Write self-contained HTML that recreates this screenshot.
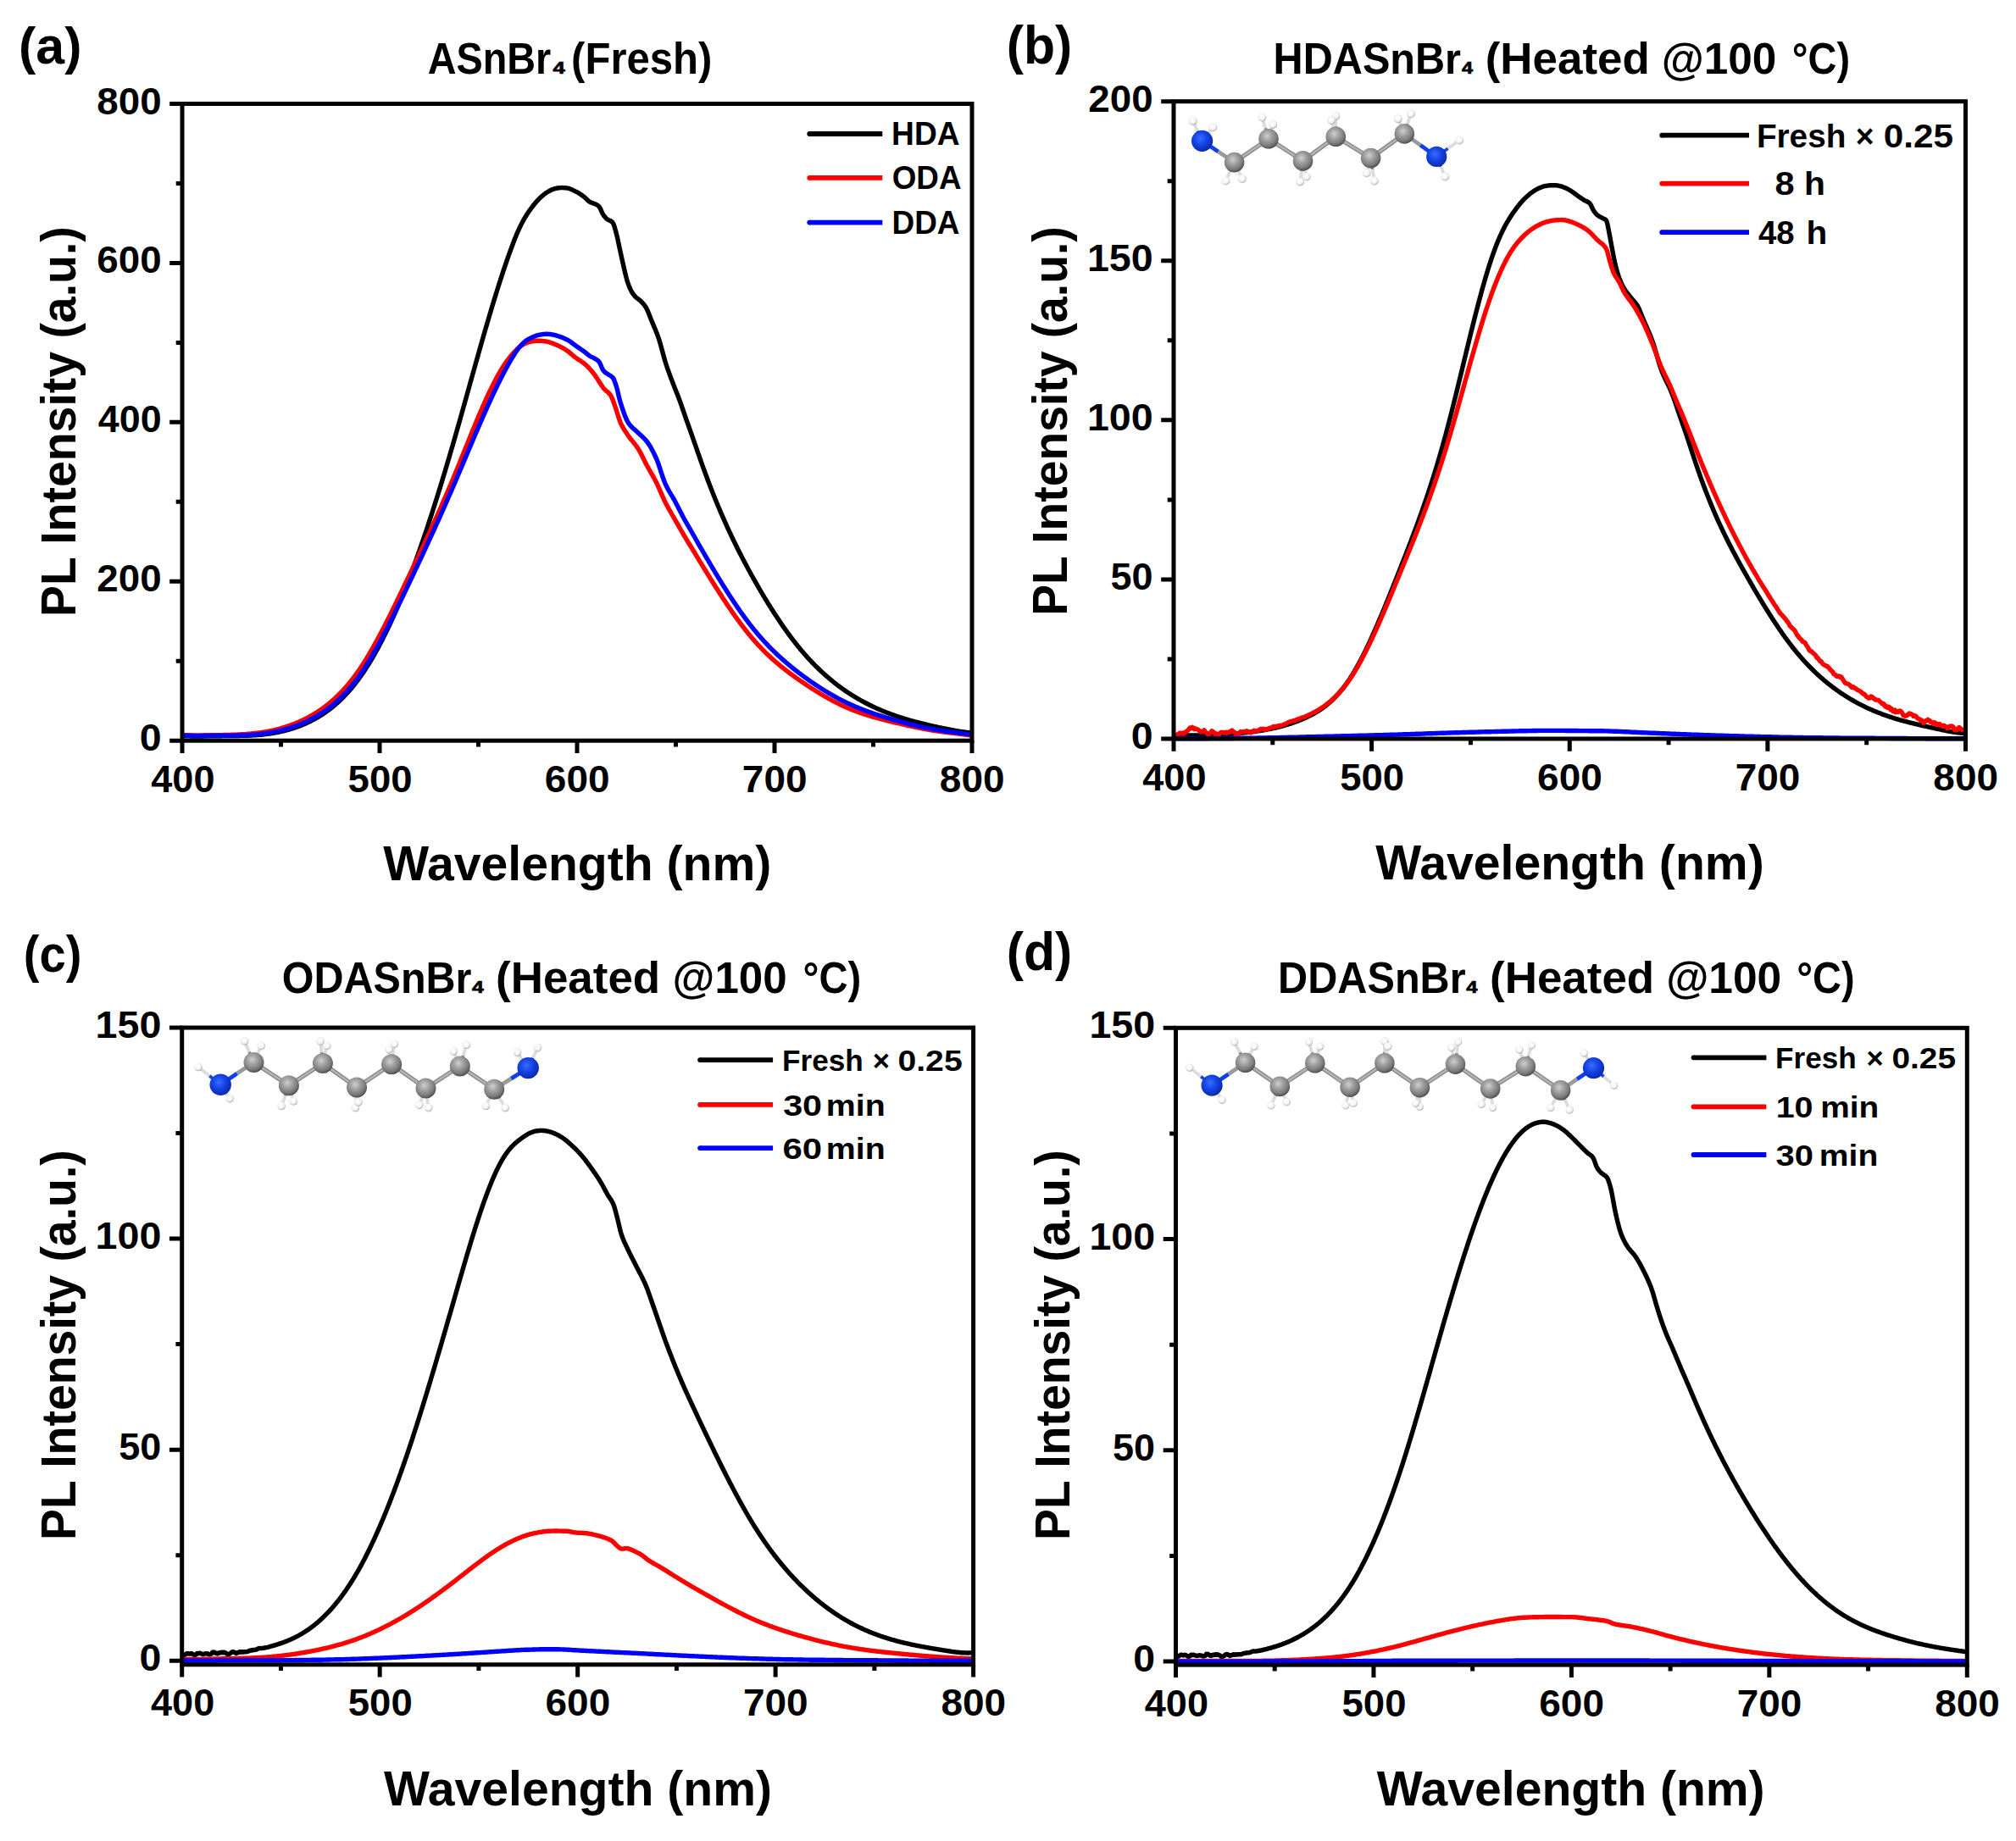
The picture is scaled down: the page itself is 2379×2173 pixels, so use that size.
<!DOCTYPE html>
<html lang="en"><head><meta charset="utf-8"><title>PL spectra</title>
<style>html,body{margin:0;padding:0;background:#fff}svg{display:block}body{width:2379px;height:2173px;overflow:hidden}</style>
</head><body>
<svg width="2379" height="2173" viewBox="0 0 2379 2173">
<defs>
<radialGradient id="gC" cx="0.42" cy="0.36" r="0.66"><stop offset="0" stop-color="#cfcfcf"/><stop offset="0.35" stop-color="#a4a4a4"/><stop offset="0.75" stop-color="#7a7a7a"/><stop offset="1" stop-color="#4a4a4a"/></radialGradient>
<radialGradient id="gN" cx="0.42" cy="0.38" r="0.62"><stop offset="0" stop-color="#3a6cff"/><stop offset="0.5" stop-color="#1444e6"/><stop offset="1" stop-color="#0a2aa8"/></radialGradient>
<radialGradient id="gH" cx="0.44" cy="0.40" r="0.60"><stop offset="0" stop-color="#ffffff"/><stop offset="0.55" stop-color="#f6f6f6"/><stop offset="0.82" stop-color="#dadada"/><stop offset="1" stop-color="#9e9e9e"/></radialGradient>
</defs>
<line x1="1418.6" y1="166.3" x2="1413.1" y2="154.5" stroke="#1a46e0" stroke-width="3.8"/>
<line x1="1413.1" y1="154.5" x2="1407.6" y2="142.7" stroke="#dcdcdc" stroke-width="3.8"/>
<line x1="1418.6" y1="166.3" x2="1424.9" y2="158.3" stroke="#1a46e0" stroke-width="3.8"/>
<line x1="1424.9" y1="158.3" x2="1431.3" y2="150.3" stroke="#dcdcdc" stroke-width="3.8"/>
<line x1="1456.6" y1="191.6" x2="1451.5" y2="202.6" stroke="#8e8e8e" stroke-width="3.8"/>
<line x1="1451.5" y1="202.6" x2="1446.4" y2="213.5" stroke="#dcdcdc" stroke-width="3.8"/>
<line x1="1456.6" y1="191.6" x2="1461.2" y2="201.3" stroke="#8e8e8e" stroke-width="3.8"/>
<line x1="1461.2" y1="201.3" x2="1465.8" y2="211.0" stroke="#dcdcdc" stroke-width="3.8"/>
<line x1="1497.0" y1="163.8" x2="1493.2" y2="151.1" stroke="#8e8e8e" stroke-width="3.8"/>
<line x1="1493.2" y1="151.1" x2="1489.4" y2="138.5" stroke="#dcdcdc" stroke-width="3.8"/>
<line x1="1497.0" y1="163.8" x2="1499.6" y2="155.4" stroke="#8e8e8e" stroke-width="3.8"/>
<line x1="1499.6" y1="155.4" x2="1502.1" y2="146.9" stroke="#dcdcdc" stroke-width="3.8"/>
<line x1="1537.5" y1="189.9" x2="1535.8" y2="202.2" stroke="#8e8e8e" stroke-width="3.8"/>
<line x1="1535.8" y1="202.2" x2="1534.1" y2="214.4" stroke="#dcdcdc" stroke-width="3.8"/>
<line x1="1537.5" y1="189.9" x2="1539.6" y2="199.2" stroke="#8e8e8e" stroke-width="3.8"/>
<line x1="1539.6" y1="199.2" x2="1541.7" y2="208.5" stroke="#dcdcdc" stroke-width="3.8"/>
<line x1="1576.3" y1="161.3" x2="1576.3" y2="149.0" stroke="#8e8e8e" stroke-width="3.8"/>
<line x1="1576.3" y1="149.0" x2="1576.3" y2="136.8" stroke="#dcdcdc" stroke-width="3.8"/>
<line x1="1576.3" y1="161.3" x2="1573.8" y2="151.6" stroke="#8e8e8e" stroke-width="3.8"/>
<line x1="1573.8" y1="151.6" x2="1571.2" y2="141.9" stroke="#dcdcdc" stroke-width="3.8"/>
<line x1="1617.6" y1="186.6" x2="1619.7" y2="200.0" stroke="#8e8e8e" stroke-width="3.8"/>
<line x1="1619.7" y1="200.0" x2="1621.8" y2="213.5" stroke="#dcdcdc" stroke-width="3.8"/>
<line x1="1617.6" y1="186.6" x2="1615.1" y2="195.4" stroke="#8e8e8e" stroke-width="3.8"/>
<line x1="1615.1" y1="195.4" x2="1612.6" y2="204.3" stroke="#dcdcdc" stroke-width="3.8"/>
<line x1="1657.3" y1="157.9" x2="1661.0" y2="146.1" stroke="#8e8e8e" stroke-width="3.8"/>
<line x1="1661.0" y1="146.1" x2="1664.8" y2="134.3" stroke="#dcdcdc" stroke-width="3.8"/>
<line x1="1657.3" y1="157.9" x2="1653.5" y2="149.0" stroke="#8e8e8e" stroke-width="3.8"/>
<line x1="1653.5" y1="149.0" x2="1649.7" y2="140.2" stroke="#dcdcdc" stroke-width="3.8"/>
<line x1="1695.2" y1="184.9" x2="1708.7" y2="175.2" stroke="#1a46e0" stroke-width="3.8"/>
<line x1="1708.7" y1="175.2" x2="1722.2" y2="165.5" stroke="#dcdcdc" stroke-width="3.8"/>
<line x1="1695.2" y1="184.9" x2="1700.3" y2="196.7" stroke="#1a46e0" stroke-width="3.8"/>
<line x1="1700.3" y1="196.7" x2="1705.3" y2="208.5" stroke="#dcdcdc" stroke-width="3.8"/>
<circle cx="1407.6" cy="142.7" r="5.0" fill="url(#gH)"/>
<circle cx="1431.3" cy="150.3" r="5.0" fill="url(#gH)"/>
<circle cx="1446.4" cy="213.5" r="5.0" fill="url(#gH)"/>
<circle cx="1465.8" cy="211.0" r="5.0" fill="url(#gH)"/>
<circle cx="1489.4" cy="138.5" r="5.0" fill="url(#gH)"/>
<circle cx="1502.1" cy="146.9" r="5.0" fill="url(#gH)"/>
<circle cx="1534.1" cy="214.4" r="5.0" fill="url(#gH)"/>
<circle cx="1541.7" cy="208.5" r="5.0" fill="url(#gH)"/>
<circle cx="1576.3" cy="136.8" r="5.0" fill="url(#gH)"/>
<circle cx="1571.2" cy="141.9" r="5.0" fill="url(#gH)"/>
<circle cx="1621.8" cy="213.5" r="5.0" fill="url(#gH)"/>
<circle cx="1612.6" cy="204.3" r="5.0" fill="url(#gH)"/>
<circle cx="1664.8" cy="134.3" r="5.0" fill="url(#gH)"/>
<circle cx="1649.7" cy="140.2" r="5.0" fill="url(#gH)"/>
<circle cx="1722.2" cy="165.5" r="5.0" fill="url(#gH)"/>
<circle cx="1705.3" cy="208.5" r="5.0" fill="url(#gH)"/>
<line x1="1418.6" y1="166.3" x2="1437.6" y2="179.0" stroke="#1040e8" stroke-width="4.8"/>
<line x1="1437.6" y1="179.0" x2="1456.6" y2="191.6" stroke="#9a9a9a" stroke-width="4.8"/>
<line x1="1456.6" y1="191.6" x2="1497.0" y2="163.8" stroke="#8a8a8a" stroke-width="5.2"/>
<line x1="1456.6" y1="191.6" x2="1497.0" y2="163.8" stroke="#b4b4b4" stroke-width="2.4"/>
<line x1="1497.0" y1="163.8" x2="1537.5" y2="189.9" stroke="#8a8a8a" stroke-width="5.2"/>
<line x1="1497.0" y1="163.8" x2="1537.5" y2="189.9" stroke="#b4b4b4" stroke-width="2.4"/>
<line x1="1537.5" y1="189.9" x2="1576.3" y2="161.3" stroke="#8a8a8a" stroke-width="5.2"/>
<line x1="1537.5" y1="189.9" x2="1576.3" y2="161.3" stroke="#b4b4b4" stroke-width="2.4"/>
<line x1="1576.3" y1="161.3" x2="1617.6" y2="186.6" stroke="#8a8a8a" stroke-width="5.2"/>
<line x1="1576.3" y1="161.3" x2="1617.6" y2="186.6" stroke="#b4b4b4" stroke-width="2.4"/>
<line x1="1617.6" y1="186.6" x2="1657.3" y2="157.9" stroke="#8a8a8a" stroke-width="5.2"/>
<line x1="1617.6" y1="186.6" x2="1657.3" y2="157.9" stroke="#b4b4b4" stroke-width="2.4"/>
<line x1="1657.3" y1="157.9" x2="1676.2" y2="171.4" stroke="#9a9a9a" stroke-width="4.8"/>
<line x1="1676.2" y1="171.4" x2="1695.2" y2="184.9" stroke="#1040e8" stroke-width="4.8"/>
<circle cx="1418.6" cy="166.3" r="12.6" fill="url(#gN)"/>
<circle cx="1456.6" cy="191.6" r="11.8" fill="url(#gC)"/>
<circle cx="1497.0" cy="163.8" r="11.8" fill="url(#gC)"/>
<circle cx="1537.5" cy="189.9" r="11.8" fill="url(#gC)"/>
<circle cx="1576.3" cy="161.3" r="11.8" fill="url(#gC)"/>
<circle cx="1617.6" cy="186.6" r="11.8" fill="url(#gC)"/>
<circle cx="1657.3" cy="157.9" r="11.8" fill="url(#gC)"/>
<circle cx="1695.2" cy="184.9" r="12.1" fill="url(#gN)"/>
<line x1="260.2" y1="1280.2" x2="247.1" y2="1269.8" stroke="#1a46e0" stroke-width="3.8"/>
<line x1="247.1" y1="1269.8" x2="234.0" y2="1259.5" stroke="#dcdcdc" stroke-width="3.8"/>
<line x1="260.2" y1="1280.2" x2="265.7" y2="1288.4" stroke="#1a46e0" stroke-width="3.8"/>
<line x1="265.7" y1="1288.4" x2="271.1" y2="1296.6" stroke="#dcdcdc" stroke-width="3.8"/>
<line x1="299.5" y1="1254.0" x2="294.0" y2="1241.5" stroke="#8e8e8e" stroke-width="3.8"/>
<line x1="294.0" y1="1241.5" x2="288.6" y2="1228.9" stroke="#dcdcdc" stroke-width="3.8"/>
<line x1="299.5" y1="1254.0" x2="303.8" y2="1244.2" stroke="#8e8e8e" stroke-width="3.8"/>
<line x1="303.8" y1="1244.2" x2="308.2" y2="1234.4" stroke="#dcdcdc" stroke-width="3.8"/>
<line x1="340.9" y1="1281.3" x2="336.6" y2="1293.3" stroke="#8e8e8e" stroke-width="3.8"/>
<line x1="336.6" y1="1293.3" x2="332.2" y2="1305.3" stroke="#dcdcdc" stroke-width="3.8"/>
<line x1="340.9" y1="1281.3" x2="343.7" y2="1290.6" stroke="#8e8e8e" stroke-width="3.8"/>
<line x1="343.7" y1="1290.6" x2="346.4" y2="1299.8" stroke="#dcdcdc" stroke-width="3.8"/>
<line x1="380.9" y1="1255.1" x2="379.5" y2="1242.0" stroke="#8e8e8e" stroke-width="3.8"/>
<line x1="379.5" y1="1242.0" x2="378.1" y2="1228.9" stroke="#dcdcdc" stroke-width="3.8"/>
<line x1="380.9" y1="1255.1" x2="383.3" y2="1244.7" stroke="#8e8e8e" stroke-width="3.8"/>
<line x1="383.3" y1="1244.7" x2="385.7" y2="1234.4" stroke="#dcdcdc" stroke-width="3.8"/>
<line x1="421.0" y1="1283.5" x2="420.3" y2="1295.5" stroke="#8e8e8e" stroke-width="3.8"/>
<line x1="420.3" y1="1295.5" x2="419.5" y2="1307.5" stroke="#dcdcdc" stroke-width="3.8"/>
<line x1="421.0" y1="1283.5" x2="421.9" y2="1292.2" stroke="#8e8e8e" stroke-width="3.8"/>
<line x1="421.9" y1="1292.2" x2="422.8" y2="1300.9" stroke="#dcdcdc" stroke-width="3.8"/>
<line x1="462.1" y1="1256.2" x2="463.7" y2="1244.2" stroke="#8e8e8e" stroke-width="3.8"/>
<line x1="463.7" y1="1244.2" x2="465.4" y2="1232.2" stroke="#dcdcdc" stroke-width="3.8"/>
<line x1="462.1" y1="1256.2" x2="460.4" y2="1247.5" stroke="#8e8e8e" stroke-width="3.8"/>
<line x1="460.4" y1="1247.5" x2="458.8" y2="1238.7" stroke="#dcdcdc" stroke-width="3.8"/>
<line x1="502.5" y1="1284.6" x2="504.1" y2="1296.0" stroke="#8e8e8e" stroke-width="3.8"/>
<line x1="504.1" y1="1296.0" x2="505.7" y2="1307.5" stroke="#dcdcdc" stroke-width="3.8"/>
<line x1="502.5" y1="1284.6" x2="498.6" y2="1294.4" stroke="#8e8e8e" stroke-width="3.8"/>
<line x1="498.6" y1="1294.4" x2="494.8" y2="1304.2" stroke="#dcdcdc" stroke-width="3.8"/>
<line x1="542.8" y1="1258.4" x2="546.7" y2="1245.8" stroke="#8e8e8e" stroke-width="3.8"/>
<line x1="546.7" y1="1245.8" x2="550.5" y2="1233.3" stroke="#dcdcdc" stroke-width="3.8"/>
<line x1="542.8" y1="1258.4" x2="539.0" y2="1249.6" stroke="#8e8e8e" stroke-width="3.8"/>
<line x1="539.0" y1="1249.6" x2="535.2" y2="1240.9" stroke="#dcdcdc" stroke-width="3.8"/>
<line x1="583.2" y1="1285.7" x2="589.8" y2="1296.6" stroke="#8e8e8e" stroke-width="3.8"/>
<line x1="589.8" y1="1296.6" x2="596.3" y2="1307.5" stroke="#dcdcdc" stroke-width="3.8"/>
<line x1="583.2" y1="1285.7" x2="578.3" y2="1295.5" stroke="#8e8e8e" stroke-width="3.8"/>
<line x1="578.3" y1="1295.5" x2="573.4" y2="1305.3" stroke="#dcdcdc" stroke-width="3.8"/>
<line x1="623.2" y1="1260.6" x2="628.8" y2="1248.6" stroke="#1a46e0" stroke-width="3.8"/>
<line x1="628.8" y1="1248.6" x2="634.5" y2="1236.6" stroke="#dcdcdc" stroke-width="3.8"/>
<line x1="623.2" y1="1260.6" x2="616.8" y2="1251.3" stroke="#1a46e0" stroke-width="3.8"/>
<line x1="616.8" y1="1251.3" x2="610.5" y2="1242.0" stroke="#dcdcdc" stroke-width="3.8"/>
<circle cx="234.0" cy="1259.5" r="4.8" fill="url(#gH)"/>
<circle cx="271.1" cy="1296.6" r="4.8" fill="url(#gH)"/>
<circle cx="288.6" cy="1228.9" r="4.8" fill="url(#gH)"/>
<circle cx="308.2" cy="1234.4" r="4.8" fill="url(#gH)"/>
<circle cx="332.2" cy="1305.3" r="4.8" fill="url(#gH)"/>
<circle cx="346.4" cy="1299.8" r="4.8" fill="url(#gH)"/>
<circle cx="378.1" cy="1228.9" r="4.8" fill="url(#gH)"/>
<circle cx="385.7" cy="1234.4" r="4.8" fill="url(#gH)"/>
<circle cx="419.5" cy="1307.5" r="4.8" fill="url(#gH)"/>
<circle cx="422.8" cy="1300.9" r="4.8" fill="url(#gH)"/>
<circle cx="465.4" cy="1232.2" r="4.8" fill="url(#gH)"/>
<circle cx="458.8" cy="1238.7" r="4.8" fill="url(#gH)"/>
<circle cx="505.7" cy="1307.5" r="4.8" fill="url(#gH)"/>
<circle cx="494.8" cy="1304.2" r="4.8" fill="url(#gH)"/>
<circle cx="550.5" cy="1233.3" r="4.8" fill="url(#gH)"/>
<circle cx="535.2" cy="1240.9" r="4.8" fill="url(#gH)"/>
<circle cx="596.3" cy="1307.5" r="4.8" fill="url(#gH)"/>
<circle cx="573.4" cy="1305.3" r="4.8" fill="url(#gH)"/>
<circle cx="634.5" cy="1236.6" r="4.8" fill="url(#gH)"/>
<circle cx="610.5" cy="1242.0" r="4.8" fill="url(#gH)"/>
<line x1="260.2" y1="1280.2" x2="279.8" y2="1267.1" stroke="#1040e8" stroke-width="4.8"/>
<line x1="279.8" y1="1267.1" x2="299.5" y2="1254.0" stroke="#9a9a9a" stroke-width="4.8"/>
<line x1="299.5" y1="1254.0" x2="340.9" y2="1281.3" stroke="#8a8a8a" stroke-width="5.2"/>
<line x1="299.5" y1="1254.0" x2="340.9" y2="1281.3" stroke="#b4b4b4" stroke-width="2.4"/>
<line x1="340.9" y1="1281.3" x2="380.9" y2="1255.1" stroke="#8a8a8a" stroke-width="5.2"/>
<line x1="340.9" y1="1281.3" x2="380.9" y2="1255.1" stroke="#b4b4b4" stroke-width="2.4"/>
<line x1="380.9" y1="1255.1" x2="421.0" y2="1283.5" stroke="#8a8a8a" stroke-width="5.2"/>
<line x1="380.9" y1="1255.1" x2="421.0" y2="1283.5" stroke="#b4b4b4" stroke-width="2.4"/>
<line x1="421.0" y1="1283.5" x2="462.1" y2="1256.2" stroke="#8a8a8a" stroke-width="5.2"/>
<line x1="421.0" y1="1283.5" x2="462.1" y2="1256.2" stroke="#b4b4b4" stroke-width="2.4"/>
<line x1="462.1" y1="1256.2" x2="502.5" y2="1284.6" stroke="#8a8a8a" stroke-width="5.2"/>
<line x1="462.1" y1="1256.2" x2="502.5" y2="1284.6" stroke="#b4b4b4" stroke-width="2.4"/>
<line x1="502.5" y1="1284.6" x2="542.8" y2="1258.4" stroke="#8a8a8a" stroke-width="5.2"/>
<line x1="502.5" y1="1284.6" x2="542.8" y2="1258.4" stroke="#b4b4b4" stroke-width="2.4"/>
<line x1="542.8" y1="1258.4" x2="583.2" y2="1285.7" stroke="#8a8a8a" stroke-width="5.2"/>
<line x1="542.8" y1="1258.4" x2="583.2" y2="1285.7" stroke="#b4b4b4" stroke-width="2.4"/>
<line x1="583.2" y1="1285.7" x2="603.2" y2="1273.1" stroke="#9a9a9a" stroke-width="4.8"/>
<line x1="603.2" y1="1273.1" x2="623.2" y2="1260.6" stroke="#1040e8" stroke-width="4.8"/>
<circle cx="260.2" cy="1280.2" r="12.7" fill="url(#gN)"/>
<circle cx="299.5" cy="1254.0" r="12.0" fill="url(#gC)"/>
<circle cx="340.9" cy="1281.3" r="12.0" fill="url(#gC)"/>
<circle cx="380.9" cy="1255.1" r="12.0" fill="url(#gC)"/>
<circle cx="421.0" cy="1283.5" r="12.0" fill="url(#gC)"/>
<circle cx="462.1" cy="1256.2" r="12.0" fill="url(#gC)"/>
<circle cx="502.5" cy="1284.6" r="12.0" fill="url(#gC)"/>
<circle cx="542.8" cy="1258.4" r="12.0" fill="url(#gC)"/>
<circle cx="583.2" cy="1285.7" r="12.0" fill="url(#gC)"/>
<circle cx="623.2" cy="1260.6" r="12.7" fill="url(#gN)"/>
<line x1="1430.1" y1="1281.1" x2="1417.0" y2="1270.6" stroke="#1a46e0" stroke-width="3.8"/>
<line x1="1417.0" y1="1270.6" x2="1403.8" y2="1260.1" stroke="#dcdcdc" stroke-width="3.8"/>
<line x1="1430.1" y1="1281.1" x2="1436.0" y2="1289.6" stroke="#1a46e0" stroke-width="3.8"/>
<line x1="1436.0" y1="1289.6" x2="1442.0" y2="1298.2" stroke="#dcdcdc" stroke-width="3.8"/>
<line x1="1469.6" y1="1254.3" x2="1463.0" y2="1242.1" stroke="#8e8e8e" stroke-width="3.8"/>
<line x1="1463.0" y1="1242.1" x2="1456.4" y2="1229.8" stroke="#dcdcdc" stroke-width="3.8"/>
<line x1="1469.6" y1="1254.3" x2="1474.8" y2="1244.7" stroke="#8e8e8e" stroke-width="3.8"/>
<line x1="1474.8" y1="1244.7" x2="1480.1" y2="1235.1" stroke="#dcdcdc" stroke-width="3.8"/>
<line x1="1510.3" y1="1282.4" x2="1505.0" y2="1293.6" stroke="#8e8e8e" stroke-width="3.8"/>
<line x1="1505.0" y1="1293.6" x2="1499.8" y2="1304.8" stroke="#dcdcdc" stroke-width="3.8"/>
<line x1="1510.3" y1="1282.4" x2="1514.2" y2="1291.6" stroke="#8e8e8e" stroke-width="3.8"/>
<line x1="1514.2" y1="1291.6" x2="1518.2" y2="1300.8" stroke="#dcdcdc" stroke-width="3.8"/>
<line x1="1551.8" y1="1254.8" x2="1548.2" y2="1242.3" stroke="#8e8e8e" stroke-width="3.8"/>
<line x1="1548.2" y1="1242.3" x2="1544.5" y2="1229.8" stroke="#dcdcdc" stroke-width="3.8"/>
<line x1="1551.8" y1="1254.8" x2="1554.7" y2="1244.9" stroke="#8e8e8e" stroke-width="3.8"/>
<line x1="1554.7" y1="1244.9" x2="1557.6" y2="1235.1" stroke="#dcdcdc" stroke-width="3.8"/>
<line x1="1593.1" y1="1283.2" x2="1590.5" y2="1294.0" stroke="#8e8e8e" stroke-width="3.8"/>
<line x1="1590.5" y1="1294.0" x2="1587.9" y2="1304.8" stroke="#dcdcdc" stroke-width="3.8"/>
<line x1="1593.1" y1="1283.2" x2="1595.1" y2="1292.7" stroke="#8e8e8e" stroke-width="3.8"/>
<line x1="1595.1" y1="1292.7" x2="1597.1" y2="1302.1" stroke="#dcdcdc" stroke-width="3.8"/>
<line x1="1633.9" y1="1254.8" x2="1633.9" y2="1241.9" stroke="#8e8e8e" stroke-width="3.8"/>
<line x1="1633.9" y1="1241.9" x2="1633.9" y2="1229.0" stroke="#dcdcdc" stroke-width="3.8"/>
<line x1="1633.9" y1="1254.8" x2="1635.8" y2="1244.9" stroke="#8e8e8e" stroke-width="3.8"/>
<line x1="1635.8" y1="1244.9" x2="1637.8" y2="1235.1" stroke="#dcdcdc" stroke-width="3.8"/>
<line x1="1675.4" y1="1283.7" x2="1675.4" y2="1294.9" stroke="#8e8e8e" stroke-width="3.8"/>
<line x1="1675.4" y1="1294.9" x2="1675.4" y2="1306.1" stroke="#dcdcdc" stroke-width="3.8"/>
<line x1="1675.4" y1="1283.7" x2="1673.0" y2="1292.9" stroke="#8e8e8e" stroke-width="3.8"/>
<line x1="1673.0" y1="1292.9" x2="1670.7" y2="1302.1" stroke="#dcdcdc" stroke-width="3.8"/>
<line x1="1717.5" y1="1256.1" x2="1719.0" y2="1243.0" stroke="#8e8e8e" stroke-width="3.8"/>
<line x1="1719.0" y1="1243.0" x2="1720.6" y2="1229.8" stroke="#dcdcdc" stroke-width="3.8"/>
<line x1="1717.5" y1="1256.1" x2="1715.1" y2="1246.3" stroke="#8e8e8e" stroke-width="3.8"/>
<line x1="1715.1" y1="1246.3" x2="1712.7" y2="1236.4" stroke="#dcdcdc" stroke-width="3.8"/>
<line x1="1758.7" y1="1285.0" x2="1760.1" y2="1296.2" stroke="#8e8e8e" stroke-width="3.8"/>
<line x1="1760.1" y1="1296.2" x2="1761.4" y2="1307.4" stroke="#dcdcdc" stroke-width="3.8"/>
<line x1="1758.7" y1="1285.0" x2="1753.5" y2="1294.2" stroke="#8e8e8e" stroke-width="3.8"/>
<line x1="1753.5" y1="1294.2" x2="1748.2" y2="1303.4" stroke="#dcdcdc" stroke-width="3.8"/>
<line x1="1800.3" y1="1258.7" x2="1803.8" y2="1246.3" stroke="#8e8e8e" stroke-width="3.8"/>
<line x1="1803.8" y1="1246.3" x2="1807.4" y2="1233.8" stroke="#dcdcdc" stroke-width="3.8"/>
<line x1="1800.3" y1="1258.7" x2="1796.6" y2="1248.9" stroke="#8e8e8e" stroke-width="3.8"/>
<line x1="1796.6" y1="1248.9" x2="1792.9" y2="1239.0" stroke="#dcdcdc" stroke-width="3.8"/>
<line x1="1841.6" y1="1286.9" x2="1846.8" y2="1298.4" stroke="#8e8e8e" stroke-width="3.8"/>
<line x1="1846.8" y1="1298.4" x2="1852.1" y2="1310.0" stroke="#dcdcdc" stroke-width="3.8"/>
<line x1="1841.6" y1="1286.9" x2="1835.6" y2="1297.1" stroke="#8e8e8e" stroke-width="3.8"/>
<line x1="1835.6" y1="1297.1" x2="1829.7" y2="1307.4" stroke="#dcdcdc" stroke-width="3.8"/>
<line x1="1880.5" y1="1260.6" x2="1874.8" y2="1251.8" stroke="#1a46e0" stroke-width="3.8"/>
<line x1="1874.8" y1="1251.8" x2="1869.2" y2="1243.0" stroke="#dcdcdc" stroke-width="3.8"/>
<line x1="1880.5" y1="1260.6" x2="1892.6" y2="1270.8" stroke="#1a46e0" stroke-width="3.8"/>
<line x1="1892.6" y1="1270.8" x2="1904.6" y2="1281.1" stroke="#dcdcdc" stroke-width="3.8"/>
<circle cx="1403.8" cy="1260.1" r="4.7" fill="url(#gH)"/>
<circle cx="1442.0" cy="1298.2" r="4.7" fill="url(#gH)"/>
<circle cx="1456.4" cy="1229.8" r="4.7" fill="url(#gH)"/>
<circle cx="1480.1" cy="1235.1" r="4.7" fill="url(#gH)"/>
<circle cx="1499.8" cy="1304.8" r="4.7" fill="url(#gH)"/>
<circle cx="1518.2" cy="1300.8" r="4.7" fill="url(#gH)"/>
<circle cx="1544.5" cy="1229.8" r="4.7" fill="url(#gH)"/>
<circle cx="1557.6" cy="1235.1" r="4.7" fill="url(#gH)"/>
<circle cx="1587.9" cy="1304.8" r="4.7" fill="url(#gH)"/>
<circle cx="1597.1" cy="1302.1" r="4.7" fill="url(#gH)"/>
<circle cx="1633.9" cy="1229.0" r="4.7" fill="url(#gH)"/>
<circle cx="1637.8" cy="1235.1" r="4.7" fill="url(#gH)"/>
<circle cx="1675.4" cy="1306.1" r="4.7" fill="url(#gH)"/>
<circle cx="1670.7" cy="1302.1" r="4.7" fill="url(#gH)"/>
<circle cx="1720.6" cy="1229.8" r="4.7" fill="url(#gH)"/>
<circle cx="1712.7" cy="1236.4" r="4.7" fill="url(#gH)"/>
<circle cx="1761.4" cy="1307.4" r="4.7" fill="url(#gH)"/>
<circle cx="1748.2" cy="1303.4" r="4.7" fill="url(#gH)"/>
<circle cx="1807.4" cy="1233.8" r="4.7" fill="url(#gH)"/>
<circle cx="1792.9" cy="1239.0" r="4.7" fill="url(#gH)"/>
<circle cx="1852.1" cy="1310.0" r="4.7" fill="url(#gH)"/>
<circle cx="1829.7" cy="1307.4" r="4.7" fill="url(#gH)"/>
<circle cx="1869.2" cy="1243.0" r="4.7" fill="url(#gH)"/>
<circle cx="1904.6" cy="1281.1" r="4.7" fill="url(#gH)"/>
<line x1="1430.1" y1="1281.1" x2="1449.8" y2="1267.7" stroke="#1040e8" stroke-width="4.8"/>
<line x1="1449.8" y1="1267.7" x2="1469.6" y2="1254.3" stroke="#9a9a9a" stroke-width="4.8"/>
<line x1="1469.6" y1="1254.3" x2="1510.3" y2="1282.4" stroke="#8a8a8a" stroke-width="5.2"/>
<line x1="1469.6" y1="1254.3" x2="1510.3" y2="1282.4" stroke="#b4b4b4" stroke-width="2.4"/>
<line x1="1510.3" y1="1282.4" x2="1551.8" y2="1254.8" stroke="#8a8a8a" stroke-width="5.2"/>
<line x1="1510.3" y1="1282.4" x2="1551.8" y2="1254.8" stroke="#b4b4b4" stroke-width="2.4"/>
<line x1="1551.8" y1="1254.8" x2="1593.1" y2="1283.2" stroke="#8a8a8a" stroke-width="5.2"/>
<line x1="1551.8" y1="1254.8" x2="1593.1" y2="1283.2" stroke="#b4b4b4" stroke-width="2.4"/>
<line x1="1593.1" y1="1283.2" x2="1633.9" y2="1254.8" stroke="#8a8a8a" stroke-width="5.2"/>
<line x1="1593.1" y1="1283.2" x2="1633.9" y2="1254.8" stroke="#b4b4b4" stroke-width="2.4"/>
<line x1="1633.9" y1="1254.8" x2="1675.4" y2="1283.7" stroke="#8a8a8a" stroke-width="5.2"/>
<line x1="1633.9" y1="1254.8" x2="1675.4" y2="1283.7" stroke="#b4b4b4" stroke-width="2.4"/>
<line x1="1675.4" y1="1283.7" x2="1717.5" y2="1256.1" stroke="#8a8a8a" stroke-width="5.2"/>
<line x1="1675.4" y1="1283.7" x2="1717.5" y2="1256.1" stroke="#b4b4b4" stroke-width="2.4"/>
<line x1="1717.5" y1="1256.1" x2="1758.7" y2="1285.0" stroke="#8a8a8a" stroke-width="5.2"/>
<line x1="1717.5" y1="1256.1" x2="1758.7" y2="1285.0" stroke="#b4b4b4" stroke-width="2.4"/>
<line x1="1758.7" y1="1285.0" x2="1800.3" y2="1258.7" stroke="#8a8a8a" stroke-width="5.2"/>
<line x1="1758.7" y1="1285.0" x2="1800.3" y2="1258.7" stroke="#b4b4b4" stroke-width="2.4"/>
<line x1="1800.3" y1="1258.7" x2="1841.6" y2="1286.9" stroke="#8a8a8a" stroke-width="5.2"/>
<line x1="1800.3" y1="1258.7" x2="1841.6" y2="1286.9" stroke="#b4b4b4" stroke-width="2.4"/>
<line x1="1841.6" y1="1286.9" x2="1861.0" y2="1273.7" stroke="#9a9a9a" stroke-width="4.8"/>
<line x1="1861.0" y1="1273.7" x2="1880.5" y2="1260.6" stroke="#1040e8" stroke-width="4.8"/>
<circle cx="1430.1" cy="1281.1" r="12.6" fill="url(#gN)"/>
<circle cx="1469.6" cy="1254.3" r="11.8" fill="url(#gC)"/>
<circle cx="1510.3" cy="1282.4" r="11.8" fill="url(#gC)"/>
<circle cx="1551.8" cy="1254.8" r="11.8" fill="url(#gC)"/>
<circle cx="1593.1" cy="1283.2" r="11.8" fill="url(#gC)"/>
<circle cx="1633.9" cy="1254.8" r="11.8" fill="url(#gC)"/>
<circle cx="1675.4" cy="1283.7" r="11.8" fill="url(#gC)"/>
<circle cx="1717.5" cy="1256.1" r="11.8" fill="url(#gC)"/>
<circle cx="1758.7" cy="1285.0" r="11.8" fill="url(#gC)"/>
<circle cx="1800.3" cy="1258.7" r="11.8" fill="url(#gC)"/>
<circle cx="1841.6" cy="1286.9" r="11.8" fill="url(#gC)"/>
<circle cx="1880.5" cy="1260.6" r="12.6" fill="url(#gN)"/>
<g id="curves-a"><path d="M217.0,868.7L218.0,868.8L219.0,868.8L220.0,868.8L221.0,868.9L222.0,868.9L223.0,868.9L224.0,868.9L225.0,869.0L226.0,869.0L227.0,869.0L228.0,869.0L229.0,869.0L230.0,869.0L231.0,869.0L232.0,869.0L233.0,869.0L234.0,869.0L235.0,869.0L236.0,869.0L237.0,869.0L238.0,869.0L239.0,869.0L240.0,869.0L241.0,868.9L242.0,868.9L243.0,868.9L244.0,868.9L245.0,868.9L246.0,868.9L247.0,868.8L248.0,868.8L249.0,868.8L250.0,868.8L251.0,868.8L252.0,868.8L253.0,868.7L254.0,868.7L255.0,868.7L256.0,868.7L257.0,868.7L258.0,868.7L259.0,868.7L260.0,868.7L261.0,868.7L262.0,868.6L263.0,868.6L264.0,868.6L265.0,868.6L266.0,868.6L267.0,868.6L268.0,868.6L269.0,868.6L270.0,868.6L271.0,868.6L272.0,868.6L273.0,868.6L274.0,868.6L275.0,868.6L276.0,868.5L277.0,868.5L278.0,868.5L279.0,868.5L280.0,868.5L281.0,868.5L282.0,868.5L283.0,868.4L284.0,868.4L285.0,868.4L286.0,868.4L287.0,868.4L288.0,868.3L289.0,868.3L290.0,868.3L291.0,868.2L292.0,868.2L293.0,868.1L294.0,868.1L295.0,868.1L296.0,868.0L297.0,868.0L298.0,867.9L299.0,867.8L300.0,867.8L301.0,867.7L302.0,867.7L303.0,867.6L304.0,867.5L305.0,867.4L306.0,867.3L307.0,867.3L308.0,867.2L309.0,867.1L310.0,867.0L311.0,866.9L312.0,866.7L313.0,866.6L314.0,866.5L315.0,866.4L316.0,866.3L317.0,866.1L318.0,866.0L319.0,865.8L320.0,865.7L321.0,865.5L322.0,865.4L323.0,865.2L324.0,865.0L325.0,864.9L326.0,864.7L327.0,864.5L328.0,864.3L329.0,864.1L330.0,863.9L331.0,863.7L332.0,863.4L333.0,863.2L334.0,863.0L335.0,862.7L336.0,862.5L337.0,862.2L338.0,862.0L339.0,861.7L340.0,861.4L341.0,861.1L342.0,860.8L343.0,860.5L344.0,860.2L345.0,859.9L346.0,859.6L347.0,859.3L348.0,858.9L349.0,858.6L350.0,858.2L351.0,857.9L352.0,857.5L353.0,857.1L354.0,856.8L355.0,856.4L356.0,856.0L357.0,855.6L358.0,855.1L359.0,854.7L360.0,854.3L361.0,853.8L362.0,853.4L363.0,852.9L364.0,852.4L365.0,851.9L366.0,851.5L367.0,851.0L368.0,850.4L369.0,849.9L370.0,849.4L371.0,848.9L372.0,848.3L373.0,847.7L374.0,847.2L375.0,846.6L376.0,846.0L377.0,845.4L378.0,844.8L379.0,844.1L380.0,843.5L381.0,842.8L382.0,842.2L383.0,841.5L384.0,840.8L385.0,840.1L386.0,839.4L387.0,838.7L388.0,837.9L389.0,837.2L390.0,836.4L391.0,835.6L392.0,834.8L393.0,834.0L394.0,833.2L395.0,832.3L396.0,831.5L397.0,830.6L398.0,829.7L399.0,828.8L400.0,827.9L401.0,826.9L402.0,826.0L403.0,825.0L404.0,824.0L405.0,823.0L406.0,822.0L407.0,820.9L408.0,819.9L409.0,818.8L410.0,817.7L411.0,816.6L412.0,815.5L413.0,814.3L414.0,813.2L415.0,812.0L416.0,810.8L417.0,809.5L418.0,808.3L419.0,807.0L420.0,805.7L421.0,804.4L422.0,803.1L423.0,801.7L424.0,800.4L425.0,799.0L426.0,797.6L427.0,796.1L428.0,794.7L429.0,793.2L430.0,791.7L431.0,790.2L432.0,788.6L433.0,787.1L434.0,785.5L435.0,783.9L436.0,782.3L437.0,780.6L438.0,779.0L439.0,777.3L440.0,775.6L441.0,773.8L442.0,772.1L443.0,770.3L444.0,768.5L445.0,766.7L446.0,764.9L447.0,763.0L448.0,761.1L449.0,759.2L450.0,757.3L451.0,755.4L452.0,753.4L453.0,751.4L454.0,749.4L455.0,747.4L456.0,745.4L457.0,743.3L458.0,741.2L459.0,739.1L460.0,737.0L461.0,734.8L462.0,732.7L463.0,730.5L464.0,728.3L465.0,726.0L466.0,723.8L467.0,721.5L468.0,719.2L469.0,716.9L470.0,714.6L471.0,712.2L472.0,709.8L473.0,707.5L474.0,705.0L475.0,702.6L476.0,700.1L477.0,697.7L478.0,695.2L479.0,692.6L480.0,690.1L481.0,687.5L482.0,685.0L483.0,682.3L484.0,679.7L485.0,677.1L486.0,674.4L487.0,671.7L488.0,669.0L489.0,666.3L490.0,663.6L491.0,660.8L492.0,658.0L493.0,655.2L494.0,652.4L495.0,649.6L496.0,646.7L497.0,643.9L498.0,641.0L499.0,638.1L500.0,635.2L501.0,632.2L502.0,629.3L503.0,626.3L504.0,623.3L505.0,620.3L506.0,617.2L507.0,614.2L508.0,611.1L509.0,608.1L510.0,605.0L511.0,601.8L512.0,598.7L513.0,595.6L514.0,592.4L515.0,589.2L516.0,586.1L517.0,582.9L518.0,579.6L519.0,576.4L520.0,573.1L521.0,569.9L522.0,566.6L523.0,563.3L524.0,560.0L525.0,556.7L526.0,553.3L527.0,550.0L528.0,546.6L529.0,543.3L530.0,539.9L531.0,536.5L532.0,533.0L533.0,529.6L534.0,526.2L535.0,522.7L536.0,519.2L537.0,515.8L538.0,512.3L539.0,508.8L540.0,505.2L541.0,501.7L542.0,498.2L543.0,494.7L544.0,491.1L545.0,487.6L546.0,484.0L547.0,480.4L548.0,476.9L549.0,473.3L550.0,469.7L551.0,466.1L552.0,462.5L553.0,459.0L554.0,455.4L555.0,451.8L556.0,448.2L557.0,444.6L558.0,441.1L559.0,437.5L560.0,433.9L561.0,430.3L562.0,426.8L563.0,423.2L564.0,419.7L565.0,416.1L566.0,412.6L567.0,409.1L568.0,405.6L569.0,402.1L570.0,398.6L571.0,395.1L572.0,391.6L573.0,388.1L574.0,384.7L575.0,381.3L576.0,377.9L577.0,374.5L578.0,371.1L579.0,367.7L580.0,364.4L581.0,361.0L582.0,357.7L583.0,354.4L584.0,351.2L585.0,347.9L586.0,344.7L587.0,341.5L588.0,338.3L589.0,335.1L590.0,332.0L591.0,328.9L592.0,325.8L593.0,322.8L594.0,319.7L595.0,316.7L596.0,313.8L597.0,310.8L598.0,307.9L599.0,305.1L600.0,302.2L601.0,299.4L602.0,296.7L603.0,293.9L604.0,291.2L605.0,288.5L606.0,285.9L607.0,283.3L608.0,280.8L609.0,278.3L610.0,275.9L611.0,273.6L612.0,271.4L613.0,269.2L614.0,267.1L615.0,265.1L616.0,263.1L617.0,261.2L618.0,259.4L619.0,257.7L620.0,256.0L621.0,254.4L622.0,252.8L623.0,251.3L624.0,249.8L625.0,248.4L626.0,247.0L627.0,245.6L628.0,244.3L629.0,243.0L630.0,241.7L631.0,240.5L632.0,239.3L633.0,238.1L634.0,237.0L635.0,235.9L636.0,234.9L637.0,233.9L638.0,232.9L639.0,232.0L640.0,231.1L641.0,230.3L642.0,229.5L643.0,228.7L644.0,228.0L645.0,227.3L646.0,226.7L647.0,226.1L648.0,225.5L649.0,225.0L650.0,224.5L651.0,224.0L652.0,223.6L653.0,223.3L654.0,222.9L655.0,222.6L656.0,222.4L657.0,222.2L658.0,222.0L659.0,221.8L660.0,221.7L661.0,221.6L662.0,221.6L663.0,221.5L664.0,221.6L665.0,221.6L666.0,221.7L667.0,221.8L668.0,221.9L669.0,222.0L670.0,222.2L671.0,222.4L672.0,222.7L673.0,223.0L674.0,223.4L675.0,223.8L676.0,224.3L677.0,224.8L678.0,225.3L679.0,225.8L680.0,226.3L681.0,226.9L682.0,227.4L683.0,228.0L684.0,228.6L685.0,229.3L686.0,230.0L687.0,230.7L688.0,231.4L689.0,232.2L690.0,232.9L691.0,233.8L692.0,234.8L693.0,235.8L694.0,236.8L695.0,237.7L696.0,238.3L697.0,238.8L698.0,239.2L699.0,239.5L700.0,239.9L701.0,240.3L702.0,240.7L703.0,241.2L704.0,241.7L705.0,242.2L706.0,242.9L707.0,243.9L708.0,245.4L709.0,247.5L710.0,249.8L711.0,252.0L712.0,253.7L713.0,255.1L714.0,256.3L715.0,257.4L716.0,258.3L717.0,259.1L718.0,259.6L719.0,260.1L720.0,260.5L721.0,261.0L722.0,261.7L723.0,262.7L724.0,264.5L725.0,267.3L726.0,270.8L727.0,274.5L728.0,278.4L729.0,282.7L730.0,287.4L731.0,292.2L732.0,296.8L733.0,301.4L734.0,305.9L735.0,310.4L736.0,314.8L737.0,319.1L738.0,323.4L739.0,327.4L740.0,331.0L741.0,334.1L742.0,336.9L743.0,339.4L744.0,341.6L745.0,343.6L746.0,345.3L747.0,346.9L748.0,348.2L749.0,349.4L750.0,350.4L751.0,351.3L752.0,352.1L753.0,352.8L754.0,353.6L755.0,354.4L756.0,355.3L757.0,356.3L758.0,357.4L759.0,358.5L760.0,359.6L761.0,360.9L762.0,362.4L763.0,364.2L764.0,366.3L765.0,368.6L766.0,371.2L767.0,373.7L768.0,376.3L769.0,378.7L770.0,381.1L771.0,383.5L772.0,385.8L773.0,388.2L774.0,390.7L775.0,393.2L776.0,395.9L777.0,398.7L778.0,401.7L779.0,405.0L780.0,408.5L781.0,412.2L782.0,415.9L783.0,419.7L784.0,423.3L785.0,426.8L786.0,430.0L787.0,433.0L788.0,435.9L789.0,438.7L790.0,441.4L791.0,444.1L792.0,446.8L793.0,449.4L794.0,452.0L795.0,454.6L796.0,457.2L797.0,459.7L798.0,462.2L799.0,464.8L800.0,467.3L801.0,470.0L802.0,472.6L803.0,475.4L804.0,478.2L805.0,481.1L806.0,484.0L807.0,486.9L808.0,489.8L809.0,492.7L810.0,495.6L811.0,498.4L812.0,501.2L813.0,504.0L814.0,506.8L815.0,509.6L816.0,512.4L817.0,515.3L818.0,518.1L819.0,521.0L820.0,523.9L821.0,526.7L822.0,529.6L823.0,532.5L824.0,535.4L825.0,538.2L826.0,541.1L827.0,543.9L828.0,546.8L829.0,549.6L830.0,552.4L831.0,555.1L832.0,557.9L833.0,560.6L834.0,563.3L835.0,566.0L836.0,568.7L837.0,571.3L838.0,573.9L839.0,576.5L840.0,579.0L841.0,581.6L842.0,584.1L843.0,586.6L844.0,589.1L845.0,591.5L846.0,594.0L847.0,596.4L848.0,598.8L849.0,601.1L850.0,603.5L851.0,605.8L852.0,608.1L853.0,610.4L854.0,612.7L855.0,614.9L856.0,617.2L857.0,619.4L858.0,621.6L859.0,623.8L860.0,626.0L861.0,628.1L862.0,630.2L863.0,632.3L864.0,634.4L865.0,636.5L866.0,638.6L867.0,640.7L868.0,642.7L869.0,644.7L870.0,646.7L871.0,648.7L872.0,650.7L873.0,652.7L874.0,654.6L875.0,656.6L876.0,658.5L877.0,660.4L878.0,662.3L879.0,664.2L880.0,666.1L881.0,668.0L882.0,669.8L883.0,671.7L884.0,673.5L885.0,675.3L886.0,677.2L887.0,679.0L888.0,680.8L889.0,682.6L890.0,684.3L891.0,686.1L892.0,687.9L893.0,689.6L894.0,691.4L895.0,693.1L896.0,694.8L897.0,696.6L898.0,698.3L899.0,700.0L900.0,701.7L901.0,703.3L902.0,705.0L903.0,706.7L904.0,708.3L905.0,709.9L906.0,711.6L907.0,713.2L908.0,714.8L909.0,716.4L910.0,718.0L911.0,719.6L912.0,721.1L913.0,722.7L914.0,724.3L915.0,725.8L916.0,727.3L917.0,728.8L918.0,730.3L919.0,731.8L920.0,733.3L921.0,734.8L922.0,736.3L923.0,737.7L924.0,739.2L925.0,740.6L926.0,742.0L927.0,743.4L928.0,744.8L929.0,746.2L930.0,747.6L931.0,749.0L932.0,750.3L933.0,751.6L934.0,753.0L935.0,754.3L936.0,755.6L937.0,756.9L938.0,758.2L939.0,759.5L940.0,760.7L941.0,762.0L942.0,763.2L943.0,764.4L944.0,765.7L945.0,766.9L946.0,768.1L947.0,769.2L948.0,770.4L949.0,771.6L950.0,772.7L951.0,773.8L952.0,775.0L953.0,776.1L954.0,777.2L955.0,778.3L956.0,779.3L957.0,780.4L958.0,781.5L959.0,782.5L960.0,783.5L961.0,784.6L962.0,785.6L963.0,786.6L964.0,787.6L965.0,788.5L966.0,789.5L967.0,790.5L968.0,791.4L969.0,792.4L970.0,793.3L971.0,794.2L972.0,795.1L973.0,796.0L974.0,796.9L975.0,797.8L976.0,798.7L977.0,799.5L978.0,800.4L979.0,801.2L980.0,802.1L981.0,802.9L982.0,803.7L983.0,804.5L984.0,805.3L985.0,806.1L986.0,806.9L987.0,807.7L988.0,808.5L989.0,809.2L990.0,810.0L991.0,810.7L992.0,811.4L993.0,812.2L994.0,812.9L995.0,813.6L996.0,814.3L997.0,815.0L998.0,815.7L999.0,816.4L1000.0,817.0L1001.0,817.7L1002.0,818.3L1003.0,819.0L1004.0,819.6L1005.0,820.3L1006.0,820.9L1007.0,821.5L1008.0,822.1L1009.0,822.7L1010.0,823.3L1011.0,823.9L1012.0,824.5L1013.0,825.1L1014.0,825.7L1015.0,826.2L1016.0,826.8L1017.0,827.3L1018.0,827.9L1019.0,828.4L1020.0,829.0L1021.0,829.5L1022.0,830.0L1023.0,830.5L1024.0,831.0L1025.0,831.5L1026.0,832.0L1027.0,832.5L1028.0,833.0L1029.0,833.5L1030.0,834.0L1031.0,834.4L1032.0,834.9L1033.0,835.4L1034.0,835.8L1035.0,836.3L1036.0,836.7L1037.0,837.1L1038.0,837.6L1039.0,838.0L1040.0,838.4L1041.0,838.8L1042.0,839.3L1043.0,839.7L1044.0,840.1L1045.0,840.5L1046.0,840.9L1047.0,841.3L1048.0,841.6L1049.0,842.0L1050.0,842.4L1051.0,842.8L1052.0,843.1L1053.0,843.5L1054.0,843.9L1055.0,844.2L1056.0,844.6L1057.0,844.9L1058.0,845.3L1059.0,845.6L1060.0,845.9L1061.0,846.3L1062.0,846.6L1063.0,846.9L1064.0,847.2L1065.0,847.6L1066.0,847.9L1067.0,848.2L1068.0,848.5L1069.0,848.8L1070.0,849.1L1071.0,849.4L1072.0,849.7L1073.0,850.0L1074.0,850.3L1075.0,850.5L1076.0,850.8L1077.0,851.1L1078.0,851.4L1079.0,851.7L1080.0,851.9L1081.0,852.2L1082.0,852.5L1083.0,852.7L1084.0,853.0L1085.0,853.2L1086.0,853.5L1087.0,853.7L1088.0,854.0L1089.0,854.2L1090.0,854.5L1091.0,854.7L1092.0,855.0L1093.0,855.2L1094.0,855.4L1095.0,855.7L1096.0,855.9L1097.0,856.1L1098.0,856.4L1099.0,856.6L1100.0,856.8L1101.0,857.0L1102.0,857.3L1103.0,857.5L1104.0,857.7L1105.0,857.9L1106.0,858.1L1107.0,858.4L1108.0,858.6L1109.0,858.8L1110.0,859.0L1111.0,859.2L1112.0,859.4L1113.0,859.6L1114.0,859.8L1115.0,860.0L1116.0,860.2L1117.0,860.4L1118.0,860.6L1119.0,860.8L1120.0,861.0L1121.0,861.2L1122.0,861.4L1123.0,861.6L1124.0,861.8L1125.0,861.9L1126.0,862.1L1127.0,862.3L1128.0,862.5L1129.0,862.6L1130.0,862.8L1131.0,863.0L1132.0,863.1L1133.0,863.3L1134.0,863.5L1135.0,863.6L1136.0,863.8L1137.0,863.9L1138.0,864.1L1139.0,864.2L1140.0,864.3L1141.0,864.5L1142.0,864.6L1143.0,864.7L1144.0,864.8L1145.0,864.9" stroke="#000" stroke-width="5.4" fill="none" stroke-linejoin="round"/>
<path d="M217.0,867.7L218.0,867.7L219.0,867.8L220.0,867.8L221.0,867.8L222.0,867.8L223.0,867.8L224.0,867.8L225.0,867.8L226.0,867.9L227.0,867.9L228.0,867.9L229.0,867.9L230.0,867.9L231.0,867.9L232.0,867.9L233.0,867.9L234.0,867.9L235.0,867.9L236.0,867.9L237.0,867.9L238.0,867.9L239.0,867.9L240.0,867.9L241.0,867.8L242.0,867.8L243.0,867.8L244.0,867.8L245.0,867.8L246.0,867.8L247.0,867.8L248.0,867.8L249.0,867.8L250.0,867.8L251.0,867.7L252.0,867.7L253.0,867.7L254.0,867.7L255.0,867.7L256.0,867.7L257.0,867.7L258.0,867.6L259.0,867.6L260.0,867.6L261.0,867.6L262.0,867.6L263.0,867.6L264.0,867.5L265.0,867.5L266.0,867.5L267.0,867.5L268.0,867.5L269.0,867.4L270.0,867.4L271.0,867.4L272.0,867.4L273.0,867.3L274.0,867.3L275.0,867.3L276.0,867.2L277.0,867.2L278.0,867.2L279.0,867.1L280.0,867.1L281.0,867.0L282.0,867.0L283.0,866.9L284.0,866.9L285.0,866.8L286.0,866.8L287.0,866.7L288.0,866.6L289.0,866.6L290.0,866.5L291.0,866.4L292.0,866.3L293.0,866.3L294.0,866.2L295.0,866.1L296.0,866.0L297.0,865.9L298.0,865.8L299.0,865.7L300.0,865.6L301.0,865.5L302.0,865.4L303.0,865.3L304.0,865.1L305.0,865.0L306.0,864.9L307.0,864.7L308.0,864.6L309.0,864.4L310.0,864.3L311.0,864.1L312.0,864.0L313.0,863.8L314.0,863.6L315.0,863.5L316.0,863.3L317.0,863.1L318.0,862.9L319.0,862.7L320.0,862.5L321.0,862.3L322.0,862.1L323.0,861.8L324.0,861.6L325.0,861.4L326.0,861.1L327.0,860.9L328.0,860.6L329.0,860.4L330.0,860.1L331.0,859.8L332.0,859.5L333.0,859.2L334.0,859.0L335.0,858.7L336.0,858.3L337.0,858.0L338.0,857.7L339.0,857.4L340.0,857.0L341.0,856.7L342.0,856.3L343.0,856.0L344.0,855.6L345.0,855.2L346.0,854.9L347.0,854.5L348.0,854.1L349.0,853.7L350.0,853.2L351.0,852.8L352.0,852.4L353.0,852.0L354.0,851.5L355.0,851.0L356.0,850.6L357.0,850.1L358.0,849.6L359.0,849.1L360.0,848.6L361.0,848.1L362.0,847.6L363.0,847.1L364.0,846.6L365.0,846.0L366.0,845.5L367.0,844.9L368.0,844.3L369.0,843.7L370.0,843.1L371.0,842.5L372.0,841.9L373.0,841.3L374.0,840.7L375.0,840.0L376.0,839.4L377.0,838.7L378.0,838.0L379.0,837.3L380.0,836.6L381.0,835.9L382.0,835.2L383.0,834.4L384.0,833.7L385.0,832.9L386.0,832.1L387.0,831.4L388.0,830.5L389.0,829.7L390.0,828.9L391.0,828.0L392.0,827.2L393.0,826.3L394.0,825.4L395.0,824.5L396.0,823.6L397.0,822.6L398.0,821.7L399.0,820.7L400.0,819.7L401.0,818.7L402.0,817.7L403.0,816.6L404.0,815.6L405.0,814.5L406.0,813.4L407.0,812.3L408.0,811.2L409.0,810.0L410.0,808.9L411.0,807.7L412.0,806.5L413.0,805.2L414.0,804.0L415.0,802.7L416.0,801.5L417.0,800.2L418.0,798.8L419.0,797.5L420.0,796.1L421.0,794.7L422.0,793.3L423.0,791.9L424.0,790.4L425.0,789.0L426.0,787.5L427.0,786.0L428.0,784.4L429.0,782.9L430.0,781.3L431.0,779.7L432.0,778.1L433.0,776.4L434.0,774.8L435.0,773.1L436.0,771.4L437.0,769.7L438.0,768.0L439.0,766.3L440.0,764.5L441.0,762.7L442.0,760.9L443.0,759.1L444.0,757.3L445.0,755.5L446.0,753.6L447.0,751.8L448.0,749.9L449.0,748.0L450.0,746.1L451.0,744.2L452.0,742.3L453.0,740.4L454.0,738.4L455.0,736.5L456.0,734.5L457.0,732.5L458.0,730.6L459.0,728.6L460.0,726.6L461.0,724.6L462.0,722.5L463.0,720.5L464.0,718.5L465.0,716.4L466.0,714.4L467.0,712.4L468.0,710.3L469.0,708.2L470.0,706.2L471.0,704.1L472.0,702.0L473.0,700.0L474.0,697.9L475.0,695.8L476.0,693.7L477.0,691.6L478.0,689.5L479.0,687.5L480.0,685.4L481.0,683.3L482.0,681.2L483.0,679.1L484.0,677.0L485.0,674.9L486.0,672.8L487.0,670.7L488.0,668.6L489.0,666.5L490.0,664.4L491.0,662.3L492.0,660.2L493.0,658.1L494.0,655.9L495.0,653.8L496.0,651.7L497.0,649.6L498.0,647.5L499.0,645.3L500.0,643.2L501.0,641.0L502.0,638.9L503.0,636.7L504.0,634.6L505.0,632.4L506.0,630.3L507.0,628.1L508.0,625.9L509.0,623.7L510.0,621.5L511.0,619.3L512.0,617.1L513.0,614.9L514.0,612.7L515.0,610.5L516.0,608.3L517.0,606.0L518.0,603.8L519.0,601.5L520.0,599.3L521.0,597.0L522.0,594.7L523.0,592.4L524.0,590.1L525.0,587.8L526.0,585.5L527.0,583.2L528.0,580.9L529.0,578.5L530.0,576.2L531.0,573.8L532.0,571.5L533.0,569.1L534.0,566.7L535.0,564.3L536.0,561.9L537.0,559.4L538.0,557.0L539.0,554.6L540.0,552.1L541.0,549.7L542.0,547.2L543.0,544.7L544.0,542.3L545.0,539.8L546.0,537.3L547.0,534.8L548.0,532.3L549.0,529.8L550.0,527.4L551.0,524.9L552.0,522.4L553.0,519.9L554.0,517.5L555.0,515.0L556.0,512.5L557.0,510.1L558.0,507.6L559.0,505.2L560.0,502.8L561.0,500.4L562.0,497.9L563.0,495.6L564.0,493.2L565.0,490.8L566.0,488.5L567.0,486.1L568.0,483.8L569.0,481.5L570.0,479.2L571.0,477.0L572.0,474.7L573.0,472.5L574.0,470.3L575.0,468.1L576.0,466.0L577.0,463.8L578.0,461.7L579.0,459.7L580.0,457.6L581.0,455.6L582.0,453.6L583.0,451.6L584.0,449.7L585.0,447.8L586.0,445.9L587.0,444.1L588.0,442.3L589.0,440.5L590.0,438.8L591.0,437.1L592.0,435.5L593.0,433.9L594.0,432.3L595.0,430.8L596.0,429.3L597.0,427.8L598.0,426.4L599.0,425.0L600.0,423.7L601.0,422.4L602.0,421.1L603.0,419.9L604.0,418.7L605.0,417.5L606.0,416.4L607.0,415.3L608.0,414.3L609.0,413.3L610.0,412.3L611.0,411.4L612.0,410.5L613.0,409.7L614.0,408.9L615.0,408.2L616.0,407.5L617.0,406.9L618.0,406.3L619.0,405.8L620.0,405.3L621.0,404.9L622.0,404.5L623.0,404.1L624.0,403.8L625.0,403.6L626.0,403.3L627.0,403.1L628.0,402.9L629.0,402.8L630.0,402.6L631.0,402.5L632.0,402.4L633.0,402.3L634.0,402.3L635.0,402.3L636.0,402.3L637.0,402.3L638.0,402.3L639.0,402.4L640.0,402.5L641.0,402.6L642.0,402.7L643.0,402.9L644.0,403.0L645.0,403.2L646.0,403.4L647.0,403.7L648.0,403.9L649.0,404.2L650.0,404.5L651.0,404.9L652.0,405.2L653.0,405.6L654.0,406.0L655.0,406.4L656.0,406.8L657.0,407.3L658.0,407.7L659.0,408.2L660.0,408.7L661.0,409.1L662.0,409.6L663.0,410.1L664.0,410.7L665.0,411.2L666.0,411.8L667.0,412.5L668.0,413.1L669.0,413.8L670.0,414.5L671.0,415.2L672.0,416.0L673.0,416.9L674.0,417.7L675.0,418.6L676.0,419.4L677.0,420.3L678.0,421.1L679.0,421.9L680.0,422.6L681.0,423.3L682.0,424.0L683.0,424.7L684.0,425.3L685.0,425.9L686.0,426.6L687.0,427.3L688.0,428.0L689.0,428.7L690.0,429.6L691.0,430.4L692.0,431.3L693.0,432.3L694.0,433.3L695.0,434.4L696.0,435.5L697.0,436.6L698.0,437.8L699.0,439.0L700.0,440.2L701.0,441.5L702.0,442.8L703.0,444.3L704.0,445.8L705.0,447.3L706.0,448.9L707.0,450.4L708.0,452.0L709.0,453.5L710.0,455.1L711.0,456.6L712.0,458.0L713.0,459.1L714.0,460.1L715.0,461.0L716.0,461.8L717.0,462.6L718.0,463.5L719.0,464.5L720.0,465.7L721.0,467.2L722.0,469.2L723.0,471.7L724.0,474.5L725.0,477.3L726.0,480.1L727.0,483.1L728.0,486.3L729.0,489.5L730.0,492.6L731.0,495.5L732.0,498.2L733.0,500.6L734.0,502.6L735.0,504.4L736.0,506.2L737.0,507.8L738.0,509.3L739.0,510.8L740.0,512.3L741.0,513.7L742.0,515.2L743.0,516.5L744.0,517.8L745.0,519.1L746.0,520.3L747.0,521.5L748.0,522.7L749.0,523.9L750.0,525.2L751.0,526.6L752.0,528.0L753.0,529.5L754.0,531.2L755.0,533.0L756.0,534.8L757.0,536.8L758.0,538.7L759.0,540.8L760.0,542.8L761.0,544.8L762.0,546.8L763.0,548.7L764.0,550.5L765.0,552.3L766.0,554.1L767.0,555.8L768.0,557.6L769.0,559.3L770.0,561.1L771.0,562.9L772.0,564.7L773.0,566.5L774.0,568.5L775.0,570.5L776.0,572.6L777.0,574.8L778.0,577.0L779.0,579.3L780.0,581.6L781.0,583.9L782.0,586.2L783.0,588.4L784.0,590.6L785.0,592.6L786.0,594.6L787.0,596.5L788.0,598.4L789.0,600.2L790.0,602.0L791.0,603.7L792.0,605.5L793.0,607.2L794.0,609.0L795.0,610.7L796.0,612.4L797.0,614.2L798.0,615.9L799.0,617.7L800.0,619.4L801.0,621.2L802.0,623.0L803.0,624.7L804.0,626.5L805.0,628.2L806.0,629.9L807.0,631.6L808.0,633.3L809.0,634.9L810.0,636.6L811.0,638.2L812.0,639.9L813.0,641.5L814.0,643.1L815.0,644.7L816.0,646.4L817.0,648.0L818.0,649.6L819.0,651.3L820.0,652.9L821.0,654.6L822.0,656.2L823.0,657.9L824.0,659.5L825.0,661.2L826.0,662.8L827.0,664.5L828.0,666.1L829.0,667.7L830.0,669.4L831.0,671.0L832.0,672.6L833.0,674.3L834.0,675.9L835.0,677.5L836.0,679.1L837.0,680.7L838.0,682.4L839.0,684.0L840.0,685.6L841.0,687.2L842.0,688.7L843.0,690.3L844.0,691.9L845.0,693.5L846.0,695.1L847.0,696.6L848.0,698.2L849.0,699.7L850.0,701.3L851.0,702.8L852.0,704.4L853.0,705.9L854.0,707.4L855.0,708.9L856.0,710.4L857.0,711.9L858.0,713.4L859.0,714.9L860.0,716.4L861.0,717.9L862.0,719.3L863.0,720.8L864.0,722.2L865.0,723.7L866.0,725.1L867.0,726.5L868.0,727.9L869.0,729.3L870.0,730.7L871.0,732.1L872.0,733.4L873.0,734.8L874.0,736.1L875.0,737.5L876.0,738.8L877.0,740.1L878.0,741.4L879.0,742.7L880.0,744.0L881.0,745.2L882.0,746.5L883.0,747.7L884.0,748.9L885.0,750.2L886.0,751.4L887.0,752.5L888.0,753.7L889.0,754.9L890.0,756.0L891.0,757.2L892.0,758.3L893.0,759.4L894.0,760.5L895.0,761.6L896.0,762.6L897.0,763.7L898.0,764.7L899.0,765.8L900.0,766.8L901.0,767.8L902.0,768.8L903.0,769.8L904.0,770.8L905.0,771.8L906.0,772.7L907.0,773.7L908.0,774.6L909.0,775.5L910.0,776.5L911.0,777.4L912.0,778.3L913.0,779.2L914.0,780.0L915.0,780.9L916.0,781.8L917.0,782.6L918.0,783.5L919.0,784.3L920.0,785.1L921.0,786.0L922.0,786.8L923.0,787.6L924.0,788.4L925.0,789.2L926.0,790.0L927.0,790.8L928.0,791.5L929.0,792.3L930.0,793.1L931.0,793.8L932.0,794.6L933.0,795.3L934.0,796.1L935.0,796.8L936.0,797.5L937.0,798.3L938.0,799.0L939.0,799.7L940.0,800.4L941.0,801.1L942.0,801.8L943.0,802.5L944.0,803.2L945.0,803.9L946.0,804.6L947.0,805.3L948.0,806.0L949.0,806.6L950.0,807.3L951.0,808.0L952.0,808.7L953.0,809.3L954.0,810.0L955.0,810.7L956.0,811.3L957.0,812.0L958.0,812.6L959.0,813.2L960.0,813.9L961.0,814.5L962.0,815.1L963.0,815.8L964.0,816.4L965.0,817.0L966.0,817.6L967.0,818.2L968.0,818.8L969.0,819.4L970.0,820.0L971.0,820.6L972.0,821.2L973.0,821.8L974.0,822.4L975.0,822.9L976.0,823.5L977.0,824.1L978.0,824.6L979.0,825.2L980.0,825.7L981.0,826.3L982.0,826.8L983.0,827.3L984.0,827.8L985.0,828.4L986.0,828.9L987.0,829.4L988.0,829.9L989.0,830.4L990.0,830.9L991.0,831.4L992.0,831.9L993.0,832.3L994.0,832.8L995.0,833.3L996.0,833.7L997.0,834.2L998.0,834.6L999.0,835.1L1000.0,835.5L1001.0,835.9L1002.0,836.3L1003.0,836.8L1004.0,837.2L1005.0,837.6L1006.0,838.0L1007.0,838.4L1008.0,838.7L1009.0,839.1L1010.0,839.5L1011.0,839.9L1012.0,840.2L1013.0,840.6L1014.0,841.0L1015.0,841.3L1016.0,841.7L1017.0,842.0L1018.0,842.3L1019.0,842.7L1020.0,843.0L1021.0,843.3L1022.0,843.6L1023.0,844.0L1024.0,844.3L1025.0,844.6L1026.0,844.9L1027.0,845.2L1028.0,845.5L1029.0,845.8L1030.0,846.1L1031.0,846.4L1032.0,846.6L1033.0,846.9L1034.0,847.2L1035.0,847.5L1036.0,847.7L1037.0,848.0L1038.0,848.3L1039.0,848.6L1040.0,848.8L1041.0,849.1L1042.0,849.3L1043.0,849.6L1044.0,849.8L1045.0,850.1L1046.0,850.4L1047.0,850.6L1048.0,850.8L1049.0,851.1L1050.0,851.3L1051.0,851.6L1052.0,851.8L1053.0,852.1L1054.0,852.3L1055.0,852.5L1056.0,852.8L1057.0,853.0L1058.0,853.3L1059.0,853.5L1060.0,853.7L1061.0,854.0L1062.0,854.2L1063.0,854.4L1064.0,854.7L1065.0,854.9L1066.0,855.1L1067.0,855.4L1068.0,855.6L1069.0,855.8L1070.0,856.0L1071.0,856.3L1072.0,856.5L1073.0,856.7L1074.0,856.9L1075.0,857.1L1076.0,857.4L1077.0,857.6L1078.0,857.8L1079.0,858.0L1080.0,858.2L1081.0,858.4L1082.0,858.6L1083.0,858.8L1084.0,859.0L1085.0,859.2L1086.0,859.4L1087.0,859.6L1088.0,859.8L1089.0,860.0L1090.0,860.2L1091.0,860.4L1092.0,860.6L1093.0,860.8L1094.0,860.9L1095.0,861.1L1096.0,861.3L1097.0,861.5L1098.0,861.6L1099.0,861.8L1100.0,862.0L1101.0,862.1L1102.0,862.3L1103.0,862.5L1104.0,862.6L1105.0,862.8L1106.0,862.9L1107.0,863.1L1108.0,863.2L1109.0,863.4L1110.0,863.5L1111.0,863.6L1112.0,863.8L1113.0,863.9L1114.0,864.0L1115.0,864.2L1116.0,864.3L1117.0,864.4L1118.0,864.5L1119.0,864.6L1120.0,864.8L1121.0,864.9L1122.0,865.0L1123.0,865.1L1124.0,865.2L1125.0,865.3L1126.0,865.4L1127.0,865.6L1128.0,865.7L1129.0,865.8L1130.0,865.9L1131.0,866.0L1132.0,866.2L1133.0,866.3L1134.0,866.4L1135.0,866.5L1136.0,866.7L1137.0,866.8L1138.0,866.9L1139.0,867.1L1140.0,867.2L1141.0,867.4L1142.0,867.5L1143.0,867.7L1144.0,867.9L1145.0,868.0" stroke="#f00" stroke-width="5.4" fill="none" stroke-linejoin="round"/>
<path d="M217.0,868.1L218.0,868.2L219.0,868.2L220.0,868.3L221.0,868.3L222.0,868.3L223.0,868.4L224.0,868.4L225.0,868.4L226.0,868.5L227.0,868.5L228.0,868.5L229.0,868.5L230.0,868.5L231.0,868.5L232.0,868.6L233.0,868.6L234.0,868.6L235.0,868.6L236.0,868.6L237.0,868.5L238.0,868.5L239.0,868.5L240.0,868.5L241.0,868.5L242.0,868.5L243.0,868.5L244.0,868.5L245.0,868.5L246.0,868.4L247.0,868.4L248.0,868.4L249.0,868.4L250.0,868.4L251.0,868.3L252.0,868.3L253.0,868.3L254.0,868.3L255.0,868.3L256.0,868.3L257.0,868.3L258.0,868.2L259.0,868.2L260.0,868.2L261.0,868.2L262.0,868.2L263.0,868.2L264.0,868.2L265.0,868.2L266.0,868.2L267.0,868.2L268.0,868.1L269.0,868.1L270.0,868.1L271.0,868.1L272.0,868.1L273.0,868.1L274.0,868.1L275.0,868.1L276.0,868.1L277.0,868.0L278.0,868.0L279.0,868.0L280.0,868.0L281.0,868.0L282.0,868.0L283.0,867.9L284.0,867.9L285.0,867.9L286.0,867.8L287.0,867.8L288.0,867.8L289.0,867.7L290.0,867.7L291.0,867.7L292.0,867.6L293.0,867.6L294.0,867.5L295.0,867.5L296.0,867.4L297.0,867.3L298.0,867.3L299.0,867.2L300.0,867.1L301.0,867.1L302.0,867.0L303.0,866.9L304.0,866.8L305.0,866.7L306.0,866.6L307.0,866.5L308.0,866.4L309.0,866.3L310.0,866.2L311.0,866.0L312.0,865.9L313.0,865.8L314.0,865.6L315.0,865.5L316.0,865.3L317.0,865.2L318.0,865.0L319.0,864.9L320.0,864.7L321.0,864.5L322.0,864.3L323.0,864.1L324.0,863.9L325.0,863.7L326.0,863.5L327.0,863.3L328.0,863.1L329.0,862.9L330.0,862.6L331.0,862.4L332.0,862.2L333.0,861.9L334.0,861.6L335.0,861.4L336.0,861.1L337.0,860.8L338.0,860.5L339.0,860.2L340.0,859.9L341.0,859.6L342.0,859.3L343.0,859.0L344.0,858.7L345.0,858.3L346.0,858.0L347.0,857.6L348.0,857.3L349.0,856.9L350.0,856.5L351.0,856.1L352.0,855.8L353.0,855.4L354.0,855.0L355.0,854.5L356.0,854.1L357.0,853.7L358.0,853.3L359.0,852.8L360.0,852.4L361.0,851.9L362.0,851.4L363.0,850.9L364.0,850.5L365.0,850.0L366.0,849.5L367.0,848.9L368.0,848.4L369.0,847.9L370.0,847.3L371.0,846.8L372.0,846.2L373.0,845.7L374.0,845.1L375.0,844.5L376.0,843.9L377.0,843.3L378.0,842.7L379.0,842.0L380.0,841.4L381.0,840.7L382.0,840.1L383.0,839.4L384.0,838.7L385.0,838.0L386.0,837.3L387.0,836.5L388.0,835.8L389.0,835.0L390.0,834.2L391.0,833.5L392.0,832.7L393.0,831.8L394.0,831.0L395.0,830.2L396.0,829.3L397.0,828.4L398.0,827.5L399.0,826.6L400.0,825.7L401.0,824.7L402.0,823.8L403.0,822.8L404.0,821.8L405.0,820.8L406.0,819.7L407.0,818.7L408.0,817.6L409.0,816.5L410.0,815.4L411.0,814.3L412.0,813.2L413.0,812.0L414.0,810.8L415.0,809.6L416.0,808.4L417.0,807.1L418.0,805.9L419.0,804.6L420.0,803.3L421.0,801.9L422.0,800.6L423.0,799.2L424.0,797.8L425.0,796.4L426.0,794.9L427.0,793.5L428.0,792.0L429.0,790.5L430.0,788.9L431.0,787.4L432.0,785.8L433.0,784.2L434.0,782.6L435.0,781.0L436.0,779.3L437.0,777.7L438.0,776.0L439.0,774.3L440.0,772.6L441.0,770.8L442.0,769.1L443.0,767.3L444.0,765.5L445.0,763.7L446.0,761.9L447.0,760.1L448.0,758.3L449.0,756.4L450.0,754.5L451.0,752.7L452.0,750.8L453.0,748.9L454.0,746.9L455.0,745.0L456.0,743.1L457.0,741.1L458.0,739.2L459.0,737.2L460.0,735.2L461.0,733.2L462.0,731.2L463.0,729.2L464.0,727.2L465.0,725.2L466.0,723.1L467.0,721.1L468.0,719.0L469.0,717.0L470.0,714.9L471.0,712.9L472.0,710.8L473.0,708.7L474.0,706.7L475.0,704.6L476.0,702.5L477.0,700.4L478.0,698.3L479.0,696.2L480.0,694.1L481.0,692.0L482.0,689.9L483.0,687.8L484.0,685.7L485.0,683.6L486.0,681.5L487.0,679.4L488.0,677.3L489.0,675.2L490.0,673.0L491.0,670.9L492.0,668.8L493.0,666.7L494.0,664.5L495.0,662.4L496.0,660.3L497.0,658.1L498.0,656.0L499.0,653.8L500.0,651.7L501.0,649.5L502.0,647.4L503.0,645.2L504.0,643.1L505.0,640.9L506.0,638.7L507.0,636.5L508.0,634.4L509.0,632.2L510.0,630.0L511.0,627.8L512.0,625.6L513.0,623.4L514.0,621.2L515.0,619.0L516.0,616.8L517.0,614.6L518.0,612.3L519.0,610.1L520.0,607.9L521.0,605.6L522.0,603.4L523.0,601.1L524.0,598.9L525.0,596.6L526.0,594.4L527.0,592.1L528.0,589.8L529.0,587.5L530.0,585.2L531.0,582.9L532.0,580.6L533.0,578.3L534.0,576.0L535.0,573.7L536.0,571.4L537.0,569.1L538.0,566.7L539.0,564.4L540.0,562.0L541.0,559.7L542.0,557.3L543.0,555.0L544.0,552.6L545.0,550.2L546.0,547.9L547.0,545.5L548.0,543.1L549.0,540.8L550.0,538.4L551.0,536.0L552.0,533.7L553.0,531.3L554.0,528.9L555.0,526.6L556.0,524.2L557.0,521.9L558.0,519.5L559.0,517.2L560.0,514.8L561.0,512.5L562.0,510.1L563.0,507.8L564.0,505.5L565.0,503.2L566.0,500.9L567.0,498.5L568.0,496.3L569.0,494.0L570.0,491.7L571.0,489.4L572.0,487.2L573.0,484.9L574.0,482.7L575.0,480.5L576.0,478.2L577.0,476.0L578.0,473.8L579.0,471.7L580.0,469.5L581.0,467.4L582.0,465.2L583.0,463.1L584.0,461.0L585.0,458.9L586.0,456.8L587.0,454.8L588.0,452.7L589.0,450.7L590.0,448.7L591.0,446.7L592.0,444.8L593.0,442.8L594.0,440.9L595.0,439.0L596.0,437.1L597.0,435.3L598.0,433.4L599.0,431.6L600.0,429.8L601.0,428.1L602.0,426.4L603.0,424.7L604.0,423.0L605.0,421.3L606.0,419.7L607.0,418.1L608.0,416.6L609.0,415.1L610.0,413.6L611.0,412.2L612.0,410.9L613.0,409.6L614.0,408.5L615.0,407.3L616.0,406.3L617.0,405.3L618.0,404.4L619.0,403.5L620.0,402.7L621.0,402.0L622.0,401.3L623.0,400.7L624.0,400.1L625.0,399.6L626.0,399.1L627.0,398.6L628.0,398.1L629.0,397.7L630.0,397.3L631.0,396.9L632.0,396.5L633.0,396.2L634.0,395.9L635.0,395.6L636.0,395.4L637.0,395.2L638.0,395.0L639.0,394.8L640.0,394.7L641.0,394.5L642.0,394.4L643.0,394.4L644.0,394.3L645.0,394.3L646.0,394.3L647.0,394.4L648.0,394.4L649.0,394.5L650.0,394.6L651.0,394.8L652.0,395.0L653.0,395.2L654.0,395.4L655.0,395.6L656.0,395.9L657.0,396.2L658.0,396.5L659.0,396.8L660.0,397.1L661.0,397.5L662.0,397.9L663.0,398.2L664.0,398.6L665.0,399.1L666.0,399.5L667.0,400.0L668.0,400.4L669.0,400.9L670.0,401.4L671.0,402.0L672.0,402.6L673.0,403.3L674.0,404.0L675.0,404.8L676.0,405.5L677.0,406.3L678.0,407.0L679.0,407.8L680.0,408.5L681.0,409.2L682.0,409.9L683.0,410.5L684.0,411.2L685.0,411.9L686.0,412.6L687.0,413.3L688.0,414.0L689.0,414.7L690.0,415.5L691.0,416.2L692.0,417.1L693.0,417.9L694.0,418.8L695.0,419.5L696.0,420.2L697.0,420.8L698.0,421.3L699.0,421.7L700.0,422.2L701.0,422.8L702.0,423.3L703.0,423.9L704.0,424.5L705.0,425.2L706.0,425.9L707.0,427.1L708.0,428.8L709.0,431.0L710.0,433.5L711.0,435.7L712.0,437.3L713.0,438.4L714.0,439.3L715.0,440.1L716.0,440.7L717.0,441.4L718.0,442.1L719.0,442.7L720.0,443.3L721.0,443.9L722.0,444.6L723.0,445.6L724.0,447.1L725.0,449.4L726.0,452.1L727.0,455.0L728.0,458.4L729.0,462.4L730.0,466.8L731.0,470.9L732.0,474.5L733.0,477.7L734.0,480.8L735.0,483.9L736.0,486.8L737.0,489.5L738.0,492.1L739.0,494.5L740.0,496.6L741.0,498.4L742.0,499.9L743.0,501.3L744.0,502.5L745.0,503.6L746.0,504.5L747.0,505.5L748.0,506.3L749.0,507.2L750.0,508.0L751.0,508.9L752.0,509.8L753.0,510.8L754.0,511.8L755.0,512.7L756.0,513.6L757.0,514.5L758.0,515.4L759.0,516.4L760.0,517.4L761.0,518.4L762.0,519.5L763.0,520.7L764.0,522.0L765.0,523.4L766.0,524.9L767.0,526.5L768.0,528.2L769.0,530.0L770.0,531.9L771.0,533.9L772.0,535.9L773.0,538.0L774.0,540.1L775.0,542.4L776.0,545.0L777.0,547.7L778.0,550.7L779.0,553.7L780.0,556.8L781.0,559.9L782.0,562.9L783.0,565.8L784.0,568.4L785.0,570.8L786.0,573.0L787.0,575.0L788.0,576.9L789.0,578.7L790.0,580.5L791.0,582.2L792.0,583.9L793.0,585.5L794.0,587.2L795.0,588.9L796.0,590.7L797.0,592.6L798.0,594.5L799.0,596.4L800.0,598.3L801.0,600.3L802.0,602.2L803.0,604.2L804.0,606.1L805.0,608.1L806.0,609.9L807.0,611.8L808.0,613.6L809.0,615.4L810.0,617.1L811.0,618.8L812.0,620.5L813.0,622.3L814.0,624.0L815.0,625.7L816.0,627.5L817.0,629.2L818.0,631.0L819.0,632.7L820.0,634.5L821.0,636.3L822.0,638.0L823.0,639.8L824.0,641.6L825.0,643.3L826.0,645.1L827.0,646.8L828.0,648.5L829.0,650.2L830.0,652.0L831.0,653.7L832.0,655.4L833.0,657.1L834.0,658.8L835.0,660.5L836.0,662.2L837.0,663.9L838.0,665.6L839.0,667.3L840.0,669.0L841.0,670.7L842.0,672.3L843.0,674.0L844.0,675.7L845.0,677.3L846.0,679.0L847.0,680.6L848.0,682.3L849.0,683.9L850.0,685.5L851.0,687.1L852.0,688.8L853.0,690.4L854.0,692.0L855.0,693.6L856.0,695.1L857.0,696.7L858.0,698.3L859.0,699.8L860.0,701.4L861.0,702.9L862.0,704.5L863.0,706.0L864.0,707.5L865.0,709.0L866.0,710.5L867.0,712.0L868.0,713.5L869.0,715.0L870.0,716.4L871.0,717.9L872.0,719.3L873.0,720.8L874.0,722.2L875.0,723.6L876.0,725.0L877.0,726.4L878.0,727.8L879.0,729.1L880.0,730.5L881.0,731.8L882.0,733.2L883.0,734.5L884.0,735.8L885.0,737.1L886.0,738.4L887.0,739.7L888.0,740.9L889.0,742.2L890.0,743.4L891.0,744.6L892.0,745.8L893.0,747.0L894.0,748.2L895.0,749.4L896.0,750.5L897.0,751.7L898.0,752.8L899.0,753.9L900.0,755.1L901.0,756.2L902.0,757.3L903.0,758.3L904.0,759.4L905.0,760.5L906.0,761.5L907.0,762.6L908.0,763.6L909.0,764.6L910.0,765.6L911.0,766.6L912.0,767.6L913.0,768.6L914.0,769.6L915.0,770.5L916.0,771.5L917.0,772.4L918.0,773.4L919.0,774.3L920.0,775.2L921.0,776.1L922.0,777.0L923.0,777.9L924.0,778.8L925.0,779.7L926.0,780.5L927.0,781.4L928.0,782.3L929.0,783.1L930.0,784.0L931.0,784.8L932.0,785.6L933.0,786.4L934.0,787.3L935.0,788.1L936.0,788.9L937.0,789.7L938.0,790.5L939.0,791.3L940.0,792.0L941.0,792.8L942.0,793.6L943.0,794.4L944.0,795.1L945.0,795.9L946.0,796.6L947.0,797.4L948.0,798.1L949.0,798.8L950.0,799.6L951.0,800.3L952.0,801.0L953.0,801.7L954.0,802.5L955.0,803.2L956.0,803.9L957.0,804.6L958.0,805.3L959.0,805.9L960.0,806.6L961.0,807.3L962.0,808.0L963.0,808.7L964.0,809.3L965.0,810.0L966.0,810.6L967.0,811.3L968.0,811.9L969.0,812.6L970.0,813.2L971.0,813.8L972.0,814.4L973.0,815.1L974.0,815.7L975.0,816.3L976.0,816.9L977.0,817.5L978.0,818.1L979.0,818.7L980.0,819.2L981.0,819.8L982.0,820.4L983.0,821.0L984.0,821.5L985.0,822.1L986.0,822.6L987.0,823.2L988.0,823.7L989.0,824.3L990.0,824.8L991.0,825.3L992.0,825.8L993.0,826.3L994.0,826.9L995.0,827.4L996.0,827.9L997.0,828.4L998.0,828.8L999.0,829.3L1000.0,829.8L1001.0,830.3L1002.0,830.7L1003.0,831.2L1004.0,831.7L1005.0,832.1L1006.0,832.6L1007.0,833.0L1008.0,833.4L1009.0,833.9L1010.0,834.3L1011.0,834.7L1012.0,835.1L1013.0,835.5L1014.0,836.0L1015.0,836.4L1016.0,836.8L1017.0,837.2L1018.0,837.5L1019.0,837.9L1020.0,838.3L1021.0,838.7L1022.0,839.1L1023.0,839.4L1024.0,839.8L1025.0,840.2L1026.0,840.5L1027.0,840.9L1028.0,841.2L1029.0,841.6L1030.0,841.9L1031.0,842.3L1032.0,842.6L1033.0,843.0L1034.0,843.3L1035.0,843.6L1036.0,843.9L1037.0,844.3L1038.0,844.6L1039.0,844.9L1040.0,845.2L1041.0,845.5L1042.0,845.9L1043.0,846.2L1044.0,846.5L1045.0,846.8L1046.0,847.1L1047.0,847.4L1048.0,847.7L1049.0,848.0L1050.0,848.3L1051.0,848.5L1052.0,848.8L1053.0,849.1L1054.0,849.4L1055.0,849.7L1056.0,850.0L1057.0,850.3L1058.0,850.5L1059.0,850.8L1060.0,851.1L1061.0,851.4L1062.0,851.6L1063.0,851.9L1064.0,852.2L1065.0,852.4L1066.0,852.7L1067.0,853.0L1068.0,853.2L1069.0,853.5L1070.0,853.7L1071.0,854.0L1072.0,854.3L1073.0,854.5L1074.0,854.8L1075.0,855.0L1076.0,855.3L1077.0,855.5L1078.0,855.7L1079.0,856.0L1080.0,856.2L1081.0,856.5L1082.0,856.7L1083.0,856.9L1084.0,857.1L1085.0,857.4L1086.0,857.6L1087.0,857.8L1088.0,858.0L1089.0,858.3L1090.0,858.5L1091.0,858.7L1092.0,858.9L1093.0,859.1L1094.0,859.3L1095.0,859.5L1096.0,859.7L1097.0,859.9L1098.0,860.1L1099.0,860.3L1100.0,860.5L1101.0,860.7L1102.0,860.9L1103.0,861.1L1104.0,861.2L1105.0,861.4L1106.0,861.6L1107.0,861.8L1108.0,861.9L1109.0,862.1L1110.0,862.3L1111.0,862.4L1112.0,862.6L1113.0,862.7L1114.0,862.9L1115.0,863.0L1116.0,863.2L1117.0,863.3L1118.0,863.5L1119.0,863.6L1120.0,863.8L1121.0,863.9L1122.0,864.0L1123.0,864.2L1124.0,864.3L1125.0,864.4L1126.0,864.5L1127.0,864.7L1128.0,864.8L1129.0,864.9L1130.0,865.0L1131.0,865.2L1132.0,865.3L1133.0,865.4L1134.0,865.5L1135.0,865.6L1136.0,865.8L1137.0,865.9L1138.0,866.0L1139.0,866.1L1140.0,866.2L1141.0,866.3L1142.0,866.5L1143.0,866.6L1144.0,866.7L1145.0,866.8" stroke="#00f" stroke-width="5.4" fill="none" stroke-linejoin="round"/></g>
<rect x="215.00" y="122.50" width="932.00" height="751.70" fill="none" stroke="#000" stroke-width="5.0"/>
<path d="M215.00,874.20v14.80M331.50,874.20v7.30M448.00,874.20v14.80M564.50,874.20v7.30M681.00,874.20v14.80M797.50,874.20v7.30M914.00,874.20v14.80M1030.50,874.20v7.30M1147.00,874.20v14.80M215.00,874.20h-14.80M215.00,780.24h-7.30M215.00,686.28h-14.80M215.00,592.31h-7.30M215.00,498.35h-14.80M215.00,404.39h-7.30M215.00,310.43h-14.80M215.00,216.46h-7.30M215.00,122.50h-14.80" stroke="#000" stroke-width="5.0" fill="none"/>
<g id="curves-b"><path d="M1387.0,868.0L1388.0,868.0L1389.0,868.0L1390.0,868.0L1391.0,868.0L1392.0,868.0L1393.0,868.0L1394.0,868.0L1395.0,868.0L1396.0,868.0L1397.0,868.0L1398.0,868.0L1399.0,868.0L1400.0,868.0L1401.0,868.0L1402.0,868.0L1403.0,868.0L1404.0,868.0L1405.0,868.0L1406.0,868.0L1407.0,868.0L1408.0,867.9L1409.0,867.9L1410.0,867.9L1411.0,867.9L1412.0,867.9L1413.0,867.9L1414.0,867.9L1415.0,867.8L1416.0,867.8L1417.0,867.8L1418.0,867.8L1419.0,867.7L1420.0,867.7L1421.0,867.7L1422.0,867.7L1423.0,867.6L1424.0,867.6L1425.0,867.6L1426.0,867.6L1427.0,867.5L1428.0,867.5L1429.0,867.5L1430.0,867.4L1431.0,867.4L1432.0,867.3L1433.0,867.3L1434.0,867.3L1435.0,867.2L1436.0,867.2L1437.0,867.1L1438.0,867.1L1439.0,867.0L1440.0,867.0L1441.0,866.9L1442.0,866.9L1443.0,866.8L1444.0,866.8L1445.0,866.7L1446.0,866.7L1447.0,866.6L1448.0,866.6L1449.0,866.5L1450.0,866.4L1451.0,866.4L1452.0,866.3L1453.0,866.2L1454.0,866.1L1455.0,866.1L1456.0,866.0L1457.0,865.9L1458.0,865.8L1459.0,865.8L1460.0,865.7L1461.0,865.6L1462.0,865.5L1463.0,865.4L1464.0,865.3L1465.0,865.2L1466.0,865.1L1467.0,865.0L1468.0,864.9L1469.0,864.8L1470.0,864.7L1471.0,864.6L1472.0,864.5L1473.0,864.4L1474.0,864.3L1475.0,864.1L1476.0,864.0L1477.0,863.9L1478.0,863.8L1479.0,863.6L1480.0,863.5L1481.0,863.4L1482.0,863.2L1483.0,863.1L1484.0,862.9L1485.0,862.8L1486.0,862.6L1487.0,862.5L1488.0,862.3L1489.0,862.2L1490.0,862.0L1491.0,861.8L1492.0,861.7L1493.0,861.5L1494.0,861.3L1495.0,861.1L1496.0,860.9L1497.0,860.7L1498.0,860.5L1499.0,860.3L1500.0,860.1L1501.0,859.9L1502.0,859.7L1503.0,859.5L1504.0,859.3L1505.0,859.1L1506.0,858.8L1507.0,858.6L1508.0,858.4L1509.0,858.1L1510.0,857.9L1511.0,857.6L1512.0,857.3L1513.0,857.1L1514.0,856.8L1515.0,856.5L1516.0,856.2L1517.0,855.9L1518.0,855.7L1519.0,855.4L1520.0,855.0L1521.0,854.7L1522.0,854.4L1523.0,854.1L1524.0,853.8L1525.0,853.4L1526.0,853.1L1527.0,852.7L1528.0,852.4L1529.0,852.0L1530.0,851.6L1531.0,851.3L1532.0,850.9L1533.0,850.5L1534.0,850.1L1535.0,849.7L1536.0,849.3L1537.0,848.8L1538.0,848.4L1539.0,848.0L1540.0,847.5L1541.0,847.1L1542.0,846.6L1543.0,846.1L1544.0,845.7L1545.0,845.2L1546.0,844.7L1547.0,844.2L1548.0,843.6L1549.0,843.1L1550.0,842.5L1551.0,842.0L1552.0,841.4L1553.0,840.8L1554.0,840.2L1555.0,839.6L1556.0,839.0L1557.0,838.3L1558.0,837.7L1559.0,837.0L1560.0,836.3L1561.0,835.6L1562.0,834.8L1563.0,834.1L1564.0,833.3L1565.0,832.5L1566.0,831.7L1567.0,830.9L1568.0,830.0L1569.0,829.2L1570.0,828.3L1571.0,827.4L1572.0,826.4L1573.0,825.5L1574.0,824.5L1575.0,823.5L1576.0,822.5L1577.0,821.4L1578.0,820.3L1579.0,819.2L1580.0,818.1L1581.0,817.0L1582.0,815.8L1583.0,814.6L1584.0,813.3L1585.0,812.1L1586.0,810.8L1587.0,809.4L1588.0,808.1L1589.0,806.7L1590.0,805.3L1591.0,803.9L1592.0,802.4L1593.0,800.9L1594.0,799.3L1595.0,797.8L1596.0,796.2L1597.0,794.5L1598.0,792.9L1599.0,791.2L1600.0,789.4L1601.0,787.7L1602.0,785.9L1603.0,784.1L1604.0,782.2L1605.0,780.4L1606.0,778.5L1607.0,776.6L1608.0,774.6L1609.0,772.6L1610.0,770.6L1611.0,768.6L1612.0,766.6L1613.0,764.5L1614.0,762.4L1615.0,760.3L1616.0,758.2L1617.0,756.0L1618.0,753.8L1619.0,751.6L1620.0,749.4L1621.0,747.2L1622.0,744.9L1623.0,742.7L1624.0,740.4L1625.0,738.1L1626.0,735.8L1627.0,733.4L1628.0,731.1L1629.0,728.7L1630.0,726.4L1631.0,724.0L1632.0,721.6L1633.0,719.2L1634.0,716.7L1635.0,714.3L1636.0,711.9L1637.0,709.4L1638.0,707.0L1639.0,704.5L1640.0,702.0L1641.0,699.5L1642.0,697.0L1643.0,694.5L1644.0,692.0L1645.0,689.5L1646.0,687.0L1647.0,684.5L1648.0,682.0L1649.0,679.5L1650.0,676.9L1651.0,674.4L1652.0,671.9L1653.0,669.4L1654.0,666.8L1655.0,664.3L1656.0,661.8L1657.0,659.2L1658.0,656.7L1659.0,654.1L1660.0,651.5L1661.0,649.0L1662.0,646.4L1663.0,643.8L1664.0,641.2L1665.0,638.6L1666.0,635.9L1667.0,633.3L1668.0,630.7L1669.0,628.0L1670.0,625.3L1671.0,622.6L1672.0,619.9L1673.0,617.2L1674.0,614.4L1675.0,611.7L1676.0,608.9L1677.0,606.1L1678.0,603.3L1679.0,600.4L1680.0,597.6L1681.0,594.7L1682.0,591.8L1683.0,588.8L1684.0,585.9L1685.0,582.9L1686.0,579.9L1687.0,576.8L1688.0,573.8L1689.0,570.7L1690.0,567.5L1691.0,564.4L1692.0,561.2L1693.0,558.0L1694.0,554.8L1695.0,551.5L1696.0,548.2L1697.0,544.8L1698.0,541.4L1699.0,538.0L1700.0,534.6L1701.0,531.1L1702.0,527.6L1703.0,524.0L1704.0,520.4L1705.0,516.7L1706.0,513.1L1707.0,509.3L1708.0,505.6L1709.0,501.8L1710.0,497.9L1711.0,494.0L1712.0,490.1L1713.0,486.2L1714.0,482.2L1715.0,478.2L1716.0,474.2L1717.0,470.2L1718.0,466.1L1719.0,462.0L1720.0,458.0L1721.0,453.8L1722.0,449.7L1723.0,445.6L1724.0,441.5L1725.0,437.3L1726.0,433.2L1727.0,429.0L1728.0,424.9L1729.0,420.8L1730.0,416.6L1731.0,412.5L1732.0,408.4L1733.0,404.3L1734.0,400.2L1735.0,396.1L1736.0,392.0L1737.0,388.0L1738.0,384.0L1739.0,380.0L1740.0,376.0L1741.0,372.1L1742.0,368.2L1743.0,364.3L1744.0,360.5L1745.0,356.7L1746.0,352.9L1747.0,349.2L1748.0,345.5L1749.0,341.8L1750.0,338.2L1751.0,334.7L1752.0,331.2L1753.0,327.8L1754.0,324.4L1755.0,321.1L1756.0,317.8L1757.0,314.6L1758.0,311.4L1759.0,308.4L1760.0,305.4L1761.0,302.4L1762.0,299.6L1763.0,296.8L1764.0,294.0L1765.0,291.4L1766.0,288.8L1767.0,286.3L1768.0,283.9L1769.0,281.5L1770.0,279.2L1771.0,277.0L1772.0,274.9L1773.0,272.7L1774.0,270.7L1775.0,268.7L1776.0,266.8L1777.0,265.0L1778.0,263.2L1779.0,261.5L1780.0,259.8L1781.0,258.2L1782.0,256.6L1783.0,255.0L1784.0,253.5L1785.0,252.0L1786.0,250.6L1787.0,249.2L1788.0,247.8L1789.0,246.5L1790.0,245.1L1791.0,243.8L1792.0,242.6L1793.0,241.3L1794.0,240.1L1795.0,238.9L1796.0,237.8L1797.0,236.7L1798.0,235.6L1799.0,234.6L1800.0,233.6L1801.0,232.7L1802.0,231.8L1803.0,230.9L1804.0,230.0L1805.0,229.2L1806.0,228.4L1807.0,227.6L1808.0,226.9L1809.0,226.2L1810.0,225.5L1811.0,224.9L1812.0,224.3L1813.0,223.7L1814.0,223.1L1815.0,222.6L1816.0,222.1L1817.0,221.7L1818.0,221.3L1819.0,220.9L1820.0,220.5L1821.0,220.2L1822.0,219.9L1823.0,219.7L1824.0,219.5L1825.0,219.3L1826.0,219.1L1827.0,219.0L1828.0,218.9L1829.0,218.8L1830.0,218.7L1831.0,218.7L1832.0,218.7L1833.0,218.7L1834.0,218.7L1835.0,218.7L1836.0,218.8L1837.0,218.9L1838.0,219.0L1839.0,219.2L1840.0,219.4L1841.0,219.6L1842.0,219.9L1843.0,220.2L1844.0,220.5L1845.0,220.9L1846.0,221.3L1847.0,221.7L1848.0,222.2L1849.0,222.7L1850.0,223.2L1851.0,223.7L1852.0,224.3L1853.0,224.8L1854.0,225.5L1855.0,226.1L1856.0,226.8L1857.0,227.5L1858.0,228.3L1859.0,229.0L1860.0,229.8L1861.0,230.5L1862.0,231.3L1863.0,232.0L1864.0,232.6L1865.0,233.3L1866.0,234.0L1867.0,234.7L1868.0,235.3L1869.0,236.0L1870.0,236.6L1871.0,237.1L1872.0,237.5L1873.0,238.0L1874.0,238.5L1875.0,239.1L1876.0,240.0L1877.0,241.4L1878.0,243.4L1879.0,245.6L1880.0,247.6L1881.0,249.2L1882.0,250.6L1883.0,251.9L1884.0,253.0L1885.0,253.9L1886.0,254.6L1887.0,255.3L1888.0,255.8L1889.0,256.4L1890.0,256.9L1891.0,257.4L1892.0,258.0L1893.0,258.4L1894.0,258.9L1895.0,259.5L1896.0,261.3L1897.0,264.9L1898.0,270.0L1899.0,275.3L1900.0,280.5L1901.0,286.0L1902.0,291.4L1903.0,296.7L1904.0,302.0L1905.0,307.1L1906.0,311.7L1907.0,315.7L1908.0,319.4L1909.0,322.7L1910.0,325.8L1911.0,328.6L1912.0,331.2L1913.0,333.5L1914.0,335.7L1915.0,337.7L1916.0,339.5L1917.0,341.2L1918.0,342.8L1919.0,344.2L1920.0,345.6L1921.0,346.8L1922.0,348.1L1923.0,349.3L1924.0,350.6L1925.0,351.8L1926.0,353.0L1927.0,354.1L1928.0,355.2L1929.0,356.4L1930.0,357.6L1931.0,359.0L1932.0,360.4L1933.0,362.1L1934.0,364.1L1935.0,366.4L1936.0,368.9L1937.0,371.4L1938.0,374.0L1939.0,376.4L1940.0,378.8L1941.0,381.1L1942.0,383.4L1943.0,385.6L1944.0,387.9L1945.0,390.3L1946.0,392.6L1947.0,395.1L1948.0,397.6L1949.0,400.2L1950.0,402.9L1951.0,405.8L1952.0,408.9L1953.0,412.2L1954.0,415.6L1955.0,419.1L1956.0,422.5L1957.0,425.9L1958.0,429.2L1959.0,432.4L1960.0,435.3L1961.0,438.0L1962.0,440.5L1963.0,442.8L1964.0,445.0L1965.0,447.2L1966.0,449.2L1967.0,451.2L1968.0,453.2L1969.0,455.3L1970.0,457.5L1971.0,459.7L1972.0,462.1L1973.0,464.6L1974.0,467.2L1975.0,469.9L1976.0,472.7L1977.0,475.5L1978.0,478.4L1979.0,481.3L1980.0,484.3L1981.0,487.2L1982.0,490.1L1983.0,492.9L1984.0,495.8L1985.0,498.6L1986.0,501.5L1987.0,504.3L1988.0,507.2L1989.0,510.2L1990.0,513.1L1991.0,516.1L1992.0,519.1L1993.0,522.2L1994.0,525.2L1995.0,528.3L1996.0,531.3L1997.0,534.4L1998.0,537.4L1999.0,540.5L2000.0,543.5L2001.0,546.5L2002.0,549.4L2003.0,552.4L2004.0,555.3L2005.0,558.2L2006.0,561.0L2007.0,563.8L2008.0,566.6L2009.0,569.3L2010.0,572.0L2011.0,574.7L2012.0,577.3L2013.0,580.0L2014.0,582.5L2015.0,585.1L2016.0,587.6L2017.0,590.1L2018.0,592.6L2019.0,595.0L2020.0,597.4L2021.0,599.8L2022.0,602.2L2023.0,604.5L2024.0,606.8L2025.0,609.1L2026.0,611.3L2027.0,613.6L2028.0,615.8L2029.0,618.0L2030.0,620.1L2031.0,622.3L2032.0,624.4L2033.0,626.5L2034.0,628.6L2035.0,630.6L2036.0,632.7L2037.0,634.7L2038.0,636.7L2039.0,638.7L2040.0,640.7L2041.0,642.7L2042.0,644.6L2043.0,646.5L2044.0,648.5L2045.0,650.4L2046.0,652.3L2047.0,654.1L2048.0,656.0L2049.0,657.9L2050.0,659.7L2051.0,661.5L2052.0,663.4L2053.0,665.2L2054.0,667.0L2055.0,668.8L2056.0,670.6L2057.0,672.4L2058.0,674.1L2059.0,675.9L2060.0,677.7L2061.0,679.4L2062.0,681.2L2063.0,683.0L2064.0,684.7L2065.0,686.4L2066.0,688.2L2067.0,689.9L2068.0,691.6L2069.0,693.4L2070.0,695.1L2071.0,696.8L2072.0,698.5L2073.0,700.2L2074.0,701.9L2075.0,703.5L2076.0,705.2L2077.0,706.9L2078.0,708.5L2079.0,710.2L2080.0,711.8L2081.0,713.5L2082.0,715.1L2083.0,716.7L2084.0,718.3L2085.0,719.9L2086.0,721.5L2087.0,723.1L2088.0,724.7L2089.0,726.3L2090.0,727.8L2091.0,729.4L2092.0,730.9L2093.0,732.5L2094.0,734.0L2095.0,735.5L2096.0,737.0L2097.0,738.5L2098.0,740.0L2099.0,741.5L2100.0,742.9L2101.0,744.4L2102.0,745.8L2103.0,747.2L2104.0,748.7L2105.0,750.1L2106.0,751.5L2107.0,752.9L2108.0,754.2L2109.0,755.6L2110.0,756.9L2111.0,758.3L2112.0,759.6L2113.0,760.9L2114.0,762.2L2115.0,763.5L2116.0,764.8L2117.0,766.0L2118.0,767.3L2119.0,768.5L2120.0,769.7L2121.0,770.9L2122.0,772.1L2123.0,773.3L2124.0,774.5L2125.0,775.6L2126.0,776.8L2127.0,777.9L2128.0,779.0L2129.0,780.1L2130.0,781.2L2131.0,782.3L2132.0,783.4L2133.0,784.4L2134.0,785.5L2135.0,786.5L2136.0,787.5L2137.0,788.5L2138.0,789.5L2139.0,790.5L2140.0,791.5L2141.0,792.5L2142.0,793.4L2143.0,794.4L2144.0,795.3L2145.0,796.3L2146.0,797.2L2147.0,798.1L2148.0,799.0L2149.0,799.9L2150.0,800.7L2151.0,801.6L2152.0,802.5L2153.0,803.3L2154.0,804.1L2155.0,805.0L2156.0,805.8L2157.0,806.6L2158.0,807.4L2159.0,808.2L2160.0,809.0L2161.0,809.7L2162.0,810.5L2163.0,811.3L2164.0,812.0L2165.0,812.7L2166.0,813.5L2167.0,814.2L2168.0,814.9L2169.0,815.6L2170.0,816.3L2171.0,817.0L2172.0,817.7L2173.0,818.4L2174.0,819.0L2175.0,819.7L2176.0,820.3L2177.0,821.0L2178.0,821.6L2179.0,822.2L2180.0,822.9L2181.0,823.5L2182.0,824.1L2183.0,824.7L2184.0,825.3L2185.0,825.9L2186.0,826.5L2187.0,827.0L2188.0,827.6L2189.0,828.2L2190.0,828.7L2191.0,829.3L2192.0,829.8L2193.0,830.3L2194.0,830.9L2195.0,831.4L2196.0,831.9L2197.0,832.4L2198.0,832.9L2199.0,833.4L2200.0,833.9L2201.0,834.4L2202.0,834.9L2203.0,835.3L2204.0,835.8L2205.0,836.3L2206.0,836.7L2207.0,837.2L2208.0,837.6L2209.0,838.0L2210.0,838.5L2211.0,838.9L2212.0,839.3L2213.0,839.7L2214.0,840.1L2215.0,840.6L2216.0,841.0L2217.0,841.3L2218.0,841.7L2219.0,842.1L2220.0,842.5L2221.0,842.9L2222.0,843.3L2223.0,843.6L2224.0,844.0L2225.0,844.3L2226.0,844.7L2227.0,845.0L2228.0,845.4L2229.0,845.7L2230.0,846.1L2231.0,846.4L2232.0,846.7L2233.0,847.0L2234.0,847.3L2235.0,847.7L2236.0,848.0L2237.0,848.3L2238.0,848.6L2239.0,848.9L2240.0,849.2L2241.0,849.5L2242.0,849.8L2243.0,850.0L2244.0,850.3L2245.0,850.6L2246.0,850.9L2247.0,851.2L2248.0,851.4L2249.0,851.7L2250.0,852.0L2251.0,852.2L2252.0,852.5L2253.0,852.7L2254.0,853.0L2255.0,853.2L2256.0,853.5L2257.0,853.7L2258.0,854.0L2259.0,854.2L2260.0,854.5L2261.0,854.7L2262.0,854.9L2263.0,855.2L2264.0,855.4L2265.0,855.6L2266.0,855.9L2267.0,856.1L2268.0,856.3L2269.0,856.5L2270.0,856.8L2271.0,857.0L2272.0,857.2L2273.0,857.4L2274.0,857.7L2275.0,857.9L2276.0,858.1L2277.0,858.3L2278.0,858.5L2279.0,858.8L2280.0,859.0L2281.0,859.2L2282.0,859.4L2283.0,859.6L2284.0,859.8L2285.0,860.1L2286.0,860.3L2287.0,860.5L2288.0,860.7L2289.0,860.9L2290.0,861.1L2291.0,861.3L2292.0,861.6L2293.0,861.8L2294.0,862.0L2295.0,862.2L2296.0,862.4L2297.0,862.6L2298.0,862.8L2299.0,863.0L2300.0,863.1L2301.0,863.3L2302.0,863.5L2303.0,863.7L2304.0,863.9L2305.0,864.0L2306.0,864.2L2307.0,864.3L2308.0,864.5L2309.0,864.6L2310.0,864.8L2311.0,864.9L2312.0,865.0L2313.0,865.1L2314.0,865.3L2315.0,865.4L2317.5,865.6" stroke="#000" stroke-width="5.4" fill="none" stroke-linejoin="round"/>
<path d="M1387.0,868.5L1388.0,868.4L1389.0,867.7L1390.0,866.4L1391.0,866.4L1392.0,865.2L1393.0,865.3L1394.0,865.9L1395.0,865.3L1396.0,865.0L1397.0,866.0L1398.0,865.0L1399.0,864.1L1400.0,863.1L1401.0,862.8L1402.0,861.7L1403.0,860.9L1404.0,859.1L1405.0,859.8L1406.0,858.8L1407.0,858.2L1408.0,859.3L1409.0,860.7L1410.0,859.8L1411.0,860.5L1412.0,860.5L1413.0,860.8L1414.0,861.3L1415.0,862.3L1416.0,863.4L1417.0,864.0L1418.0,863.9L1419.0,863.0L1420.0,863.1L1421.0,861.9L1422.0,863.7L1423.0,864.4L1424.0,865.5L1425.0,866.4L1426.0,867.0L1427.0,866.5L1428.0,865.1L1429.0,864.3L1430.0,862.8L1431.0,863.2L1432.0,864.2L1433.0,864.8L1434.0,865.5L1435.0,867.6L1436.0,867.5L1437.0,866.3L1438.0,866.3L1439.0,866.5L1440.0,865.2L1441.0,864.3L1442.0,864.5L1443.0,864.3L1444.0,865.0L1445.0,865.0L1446.0,864.7L1447.0,864.3L1448.0,865.3L1449.0,864.4L1450.0,864.0L1451.0,864.4L1452.0,863.8L1453.0,862.6L1454.0,862.1L1455.0,863.4L1456.0,863.9L1457.0,864.5L1458.0,865.4L1459.0,866.8L1460.0,865.8L1461.0,866.0L1462.0,866.3L1463.0,865.3L1464.0,863.5L1465.0,863.9L1466.0,864.1L1467.0,863.8L1468.0,863.4L1469.0,864.1L1470.0,863.4L1471.0,862.7L1472.0,863.0L1473.0,864.0L1474.0,864.3L1475.0,864.7L1476.0,865.0L1477.0,864.2L1478.0,863.4L1479.0,862.7L1480.0,862.3L1481.0,862.8L1482.0,863.0L1483.0,862.7L1484.0,862.6L1485.0,862.2L1486.0,861.3L1487.0,860.9L1488.0,860.3L1489.0,860.5L1490.0,860.5L1491.0,860.7L1492.0,860.4L1493.0,861.3L1494.0,860.8L1495.0,860.6L1496.0,860.1L1497.0,860.1L1498.0,859.5L1499.0,859.1L1500.0,859.0L1501.0,858.7L1502.0,858.0L1503.0,857.5L1504.0,858.1L1505.0,857.7L1506.0,857.2L1507.0,857.2L1508.0,857.1L1509.0,856.4L1510.0,856.4L1511.0,856.5L1512.0,856.1L1513.0,856.0L1514.0,855.8L1515.0,855.2L1516.0,854.7L1517.0,854.3L1518.0,853.8L1519.0,853.3L1520.0,852.7L1521.0,852.5L1522.0,852.1L1523.0,851.4L1524.0,851.4L1525.0,851.2L1526.0,850.9L1527.0,850.7L1528.0,850.5L1529.0,849.9L1530.0,849.6L1531.0,849.1L1532.0,848.7L1533.0,848.5L1534.0,848.1L1535.0,847.7L1536.0,847.2L1537.0,846.9L1538.0,846.6L1539.0,846.3L1540.0,846.0L1541.0,845.5L1542.0,845.1L1543.0,844.7L1544.0,844.2L1545.0,843.6L1546.0,843.2L1547.0,842.7L1548.0,842.2L1549.0,841.7L1550.0,841.1L1551.0,840.6L1552.0,840.1L1553.0,839.5L1554.0,838.9L1555.0,838.4L1556.0,837.8L1557.0,837.2L1558.0,836.5L1559.0,835.9L1560.0,835.2L1561.0,834.6L1562.0,833.9L1563.0,833.2L1564.0,832.4L1565.0,831.7L1566.0,830.9L1567.0,830.2L1568.0,829.4L1569.0,828.5L1570.0,827.7L1571.0,826.8L1572.0,825.9L1573.0,825.0L1574.0,824.1L1575.0,823.2L1576.0,822.2L1577.0,821.2L1578.0,820.2L1579.0,819.1L1580.0,818.0L1581.0,816.9L1582.0,815.8L1583.0,814.7L1584.0,813.5L1585.0,812.3L1586.0,811.0L1587.0,809.8L1588.0,808.5L1589.0,807.1L1590.0,805.8L1591.0,804.4L1592.0,803.0L1593.0,801.5L1594.0,800.1L1595.0,798.5L1596.0,797.0L1597.0,795.4L1598.0,793.8L1599.0,792.2L1600.0,790.5L1601.0,788.8L1602.0,787.1L1603.0,785.3L1604.0,783.5L1605.0,781.7L1606.0,779.9L1607.0,778.0L1608.0,776.1L1609.0,774.2L1610.0,772.3L1611.0,770.3L1612.0,768.3L1613.0,766.3L1614.0,764.3L1615.0,762.2L1616.0,760.2L1617.0,758.1L1618.0,755.9L1619.0,753.8L1620.0,751.7L1621.0,749.5L1622.0,747.3L1623.0,745.1L1624.0,742.9L1625.0,740.7L1626.0,738.4L1627.0,736.1L1628.0,733.9L1629.0,731.6L1630.0,729.3L1631.0,727.0L1632.0,724.6L1633.0,722.3L1634.0,720.0L1635.0,717.6L1636.0,715.2L1637.0,712.9L1638.0,710.5L1639.0,708.1L1640.0,705.7L1641.0,703.3L1642.0,700.9L1643.0,698.5L1644.0,696.1L1645.0,693.7L1646.0,691.3L1647.0,688.8L1648.0,686.4L1649.0,684.0L1650.0,681.6L1651.0,679.1L1652.0,676.7L1653.0,674.3L1654.0,671.8L1655.0,669.4L1656.0,667.0L1657.0,664.5L1658.0,662.1L1659.0,659.7L1660.0,657.2L1661.0,654.8L1662.0,652.3L1663.0,649.9L1664.0,647.4L1665.0,644.9L1666.0,642.4L1667.0,639.9L1668.0,637.4L1669.0,634.9L1670.0,632.4L1671.0,629.9L1672.0,627.3L1673.0,624.8L1674.0,622.2L1675.0,619.6L1676.0,617.0L1677.0,614.4L1678.0,611.8L1679.0,609.2L1680.0,606.5L1681.0,603.9L1682.0,601.2L1683.0,598.5L1684.0,595.8L1685.0,593.0L1686.0,590.3L1687.0,587.5L1688.0,584.7L1689.0,581.9L1690.0,579.1L1691.0,576.2L1692.0,573.3L1693.0,570.4L1694.0,567.5L1695.0,564.5L1696.0,561.6L1697.0,558.6L1698.0,555.5L1699.0,552.5L1700.0,549.4L1701.0,546.3L1702.0,543.2L1703.0,540.0L1704.0,536.8L1705.0,533.6L1706.0,530.4L1707.0,527.1L1708.0,523.8L1709.0,520.5L1710.0,517.1L1711.0,513.7L1712.0,510.3L1713.0,506.9L1714.0,503.4L1715.0,499.9L1716.0,496.4L1717.0,492.9L1718.0,489.4L1719.0,485.9L1720.0,482.3L1721.0,478.7L1722.0,475.2L1723.0,471.6L1724.0,468.0L1725.0,464.4L1726.0,460.8L1727.0,457.2L1728.0,453.6L1729.0,450.0L1730.0,446.4L1731.0,442.9L1732.0,439.3L1733.0,435.7L1734.0,432.1L1735.0,428.6L1736.0,425.0L1737.0,421.5L1738.0,418.0L1739.0,414.5L1740.0,411.0L1741.0,407.6L1742.0,404.1L1743.0,400.7L1744.0,397.3L1745.0,393.9L1746.0,390.6L1747.0,387.3L1748.0,384.0L1749.0,380.7L1750.0,377.5L1751.0,374.3L1752.0,371.2L1753.0,368.1L1754.0,365.0L1755.0,362.0L1756.0,359.0L1757.0,356.0L1758.0,353.1L1759.0,350.3L1760.0,347.5L1761.0,344.7L1762.0,342.0L1763.0,339.3L1764.0,336.7L1765.0,334.2L1766.0,331.7L1767.0,329.2L1768.0,326.8L1769.0,324.5L1770.0,322.2L1771.0,320.0L1772.0,317.8L1773.0,315.6L1774.0,313.5L1775.0,311.5L1776.0,309.5L1777.0,307.5L1778.0,305.6L1779.0,303.8L1780.0,302.0L1781.0,300.3L1782.0,298.6L1783.0,297.0L1784.0,295.4L1785.0,293.9L1786.0,292.5L1787.0,291.1L1788.0,289.7L1789.0,288.4L1790.0,287.2L1791.0,286.0L1792.0,284.8L1793.0,283.7L1794.0,282.6L1795.0,281.5L1796.0,280.5L1797.0,279.5L1798.0,278.5L1799.0,277.5L1800.0,276.6L1801.0,275.7L1802.0,274.8L1803.0,274.0L1804.0,273.1L1805.0,272.4L1806.0,271.6L1807.0,270.9L1808.0,270.2L1809.0,269.5L1810.0,268.9L1811.0,268.2L1812.0,267.6L1813.0,267.0L1814.0,266.5L1815.0,266.0L1816.0,265.5L1817.0,265.0L1818.0,264.5L1819.0,264.1L1820.0,263.6L1821.0,263.2L1822.0,262.9L1823.0,262.5L1824.0,262.2L1825.0,261.9L1826.0,261.6L1827.0,261.3L1828.0,261.1L1829.0,260.8L1830.0,260.6L1831.0,260.4L1832.0,260.3L1833.0,260.1L1834.0,260.0L1835.0,259.9L1836.0,259.9L1837.0,259.8L1838.0,259.7L1839.0,259.7L1840.0,259.6L1841.0,259.6L1842.0,259.6L1843.0,259.5L1844.0,259.6L1845.0,259.6L1846.0,259.7L1847.0,259.9L1848.0,260.2L1849.0,260.4L1850.0,260.7L1851.0,261.0L1852.0,261.2L1853.0,261.5L1854.0,261.8L1855.0,262.2L1856.0,262.5L1857.0,262.9L1858.0,263.3L1859.0,263.8L1860.0,264.2L1861.0,264.7L1862.0,265.1L1863.0,265.6L1864.0,266.1L1865.0,266.6L1866.0,267.1L1867.0,267.7L1868.0,268.3L1869.0,268.9L1870.0,269.5L1871.0,270.1L1872.0,270.8L1873.0,271.5L1874.0,272.3L1875.0,273.1L1876.0,274.0L1877.0,274.9L1878.0,275.9L1879.0,276.9L1880.0,278.0L1881.0,279.1L1882.0,280.2L1883.0,281.2L1884.0,282.3L1885.0,283.3L1886.0,284.2L1887.0,285.0L1888.0,285.8L1889.0,286.6L1890.0,287.4L1891.0,288.2L1892.0,289.2L1893.0,290.3L1894.0,291.5L1895.0,292.9L1896.0,294.9L1897.0,297.9L1898.0,301.8L1899.0,305.8L1900.0,309.4L1901.0,312.8L1902.0,316.0L1903.0,319.0L1904.0,321.5L1905.0,323.7L1906.0,325.5L1907.0,327.1L1908.0,328.6L1909.0,330.1L1910.0,331.7L1911.0,333.4L1912.0,335.4L1913.0,337.5L1914.0,339.6L1915.0,341.7L1916.0,343.7L1917.0,345.5L1918.0,347.2L1919.0,348.7L1920.0,350.1L1921.0,351.5L1922.0,352.8L1923.0,354.1L1924.0,355.4L1925.0,356.7L1926.0,358.1L1927.0,359.5L1928.0,361.0L1929.0,362.6L1930.0,364.2L1931.0,365.9L1932.0,367.6L1933.0,369.4L1934.0,371.2L1935.0,373.0L1936.0,374.9L1937.0,376.8L1938.0,378.8L1939.0,380.8L1940.0,382.8L1941.0,385.0L1942.0,387.1L1943.0,389.4L1944.0,391.7L1945.0,394.0L1946.0,396.4L1947.0,398.8L1948.0,401.2L1949.0,403.6L1950.0,406.1L1951.0,408.6L1952.0,411.2L1953.0,413.8L1954.0,416.5L1955.0,419.2L1956.0,421.9L1957.0,424.6L1958.0,427.3L1959.0,429.8L1960.0,432.3L1961.0,434.6L1962.0,436.9L1963.0,439.0L1964.0,441.1L1965.0,443.2L1966.0,445.2L1967.0,447.2L1968.0,449.2L1969.0,451.3L1970.0,453.5L1971.0,455.7L1972.0,458.1L1973.0,460.5L1974.0,462.9L1975.0,465.3L1976.0,467.8L1977.0,470.2L1978.0,472.6L1979.0,475.0L1980.0,477.4L1981.0,479.7L1982.0,482.0L1983.0,484.4L1984.0,486.7L1985.0,489.1L1986.0,491.5L1987.0,493.9L1988.0,496.3L1989.0,498.8L1990.0,501.2L1991.0,503.7L1992.0,506.3L1993.0,508.8L1994.0,511.3L1995.0,513.9L1996.0,516.5L1997.0,519.0L1998.0,521.6L1999.0,524.2L2000.0,526.7L2001.0,529.3L2002.0,531.8L2003.0,534.3L2004.0,536.8L2005.0,539.3L2006.0,541.8L2007.0,544.3L2008.0,546.7L2009.0,549.2L2010.0,551.6L2011.0,554.0L2012.0,556.4L2013.0,558.8L2014.0,561.2L2015.0,563.5L2016.0,565.9L2017.0,568.2L2018.0,570.6L2019.0,572.9L2020.0,575.2L2021.0,577.5L2022.0,579.8L2023.0,582.0L2024.0,584.3L2025.0,586.5L2026.0,588.7L2027.0,591.0L2028.0,593.2L2029.0,595.3L2030.0,597.5L2031.0,599.7L2032.0,601.8L2033.0,604.0L2034.0,606.1L2035.0,608.2L2036.0,610.3L2037.0,612.4L2038.0,614.5L2039.0,616.6L2040.0,618.7L2041.0,620.7L2042.0,622.7L2043.0,624.8L2044.0,626.8L2045.0,628.8L2046.0,630.8L2047.0,632.7L2048.0,634.7L2049.0,636.7L2050.0,638.6L2051.0,640.5L2052.0,642.4L2053.0,644.4L2054.0,646.2L2055.0,648.1L2056.0,650.0L2057.0,651.9L2058.0,653.7L2059.0,655.6L2060.0,657.4L2061.0,659.2L2062.0,661.0L2063.0,662.8L2064.0,664.6L2065.0,666.3L2066.0,668.1L2067.0,669.9L2068.0,671.6L2069.0,673.3L2070.0,674.9L2071.0,676.7L2072.0,678.3L2073.0,680.0L2074.0,681.7L2075.0,683.5L2076.0,685.2L2077.0,686.8L2078.0,688.3L2079.0,689.9L2080.0,691.5L2081.0,693.2L2082.0,694.5L2083.0,696.2L2084.0,697.7L2085.0,699.4L2086.0,701.0L2087.0,702.9L2088.0,704.1L2089.0,705.9L2090.0,707.5L2091.0,708.9L2092.0,710.5L2093.0,712.3L2094.0,713.8L2095.0,715.1L2096.0,716.5L2097.0,717.9L2098.0,719.8L2099.0,721.1L2100.0,722.8L2101.0,724.4L2102.0,725.2L2103.0,726.0L2104.0,727.6L2105.0,728.3L2106.0,729.6L2107.0,730.8L2108.0,732.2L2109.0,733.4L2110.0,734.8L2111.0,736.2L2112.0,738.4L2113.0,739.7L2114.0,740.3L2115.0,741.6L2116.0,742.3L2117.0,743.4L2118.0,744.4L2119.0,746.4L2120.0,748.4L2121.0,750.1L2122.0,750.9L2123.0,752.7L2124.0,753.5L2125.0,754.5L2126.0,755.3L2127.0,757.1L2128.0,757.6L2129.0,757.8L2130.0,758.6L2131.0,760.5L2132.0,762.2L2133.0,763.5L2134.0,765.0L2135.0,767.3L2136.0,768.3L2137.0,768.4L2138.0,769.2L2139.0,770.4L2140.0,771.2L2141.0,772.0L2142.0,772.9L2143.0,774.2L2144.0,776.5L2145.0,776.5L2146.0,778.0L2147.0,779.4L2148.0,780.8L2149.0,780.5L2150.0,782.2L2151.0,783.7L2152.0,784.5L2153.0,784.8L2154.0,785.5L2155.0,786.2L2156.0,786.1L2157.0,787.0L2158.0,788.4L2159.0,789.2L2160.0,790.4L2161.0,791.6L2162.0,792.5L2163.0,793.5L2164.0,795.8L2165.0,796.2L2166.0,796.4L2167.0,798.0L2168.0,798.4L2169.0,798.2L2170.0,797.9L2171.0,799.2L2172.0,798.6L2173.0,799.3L2174.0,800.8L2175.0,802.6L2176.0,804.0L2177.0,805.7L2178.0,806.5L2179.0,806.7L2180.0,807.1L2181.0,807.5L2182.0,808.0L2183.0,808.7L2184.0,810.2L2185.0,811.3L2186.0,811.2L2187.0,810.8L2188.0,812.0L2189.0,812.2L2190.0,812.8L2191.0,813.5L2192.0,814.6L2193.0,814.7L2194.0,815.3L2195.0,815.8L2196.0,816.6L2197.0,817.5L2198.0,818.5L2199.0,819.0L2200.0,819.2L2201.0,820.4L2202.0,821.8L2203.0,822.7L2204.0,823.0L2205.0,824.0L2206.0,823.1L2207.0,823.7L2208.0,822.1L2209.0,822.5L2210.0,822.9L2211.0,824.8L2212.0,824.8L2213.0,826.1L2214.0,825.9L2215.0,826.1L2216.0,826.1L2217.0,826.6L2218.0,827.7L2219.0,828.7L2220.0,829.5L2221.0,830.6L2222.0,830.3L2223.0,830.9L2224.0,833.0L2225.0,834.0L2226.0,833.5L2227.0,835.2L2228.0,835.1L2229.0,834.4L2230.0,835.5L2231.0,837.6L2232.0,836.4L2233.0,837.9L2234.0,839.7L2235.0,838.7L2236.0,838.0L2237.0,840.7L2238.0,840.3L2239.0,839.6L2240.0,840.4L2241.0,839.3L2242.0,838.9L2243.0,839.5L2244.0,840.3L2245.0,842.2L2246.0,844.5L2247.0,844.4L2248.0,845.2L2249.0,845.1L2250.0,844.7L2251.0,843.6L2252.0,843.5L2253.0,842.1L2254.0,842.8L2255.0,842.4L2256.0,843.3L2257.0,844.0L2258.0,845.4L2259.0,844.7L2260.0,844.9L2261.0,845.3L2262.0,847.1L2263.0,848.1L2264.0,848.5L2265.0,848.7L2266.0,850.2L2267.0,849.9L2268.0,850.2L2269.0,851.6L2270.0,853.4L2271.0,852.0L2272.0,851.5L2273.0,850.4L2274.0,850.5L2275.0,849.4L2276.0,850.1L2277.0,850.3L2278.0,852.3L2279.0,852.1L2280.0,852.3L2281.0,853.9L2282.0,853.9L2283.0,852.8L2284.0,855.0L2285.0,855.3L2286.0,854.3L2287.0,854.7L2288.0,855.8L2289.0,854.7L2290.0,855.7L2291.0,856.7L2292.0,857.2L2293.0,856.4L2294.0,856.3L2295.0,857.0L2296.0,857.6L2297.0,857.9L2298.0,859.7L2299.0,859.4L2300.0,858.5L2301.0,857.1L2302.0,857.2L2303.0,856.9L2304.0,857.3L2305.0,858.1L2306.0,860.5L2307.0,861.9L2308.0,861.8L2309.0,861.7L2310.0,860.9L2311.0,859.1L2312.0,858.5L2313.0,859.3L2314.0,860.2L2315.0,860.9L2317.5,862.4" stroke="#f00" stroke-width="5.4" fill="none" stroke-linejoin="round"/>
<path d="M1387.0,871.7L1388.0,871.7L1389.0,871.7L1390.0,871.7L1391.0,871.7L1392.0,871.7L1393.0,871.7L1394.0,871.7L1395.0,871.7L1396.0,871.7L1397.0,871.7L1398.0,871.7L1399.0,871.7L1400.0,871.7L1401.0,871.7L1402.0,871.7L1403.0,871.7L1404.0,871.7L1405.0,871.7L1406.0,871.7L1407.0,871.7L1408.0,871.7L1409.0,871.7L1410.0,871.7L1411.0,871.7L1412.0,871.7L1413.0,871.7L1414.0,871.7L1415.0,871.7L1416.0,871.7L1417.0,871.7L1418.0,871.7L1419.0,871.7L1420.0,871.7L1421.0,871.7L1422.0,871.7L1423.0,871.7L1424.0,871.7L1425.0,871.7L1426.0,871.6L1427.0,871.6L1428.0,871.6L1429.0,871.6L1430.0,871.6L1431.0,871.6L1432.0,871.6L1433.0,871.6L1434.0,871.6L1435.0,871.6L1436.0,871.6L1437.0,871.6L1438.0,871.6L1439.0,871.6L1440.0,871.6L1441.0,871.6L1442.0,871.6L1443.0,871.6L1444.0,871.5L1445.0,871.5L1446.0,871.5L1447.0,871.5L1448.0,871.5L1449.0,871.5L1450.0,871.5L1451.0,871.5L1452.0,871.5L1453.0,871.5L1454.0,871.5L1455.0,871.4L1456.0,871.4L1457.0,871.4L1458.0,871.4L1459.0,871.4L1460.0,871.4L1461.0,871.4L1462.0,871.4L1463.0,871.4L1464.0,871.3L1465.0,871.3L1466.0,871.3L1467.0,871.3L1468.0,871.3L1469.0,871.3L1470.0,871.3L1471.0,871.3L1472.0,871.2L1473.0,871.2L1474.0,871.2L1475.0,871.2L1476.0,871.2L1477.0,871.2L1478.0,871.1L1479.0,871.1L1480.0,871.1L1481.0,871.1L1482.0,871.1L1483.0,871.1L1484.0,871.1L1485.0,871.0L1486.0,871.0L1487.0,871.0L1488.0,871.0L1489.0,871.0L1490.0,870.9L1491.0,870.9L1492.0,870.9L1493.0,870.9L1494.0,870.9L1495.0,870.9L1496.0,870.8L1497.0,870.8L1498.0,870.8L1499.0,870.8L1500.0,870.8L1501.0,870.7L1502.0,870.7L1503.0,870.7L1504.0,870.7L1505.0,870.7L1506.0,870.6L1507.0,870.6L1508.0,870.6L1509.0,870.6L1510.0,870.6L1511.0,870.5L1512.0,870.5L1513.0,870.5L1514.0,870.5L1515.0,870.4L1516.0,870.4L1517.0,870.4L1518.0,870.4L1519.0,870.4L1520.0,870.3L1521.0,870.3L1522.0,870.3L1523.0,870.3L1524.0,870.2L1525.0,870.2L1526.0,870.2L1527.0,870.2L1528.0,870.2L1529.0,870.1L1530.0,870.1L1531.0,870.1L1532.0,870.1L1533.0,870.0L1534.0,870.0L1535.0,870.0L1536.0,870.0L1537.0,869.9L1538.0,869.9L1539.0,869.9L1540.0,869.9L1541.0,869.9L1542.0,869.8L1543.0,869.8L1544.0,869.8L1545.0,869.8L1546.0,869.7L1547.0,869.7L1548.0,869.7L1549.0,869.7L1550.0,869.6L1551.0,869.6L1552.0,869.6L1553.0,869.6L1554.0,869.5L1555.0,869.5L1556.0,869.5L1557.0,869.5L1558.0,869.4L1559.0,869.4L1560.0,869.4L1561.0,869.4L1562.0,869.4L1563.0,869.3L1564.0,869.3L1565.0,869.3L1566.0,869.3L1567.0,869.2L1568.0,869.2L1569.0,869.2L1570.0,869.2L1571.0,869.1L1572.0,869.1L1573.0,869.1L1574.0,869.1L1575.0,869.0L1576.0,869.0L1577.0,869.0L1578.0,869.0L1579.0,868.9L1580.0,868.9L1581.0,868.9L1582.0,868.9L1583.0,868.8L1584.0,868.8L1585.0,868.8L1586.0,868.8L1587.0,868.7L1588.0,868.7L1589.0,868.7L1590.0,868.7L1591.0,868.6L1592.0,868.6L1593.0,868.6L1594.0,868.6L1595.0,868.5L1596.0,868.5L1597.0,868.5L1598.0,868.5L1599.0,868.4L1600.0,868.4L1601.0,868.4L1602.0,868.4L1603.0,868.3L1604.0,868.3L1605.0,868.3L1606.0,868.3L1607.0,868.2L1608.0,868.2L1609.0,868.2L1610.0,868.2L1611.0,868.1L1612.0,868.1L1613.0,868.1L1614.0,868.1L1615.0,868.0L1616.0,868.0L1617.0,868.0L1618.0,867.9L1619.0,867.9L1620.0,867.9L1621.0,867.9L1622.0,867.8L1623.0,867.8L1624.0,867.8L1625.0,867.8L1626.0,867.7L1627.0,867.7L1628.0,867.7L1629.0,867.6L1630.0,867.6L1631.0,867.6L1632.0,867.6L1633.0,867.5L1634.0,867.5L1635.0,867.5L1636.0,867.4L1637.0,867.4L1638.0,867.4L1639.0,867.4L1640.0,867.3L1641.0,867.3L1642.0,867.3L1643.0,867.2L1644.0,867.2L1645.0,867.2L1646.0,867.1L1647.0,867.1L1648.0,867.1L1649.0,867.1L1650.0,867.0L1651.0,867.0L1652.0,867.0L1653.0,866.9L1654.0,866.9L1655.0,866.9L1656.0,866.8L1657.0,866.8L1658.0,866.8L1659.0,866.7L1660.0,866.7L1661.0,866.7L1662.0,866.6L1663.0,866.6L1664.0,866.6L1665.0,866.5L1666.0,866.5L1667.0,866.5L1668.0,866.4L1669.0,866.4L1670.0,866.4L1671.0,866.3L1672.0,866.3L1673.0,866.3L1674.0,866.2L1675.0,866.2L1676.0,866.2L1677.0,866.1L1678.0,866.1L1679.0,866.1L1680.0,866.0L1681.0,866.0L1682.0,865.9L1683.0,865.9L1684.0,865.9L1685.0,865.8L1686.0,865.8L1687.0,865.8L1688.0,865.7L1689.0,865.7L1690.0,865.7L1691.0,865.6L1692.0,865.6L1693.0,865.6L1694.0,865.5L1695.0,865.5L1696.0,865.5L1697.0,865.4L1698.0,865.4L1699.0,865.4L1700.0,865.3L1701.0,865.3L1702.0,865.3L1703.0,865.2L1704.0,865.2L1705.0,865.2L1706.0,865.1L1707.0,865.1L1708.0,865.1L1709.0,865.0L1710.0,865.0L1711.0,865.0L1712.0,865.0L1713.0,864.9L1714.0,864.9L1715.0,864.9L1716.0,864.8L1717.0,864.8L1718.0,864.8L1719.0,864.7L1720.0,864.7L1721.0,864.7L1722.0,864.7L1723.0,864.6L1724.0,864.6L1725.0,864.6L1726.0,864.5L1727.0,864.5L1728.0,864.5L1729.0,864.5L1730.0,864.4L1731.0,864.4L1732.0,864.4L1733.0,864.3L1734.0,864.3L1735.0,864.3L1736.0,864.3L1737.0,864.2L1738.0,864.2L1739.0,864.2L1740.0,864.2L1741.0,864.1L1742.0,864.1L1743.0,864.1L1744.0,864.0L1745.0,864.0L1746.0,864.0L1747.0,864.0L1748.0,863.9L1749.0,863.9L1750.0,863.9L1751.0,863.9L1752.0,863.8L1753.0,863.8L1754.0,863.8L1755.0,863.8L1756.0,863.7L1757.0,863.7L1758.0,863.7L1759.0,863.7L1760.0,863.6L1761.0,863.6L1762.0,863.6L1763.0,863.6L1764.0,863.5L1765.0,863.5L1766.0,863.5L1767.0,863.5L1768.0,863.4L1769.0,863.4L1770.0,863.4L1771.0,863.4L1772.0,863.3L1773.0,863.3L1774.0,863.3L1775.0,863.3L1776.0,863.2L1777.0,863.2L1778.0,863.2L1779.0,863.2L1780.0,863.1L1781.0,863.1L1782.0,863.1L1783.0,863.1L1784.0,863.0L1785.0,863.0L1786.0,863.0L1787.0,863.0L1788.0,863.0L1789.0,862.9L1790.0,862.9L1791.0,862.9L1792.0,862.9L1793.0,862.8L1794.0,862.8L1795.0,862.8L1796.0,862.8L1797.0,862.7L1798.0,862.7L1799.0,862.7L1800.0,862.7L1801.0,862.7L1802.0,862.6L1803.0,862.6L1804.0,862.6L1805.0,862.6L1806.0,862.6L1807.0,862.6L1808.0,862.5L1809.0,862.5L1810.0,862.5L1811.0,862.5L1812.0,862.5L1813.0,862.5L1814.0,862.5L1815.0,862.4L1816.0,862.4L1817.0,862.4L1818.0,862.4L1819.0,862.4L1820.0,862.4L1821.0,862.4L1822.0,862.4L1823.0,862.4L1824.0,862.4L1825.0,862.4L1826.0,862.4L1827.0,862.4L1828.0,862.4L1829.0,862.4L1830.0,862.4L1831.0,862.4L1832.0,862.4L1833.0,862.4L1834.0,862.4L1835.0,862.4L1836.0,862.4L1837.0,862.4L1838.0,862.4L1839.0,862.4L1840.0,862.4L1841.0,862.4L1842.0,862.4L1843.0,862.4L1844.0,862.4L1845.0,862.4L1846.0,862.4L1847.0,862.4L1848.0,862.5L1849.0,862.5L1850.0,862.5L1851.0,862.5L1852.0,862.5L1853.0,862.5L1854.0,862.5L1855.0,862.5L1856.0,862.5L1857.0,862.5L1858.0,862.5L1859.0,862.5L1860.0,862.5L1861.0,862.5L1862.0,862.5L1863.0,862.6L1864.0,862.6L1865.0,862.6L1866.0,862.6L1867.0,862.6L1868.0,862.6L1869.0,862.6L1870.0,862.6L1871.0,862.6L1872.0,862.6L1873.0,862.6L1874.0,862.6L1875.0,862.7L1876.0,862.7L1877.0,862.7L1878.0,862.7L1879.0,862.7L1880.0,862.7L1881.0,862.7L1882.0,862.7L1883.0,862.7L1884.0,862.7L1885.0,862.8L1886.0,862.8L1887.0,862.8L1888.0,862.8L1889.0,862.8L1890.0,862.8L1891.0,862.8L1892.0,862.8L1893.0,862.9L1894.0,862.9L1895.0,862.9L1896.0,862.9L1897.0,862.9L1898.0,863.0L1899.0,863.0L1900.0,863.0L1901.0,863.1L1902.0,863.1L1903.0,863.1L1904.0,863.2L1905.0,863.2L1906.0,863.2L1907.0,863.3L1908.0,863.3L1909.0,863.3L1910.0,863.4L1911.0,863.4L1912.0,863.5L1913.0,863.5L1914.0,863.6L1915.0,863.6L1916.0,863.7L1917.0,863.7L1918.0,863.7L1919.0,863.8L1920.0,863.8L1921.0,863.9L1922.0,863.9L1923.0,864.0L1924.0,864.0L1925.0,864.1L1926.0,864.1L1927.0,864.2L1928.0,864.2L1929.0,864.3L1930.0,864.3L1931.0,864.4L1932.0,864.4L1933.0,864.5L1934.0,864.5L1935.0,864.6L1936.0,864.6L1937.0,864.7L1938.0,864.7L1939.0,864.8L1940.0,864.8L1941.0,864.9L1942.0,864.9L1943.0,864.9L1944.0,865.0L1945.0,865.0L1946.0,865.1L1947.0,865.1L1948.0,865.1L1949.0,865.2L1950.0,865.2L1951.0,865.3L1952.0,865.3L1953.0,865.3L1954.0,865.4L1955.0,865.4L1956.0,865.5L1957.0,865.5L1958.0,865.5L1959.0,865.6L1960.0,865.6L1961.0,865.7L1962.0,865.7L1963.0,865.8L1964.0,865.8L1965.0,865.8L1966.0,865.9L1967.0,865.9L1968.0,866.0L1969.0,866.0L1970.0,866.0L1971.0,866.1L1972.0,866.1L1973.0,866.2L1974.0,866.2L1975.0,866.2L1976.0,866.3L1977.0,866.3L1978.0,866.4L1979.0,866.4L1980.0,866.4L1981.0,866.5L1982.0,866.5L1983.0,866.6L1984.0,866.6L1985.0,866.6L1986.0,866.7L1987.0,866.7L1988.0,866.8L1989.0,866.8L1990.0,866.8L1991.0,866.9L1992.0,866.9L1993.0,867.0L1994.0,867.0L1995.0,867.0L1996.0,867.1L1997.0,867.1L1998.0,867.1L1999.0,867.2L2000.0,867.2L2001.0,867.2L2002.0,867.3L2003.0,867.3L2004.0,867.3L2005.0,867.4L2006.0,867.4L2007.0,867.5L2008.0,867.5L2009.0,867.5L2010.0,867.6L2011.0,867.6L2012.0,867.6L2013.0,867.7L2014.0,867.7L2015.0,867.7L2016.0,867.8L2017.0,867.8L2018.0,867.8L2019.0,867.9L2020.0,867.9L2021.0,867.9L2022.0,868.0L2023.0,868.0L2024.0,868.0L2025.0,868.1L2026.0,868.1L2027.0,868.1L2028.0,868.2L2029.0,868.2L2030.0,868.2L2031.0,868.2L2032.0,868.3L2033.0,868.3L2034.0,868.3L2035.0,868.4L2036.0,868.4L2037.0,868.4L2038.0,868.5L2039.0,868.5L2040.0,868.5L2041.0,868.6L2042.0,868.6L2043.0,868.6L2044.0,868.6L2045.0,868.7L2046.0,868.7L2047.0,868.7L2048.0,868.8L2049.0,868.8L2050.0,868.8L2051.0,868.8L2052.0,868.9L2053.0,868.9L2054.0,868.9L2055.0,869.0L2056.0,869.0L2057.0,869.0L2058.0,869.0L2059.0,869.1L2060.0,869.1L2061.0,869.1L2062.0,869.2L2063.0,869.2L2064.0,869.2L2065.0,869.2L2066.0,869.3L2067.0,869.3L2068.0,869.3L2069.0,869.3L2070.0,869.4L2071.0,869.4L2072.0,869.4L2073.0,869.4L2074.0,869.5L2075.0,869.5L2076.0,869.5L2077.0,869.5L2078.0,869.6L2079.0,869.6L2080.0,869.6L2081.0,869.6L2082.0,869.7L2083.0,869.7L2084.0,869.7L2085.0,869.7L2086.0,869.8L2087.0,869.8L2088.0,869.8L2089.0,869.8L2090.0,869.8L2091.0,869.9L2092.0,869.9L2093.0,869.9L2094.0,869.9L2095.0,870.0L2096.0,870.0L2097.0,870.0L2098.0,870.0L2099.0,870.0L2100.0,870.1L2101.0,870.1L2102.0,870.1L2103.0,870.1L2104.0,870.1L2105.0,870.2L2106.0,870.2L2107.0,870.2L2108.0,870.2L2109.0,870.2L2110.0,870.3L2111.0,870.3L2112.0,870.3L2113.0,870.3L2114.0,870.3L2115.0,870.3L2116.0,870.4L2117.0,870.4L2118.0,870.4L2119.0,870.4L2120.0,870.4L2121.0,870.4L2122.0,870.5L2123.0,870.5L2124.0,870.5L2125.0,870.5L2126.0,870.5L2127.0,870.5L2128.0,870.6L2129.0,870.6L2130.0,870.6L2131.0,870.6L2132.0,870.6L2133.0,870.6L2134.0,870.6L2135.0,870.7L2136.0,870.7L2137.0,870.7L2138.0,870.7L2139.0,870.7L2140.0,870.7L2141.0,870.7L2142.0,870.7L2143.0,870.8L2144.0,870.8L2145.0,870.8L2146.0,870.8L2147.0,870.8L2148.0,870.8L2149.0,870.8L2150.0,870.8L2151.0,870.9L2152.0,870.9L2153.0,870.9L2154.0,870.9L2155.0,870.9L2156.0,870.9L2157.0,870.9L2158.0,870.9L2159.0,870.9L2160.0,871.0L2161.0,871.0L2162.0,871.0L2163.0,871.0L2164.0,871.0L2165.0,871.0L2166.0,871.0L2167.0,871.0L2168.0,871.0L2169.0,871.0L2170.0,871.0L2171.0,871.1L2172.0,871.1L2173.0,871.1L2174.0,871.1L2175.0,871.1L2176.0,871.1L2177.0,871.1L2178.0,871.1L2179.0,871.1L2180.0,871.1L2181.0,871.1L2182.0,871.1L2183.0,871.2L2184.0,871.2L2185.0,871.2L2186.0,871.2L2187.0,871.2L2188.0,871.2L2189.0,871.2L2190.0,871.2L2191.0,871.2L2192.0,871.2L2193.0,871.2L2194.0,871.2L2195.0,871.2L2196.0,871.2L2197.0,871.3L2198.0,871.3L2199.0,871.3L2200.0,871.3L2201.0,871.3L2202.0,871.3L2203.0,871.3L2204.0,871.3L2205.0,871.3L2206.0,871.3L2207.0,871.3L2208.0,871.3L2209.0,871.3L2210.0,871.3L2211.0,871.3L2212.0,871.3L2213.0,871.4L2214.0,871.4L2215.0,871.4L2216.0,871.4L2217.0,871.4L2218.0,871.4L2219.0,871.4L2220.0,871.4L2221.0,871.4L2222.0,871.4L2223.0,871.4L2224.0,871.4L2225.0,871.4L2226.0,871.4L2227.0,871.4L2228.0,871.4L2229.0,871.4L2230.0,871.4L2231.0,871.5L2232.0,871.5L2233.0,871.5L2234.0,871.5L2235.0,871.5L2236.0,871.5L2237.0,871.5L2238.0,871.5L2239.0,871.5L2240.0,871.5L2241.0,871.5L2242.0,871.5L2243.0,871.5L2244.0,871.5L2245.0,871.5L2246.0,871.5L2247.0,871.5L2248.0,871.5L2249.0,871.5L2250.0,871.6L2251.0,871.6L2252.0,871.6L2253.0,871.6L2254.0,871.6L2255.0,871.6L2256.0,871.6L2257.0,871.6L2258.0,871.6L2259.0,871.6L2260.0,871.6L2261.0,871.6L2262.0,871.6L2263.0,871.6L2264.0,871.6L2265.0,871.6L2266.0,871.6L2267.0,871.6L2268.0,871.6L2269.0,871.6L2270.0,871.6L2271.0,871.6L2272.0,871.6L2273.0,871.7L2274.0,871.7L2275.0,871.7L2276.0,871.7L2277.0,871.7L2278.0,871.7L2279.0,871.7L2280.0,871.7L2281.0,871.7L2282.0,871.7L2283.0,871.7L2284.0,871.7L2285.0,871.7L2286.0,871.7L2287.0,871.7L2288.0,871.7L2289.0,871.7L2290.0,871.7L2291.0,871.7L2292.0,871.7L2293.0,871.7L2294.0,871.7L2295.0,871.7L2296.0,871.7L2297.0,871.7L2298.0,871.7L2299.0,871.7L2300.0,871.7L2301.0,871.7L2302.0,871.7L2303.0,871.7L2304.0,871.7L2305.0,871.7L2306.0,871.7L2307.0,871.7L2308.0,871.7L2309.0,871.7L2310.0,871.7L2311.0,871.7L2312.0,871.7L2313.0,871.7L2314.0,871.7L2315.0,871.7L2317.5,871.7" stroke="#00f" stroke-width="5.4" fill="none" stroke-linejoin="round"/></g>
<rect x="1385.00" y="119.70" width="934.50" height="752.30" fill="none" stroke="#000" stroke-width="5.0"/>
<path d="M1385.00,872.00v14.80M1501.81,872.00v7.30M1618.62,872.00v14.80M1735.44,872.00v7.30M1852.25,872.00v14.80M1969.06,872.00v7.30M2085.88,872.00v14.80M2202.69,872.00v7.30M2319.50,872.00v14.80M1385.00,872.00h-14.80M1385.00,777.96h-7.30M1385.00,683.92h-14.80M1385.00,589.89h-7.30M1385.00,495.85h-14.80M1385.00,401.81h-7.30M1385.00,307.77h-14.80M1385.00,213.74h-7.30M1385.00,119.70h-14.80" stroke="#000" stroke-width="5.0" fill="none"/>
<g id="curves-c"><path d="M216.7,1953.6L217.7,1953.6L218.7,1952.9L219.7,1952.0L220.7,1951.7L221.7,1951.6L222.7,1952.0L223.7,1952.1L224.7,1952.0L225.7,1951.5L226.7,1952.1L227.7,1952.5L228.7,1953.3L229.7,1953.8L230.7,1953.3L231.7,1952.7L232.7,1951.4L233.7,1951.8L234.7,1951.5L235.7,1951.2L236.7,1951.7L237.7,1951.9L238.7,1952.5L239.7,1952.5L240.7,1952.3L241.7,1951.9L242.7,1951.8L243.7,1951.8L244.7,1952.0L245.7,1952.0L246.7,1952.9L247.7,1952.7L248.7,1952.5L249.7,1951.8L250.7,1950.1L251.7,1950.2L252.7,1950.0L253.7,1950.7L254.7,1951.6L255.7,1951.3L256.7,1951.9L257.7,1951.3L258.7,1950.6L259.7,1951.0L260.7,1950.4L261.7,1950.2L262.7,1950.8L263.7,1950.1L264.7,1950.2L265.7,1950.9L266.7,1951.2L267.7,1952.3L268.7,1952.7L269.7,1952.8L270.7,1952.0L271.7,1951.8L272.7,1950.7L273.7,1950.0L274.7,1949.6L275.7,1949.6L276.7,1950.6L277.7,1950.6L278.7,1951.6L279.7,1951.0L280.7,1950.5L281.7,1950.5L282.7,1949.6L283.7,1949.8L284.7,1950.1L285.7,1949.7L286.7,1950.1L287.7,1949.8L288.7,1949.6L289.7,1949.8L290.7,1949.6L291.7,1949.6L292.7,1949.1L293.7,1948.5L294.7,1948.5L295.7,1948.0L296.7,1947.8L297.7,1948.0L298.7,1947.4L299.7,1947.5L300.7,1947.5L301.7,1947.2L302.7,1947.0L303.7,1946.4L304.7,1945.9L305.7,1945.6L306.7,1945.5L307.7,1945.6L308.7,1945.6L309.7,1945.4L310.7,1945.2L311.7,1945.2L312.7,1944.8L313.7,1944.6L314.7,1944.6L315.7,1944.4L316.7,1944.1L317.7,1943.8L318.7,1943.4L319.7,1943.2L320.7,1943.0L321.7,1942.7L322.7,1942.4L323.7,1942.0L324.7,1941.8L325.7,1941.5L326.7,1941.2L327.7,1940.8L328.7,1940.5L329.7,1940.2L330.7,1939.9L331.7,1939.5L332.7,1939.2L333.7,1938.8L334.7,1938.5L335.7,1938.1L336.7,1937.7L337.7,1937.3L338.7,1936.9L339.7,1936.5L340.7,1936.1L341.7,1935.7L342.7,1935.2L343.7,1934.8L344.7,1934.3L345.7,1933.8L346.7,1933.4L347.7,1932.9L348.7,1932.4L349.7,1931.9L350.7,1931.3L351.7,1930.8L352.7,1930.3L353.7,1929.7L354.7,1929.1L355.7,1928.6L356.7,1928.0L357.7,1927.4L358.7,1926.7L359.7,1926.1L360.7,1925.5L361.7,1924.8L362.7,1924.1L363.7,1923.5L364.7,1922.8L365.7,1922.1L366.7,1921.3L367.7,1920.6L368.7,1919.8L369.7,1919.1L370.7,1918.3L371.7,1917.5L372.7,1916.7L373.7,1915.9L374.7,1915.0L375.7,1914.2L376.7,1913.3L377.7,1912.4L378.7,1911.5L379.7,1910.6L380.7,1909.6L381.7,1908.7L382.7,1907.7L383.7,1906.7L384.7,1905.7L385.7,1904.7L386.7,1903.7L387.7,1902.6L388.7,1901.5L389.7,1900.5L390.7,1899.4L391.7,1898.2L392.7,1897.1L393.7,1895.9L394.7,1894.8L395.7,1893.6L396.7,1892.3L397.7,1891.1L398.7,1889.9L399.7,1888.6L400.7,1887.3L401.7,1886.0L402.7,1884.7L403.7,1883.3L404.7,1881.9L405.7,1880.6L406.7,1879.1L407.7,1877.7L408.7,1876.3L409.7,1874.8L410.7,1873.3L411.7,1871.8L412.7,1870.3L413.7,1868.7L414.7,1867.1L415.7,1865.5L416.7,1863.9L417.7,1862.3L418.7,1860.6L419.7,1858.9L420.7,1857.2L421.7,1855.5L422.7,1853.8L423.7,1852.0L424.7,1850.2L425.7,1848.4L426.7,1846.6L427.7,1844.7L428.7,1842.8L429.7,1840.9L430.7,1839.0L431.7,1837.0L432.7,1835.0L433.7,1833.0L434.7,1831.0L435.7,1829.0L436.7,1826.9L437.7,1824.8L438.7,1822.7L439.7,1820.6L440.7,1818.5L441.7,1816.3L442.7,1814.1L443.7,1811.9L444.7,1809.7L445.7,1807.4L446.7,1805.1L447.7,1802.8L448.7,1800.5L449.7,1798.2L450.7,1795.8L451.7,1793.5L452.7,1791.1L453.7,1788.6L454.7,1786.2L455.7,1783.7L456.7,1781.2L457.7,1778.7L458.7,1776.2L459.7,1773.7L460.7,1771.1L461.7,1768.5L462.7,1765.9L463.7,1763.3L464.7,1760.7L465.7,1758.0L466.7,1755.3L467.7,1752.6L468.7,1749.9L469.7,1747.2L470.7,1744.4L471.7,1741.6L472.7,1738.9L473.7,1736.0L474.7,1733.2L475.7,1730.4L476.7,1727.5L477.7,1724.6L478.7,1721.7L479.7,1718.8L480.7,1715.8L481.7,1712.9L482.7,1709.9L483.7,1706.9L484.7,1703.9L485.7,1700.8L486.7,1697.8L487.7,1694.7L488.7,1691.6L489.7,1688.5L490.7,1685.4L491.7,1682.3L492.7,1679.2L493.7,1676.0L494.7,1672.8L495.7,1669.6L496.7,1666.4L497.7,1663.2L498.7,1660.0L499.7,1656.8L500.7,1653.5L501.7,1650.3L502.7,1647.0L503.7,1643.7L504.7,1640.4L505.7,1637.1L506.7,1633.8L507.7,1630.5L508.7,1627.1L509.7,1623.8L510.7,1620.4L511.7,1617.1L512.7,1613.7L513.7,1610.3L514.7,1606.9L515.7,1603.5L516.7,1600.1L517.7,1596.7L518.7,1593.3L519.7,1589.9L520.7,1586.4L521.7,1583.0L522.7,1579.6L523.7,1576.1L524.7,1572.7L525.7,1569.2L526.7,1565.7L527.7,1562.3L528.7,1558.8L529.7,1555.3L530.7,1551.9L531.7,1548.4L532.7,1544.9L533.7,1541.4L534.7,1537.9L535.7,1534.5L536.7,1531.0L537.7,1527.5L538.7,1524.0L539.7,1520.5L540.7,1517.0L541.7,1513.6L542.7,1510.1L543.7,1506.6L544.7,1503.2L545.7,1499.7L546.7,1496.3L547.7,1492.8L548.7,1489.4L549.7,1486.0L550.7,1482.6L551.7,1479.3L552.7,1475.9L553.7,1472.6L554.7,1469.3L555.7,1466.0L556.7,1462.7L557.7,1459.4L558.7,1456.2L559.7,1453.0L560.7,1449.8L561.7,1446.7L562.7,1443.6L563.7,1440.5L564.7,1437.4L565.7,1434.4L566.7,1431.4L567.7,1428.4L568.7,1425.5L569.7,1422.6L570.7,1419.7L571.7,1416.9L572.7,1414.2L573.7,1411.4L574.7,1408.7L575.7,1406.1L576.7,1403.5L577.7,1400.9L578.7,1398.4L579.7,1395.9L580.7,1393.5L581.7,1391.2L582.7,1388.9L583.7,1386.6L584.7,1384.4L585.7,1382.2L586.7,1380.1L587.7,1378.1L588.7,1376.1L589.7,1374.2L590.7,1372.3L591.7,1370.6L592.7,1368.8L593.7,1367.1L594.7,1365.5L595.7,1364.0L596.7,1362.5L597.7,1361.1L598.7,1359.7L599.7,1358.4L600.7,1357.1L601.7,1355.9L602.7,1354.7L603.7,1353.6L604.7,1352.6L605.7,1351.6L606.7,1350.6L607.7,1349.7L608.7,1348.8L609.7,1348.0L610.7,1347.2L611.7,1346.4L612.7,1345.6L613.7,1344.8L614.7,1344.1L615.7,1343.4L616.7,1342.6L617.7,1341.9L618.7,1341.3L619.7,1340.6L620.7,1340.0L621.7,1339.4L622.7,1338.8L623.7,1338.2L624.7,1337.7L625.7,1337.2L626.7,1336.8L627.7,1336.4L628.7,1336.0L629.7,1335.7L630.7,1335.4L631.7,1335.2L632.7,1335.0L633.7,1334.8L634.7,1334.7L635.7,1334.6L636.7,1334.5L637.7,1334.4L638.7,1334.4L639.7,1334.4L640.7,1334.5L641.7,1334.5L642.7,1334.6L643.7,1334.8L644.7,1334.9L645.7,1335.1L646.7,1335.3L647.7,1335.6L648.7,1335.8L649.7,1336.1L650.7,1336.5L651.7,1336.8L652.7,1337.2L653.7,1337.6L654.7,1338.0L655.7,1338.5L656.7,1338.9L657.7,1339.4L658.7,1340.0L659.7,1340.5L660.7,1341.1L661.7,1341.7L662.7,1342.3L663.7,1342.9L664.7,1343.6L665.7,1344.3L666.7,1345.0L667.7,1345.8L668.7,1346.6L669.7,1347.5L670.7,1348.4L671.7,1349.3L672.7,1350.2L673.7,1351.1L674.7,1352.0L675.7,1352.9L676.7,1353.8L677.7,1354.8L678.7,1355.7L679.7,1356.7L680.7,1357.7L681.7,1358.8L682.7,1359.8L683.7,1360.9L684.7,1362.0L685.7,1363.1L686.7,1364.2L687.7,1365.4L688.7,1366.6L689.7,1367.9L690.7,1369.2L691.7,1370.5L692.7,1371.8L693.7,1373.2L694.7,1374.5L695.7,1375.9L696.7,1377.3L697.7,1378.7L698.7,1380.1L699.7,1381.5L700.7,1382.9L701.7,1384.4L702.7,1385.8L703.7,1387.3L704.7,1388.8L705.7,1390.3L706.7,1391.9L707.7,1393.5L708.7,1395.1L709.7,1396.7L710.7,1398.5L711.7,1400.3L712.7,1402.2L713.7,1404.1L714.7,1405.9L715.7,1407.8L716.7,1409.6L717.7,1411.2L718.7,1412.7L719.7,1414.2L720.7,1415.7L721.7,1417.3L722.7,1419.1L723.7,1421.2L724.7,1423.8L725.7,1427.1L726.7,1430.9L727.7,1434.7L728.7,1438.6L729.7,1442.7L730.7,1447.0L731.7,1451.2L732.7,1455.0L733.7,1458.2L734.7,1461.0L735.7,1463.5L736.7,1465.8L737.7,1467.9L738.7,1470.1L739.7,1472.2L740.7,1474.3L741.7,1476.4L742.7,1478.5L743.7,1480.5L744.7,1482.5L745.7,1484.4L746.7,1486.4L747.7,1488.3L748.7,1490.3L749.7,1492.3L750.7,1494.2L751.7,1496.2L752.7,1498.1L753.7,1500.0L754.7,1501.9L755.7,1503.8L756.7,1505.7L757.7,1507.7L758.7,1509.7L759.7,1511.8L760.7,1513.9L761.7,1516.2L762.7,1518.6L763.7,1521.1L764.7,1523.8L765.7,1526.6L766.7,1529.4L767.7,1532.3L768.7,1535.2L769.7,1538.1L770.7,1541.0L771.7,1543.9L772.7,1546.7L773.7,1549.6L774.7,1552.5L775.7,1555.4L776.7,1558.3L777.7,1561.2L778.7,1564.1L779.7,1567.0L780.7,1569.9L781.7,1572.8L782.7,1575.7L783.7,1578.5L784.7,1581.3L785.7,1584.1L786.7,1586.8L787.7,1589.4L788.7,1592.1L789.7,1594.7L790.7,1597.3L791.7,1599.8L792.7,1602.4L793.7,1604.9L794.7,1607.5L795.7,1609.9L796.7,1612.4L797.7,1614.9L798.7,1617.3L799.7,1619.7L800.7,1622.1L801.7,1624.5L802.7,1626.9L803.7,1629.2L804.7,1631.6L805.7,1633.9L806.7,1636.1L807.7,1638.4L808.7,1640.6L809.7,1642.8L810.7,1645.0L811.7,1647.2L812.7,1649.4L813.7,1651.6L814.7,1653.7L815.7,1655.9L816.7,1658.0L817.7,1660.2L818.7,1662.3L819.7,1664.4L820.7,1666.6L821.7,1668.7L822.7,1670.8L823.7,1673.0L824.7,1675.1L825.7,1677.2L826.7,1679.3L827.7,1681.5L828.7,1683.6L829.7,1685.7L830.7,1687.8L831.7,1689.9L832.7,1692.0L833.7,1694.1L834.7,1696.2L835.7,1698.3L836.7,1700.3L837.7,1702.4L838.7,1704.5L839.7,1706.6L840.7,1708.6L841.7,1710.7L842.7,1712.7L843.7,1714.8L844.7,1716.8L845.7,1718.9L846.7,1720.9L847.7,1722.9L848.7,1725.0L849.7,1727.0L850.7,1729.0L851.7,1731.0L852.7,1733.0L853.7,1735.0L854.7,1737.0L855.7,1739.0L856.7,1740.9L857.7,1742.9L858.7,1744.9L859.7,1746.8L860.7,1748.7L861.7,1750.7L862.7,1752.6L863.7,1754.5L864.7,1756.4L865.7,1758.3L866.7,1760.2L867.7,1762.1L868.7,1763.9L869.7,1765.8L870.7,1767.6L871.7,1769.5L872.7,1771.3L873.7,1773.1L874.7,1774.9L875.7,1776.7L876.7,1778.5L877.7,1780.3L878.7,1782.0L879.7,1783.8L880.7,1785.5L881.7,1787.2L882.7,1789.0L883.7,1790.7L884.7,1792.3L885.7,1794.0L886.7,1795.7L887.7,1797.3L888.7,1799.0L889.7,1800.6L890.7,1802.2L891.7,1803.8L892.7,1805.3L893.7,1806.9L894.7,1808.5L895.7,1810.0L896.7,1811.5L897.7,1813.0L898.7,1814.5L899.7,1816.0L900.7,1817.5L901.7,1818.9L902.7,1820.4L903.7,1821.8L904.7,1823.2L905.7,1824.6L906.7,1826.0L907.7,1827.4L908.7,1828.8L909.7,1830.2L910.7,1831.5L911.7,1832.8L912.7,1834.2L913.7,1835.5L914.7,1836.8L915.7,1838.0L916.7,1839.3L917.7,1840.6L918.7,1841.8L919.7,1843.1L920.7,1844.3L921.7,1845.5L922.7,1846.7L923.7,1847.9L924.7,1849.1L925.7,1850.3L926.7,1851.5L927.7,1852.6L928.7,1853.8L929.7,1854.9L930.7,1856.0L931.7,1857.2L932.7,1858.3L933.7,1859.4L934.7,1860.4L935.7,1861.5L936.7,1862.6L937.7,1863.6L938.7,1864.7L939.7,1865.7L940.7,1866.8L941.7,1867.8L942.7,1868.8L943.7,1869.8L944.7,1870.8L945.7,1871.8L946.7,1872.7L947.7,1873.7L948.7,1874.7L949.7,1875.6L950.7,1876.6L951.7,1877.5L952.7,1878.4L953.7,1879.4L954.7,1880.3L955.7,1881.2L956.7,1882.1L957.7,1882.9L958.7,1883.8L959.7,1884.7L960.7,1885.6L961.7,1886.4L962.7,1887.3L963.7,1888.1L964.7,1888.9L965.7,1889.7L966.7,1890.6L967.7,1891.4L968.7,1892.2L969.7,1892.9L970.7,1893.7L971.7,1894.5L972.7,1895.3L973.7,1896.0L974.7,1896.8L975.7,1897.5L976.7,1898.3L977.7,1899.0L978.7,1899.7L979.7,1900.4L980.7,1901.1L981.7,1901.8L982.7,1902.5L983.7,1903.2L984.7,1903.9L985.7,1904.6L986.7,1905.2L987.7,1905.9L988.7,1906.5L989.7,1907.2L990.7,1907.8L991.7,1908.4L992.7,1909.1L993.7,1909.7L994.7,1910.3L995.7,1910.9L996.7,1911.5L997.7,1912.1L998.7,1912.7L999.7,1913.2L1000.7,1913.8L1001.7,1914.4L1002.7,1914.9L1003.7,1915.5L1004.7,1916.0L1005.7,1916.5L1006.7,1917.1L1007.7,1917.6L1008.7,1918.1L1009.7,1918.6L1010.7,1919.1L1011.7,1919.6L1012.7,1920.1L1013.7,1920.6L1014.7,1921.1L1015.7,1921.5L1016.7,1922.0L1017.7,1922.5L1018.7,1922.9L1019.7,1923.4L1020.7,1923.8L1021.7,1924.3L1022.7,1924.7L1023.7,1925.1L1024.7,1925.5L1025.7,1926.0L1026.7,1926.4L1027.7,1926.8L1028.7,1927.2L1029.7,1927.6L1030.7,1928.0L1031.7,1928.4L1032.7,1928.7L1033.7,1929.1L1034.7,1929.5L1035.7,1929.8L1036.7,1930.2L1037.7,1930.6L1038.7,1930.9L1039.7,1931.3L1040.7,1931.6L1041.7,1931.9L1042.7,1932.3L1043.7,1932.6L1044.7,1932.9L1045.7,1933.2L1046.7,1933.6L1047.7,1933.9L1048.7,1934.2L1049.7,1934.5L1050.7,1934.8L1051.7,1935.1L1052.7,1935.4L1053.7,1935.6L1054.7,1935.9L1055.7,1936.2L1056.7,1936.5L1057.7,1936.8L1058.7,1937.0L1059.7,1937.3L1060.7,1937.5L1061.7,1937.8L1062.7,1938.1L1063.7,1938.3L1064.7,1938.5L1065.7,1938.8L1066.7,1939.0L1067.7,1939.3L1068.7,1939.5L1069.7,1939.7L1070.7,1940.0L1071.7,1940.2L1072.7,1940.4L1073.7,1940.6L1074.7,1940.8L1075.7,1941.1L1076.7,1941.3L1077.7,1941.5L1078.7,1941.7L1079.7,1941.9L1080.7,1942.1L1081.7,1942.3L1082.7,1942.5L1083.7,1942.7L1084.7,1942.9L1085.7,1943.1L1086.7,1943.3L1087.7,1943.5L1088.7,1943.6L1089.7,1943.8L1090.7,1944.0L1091.7,1944.2L1092.7,1944.4L1093.7,1944.6L1094.7,1944.7L1095.7,1944.9L1096.7,1945.1L1097.7,1945.3L1098.7,1945.4L1099.7,1945.6L1100.7,1945.8L1101.7,1945.9L1102.7,1946.1L1103.7,1946.3L1104.7,1946.4L1105.7,1946.6L1106.7,1946.8L1107.7,1946.9L1108.7,1947.1L1109.7,1947.3L1110.7,1947.4L1111.7,1947.6L1112.7,1947.8L1113.7,1947.9L1114.7,1948.1L1115.7,1948.2L1116.7,1948.4L1117.7,1948.6L1118.7,1948.7L1119.7,1948.9L1120.7,1949.0L1121.7,1949.2L1122.7,1949.3L1123.7,1949.5L1124.7,1949.6L1125.7,1949.8L1126.7,1949.9L1127.7,1950.0L1128.7,1950.1L1129.7,1950.2L1130.7,1950.3L1131.7,1950.4L1132.7,1950.5L1133.7,1950.6L1134.7,1950.7L1135.7,1950.8L1136.7,1950.8L1137.7,1950.9L1138.7,1950.9L1139.7,1950.9L1140.7,1951.0L1141.7,1951.0L1142.7,1951.0L1143.7,1950.9L1144.7,1950.9L1146.6,1950.8" stroke="#000" stroke-width="5.4" fill="none" stroke-linejoin="round"/>
<path d="M216.7,1958.5L217.7,1958.5L218.7,1958.5L219.7,1958.5L220.7,1958.5L221.7,1958.5L222.7,1958.5L223.7,1958.5L224.7,1958.5L225.7,1958.5L226.7,1958.5L227.7,1958.5L228.7,1958.5L229.7,1958.5L230.7,1958.5L231.7,1958.5L232.7,1958.4L233.7,1958.4L234.7,1958.4L235.7,1958.4L236.7,1958.4L237.7,1958.4L238.7,1958.3L239.7,1958.3L240.7,1958.3L241.7,1958.3L242.7,1958.3L243.7,1958.2L244.7,1958.2L245.7,1958.2L246.7,1958.2L247.7,1958.1L248.7,1958.1L249.7,1958.1L250.7,1958.1L251.7,1958.0L252.7,1958.0L253.7,1958.0L254.7,1958.0L255.7,1958.0L256.7,1957.9L257.7,1957.9L258.7,1957.9L259.7,1957.9L260.7,1957.9L261.7,1957.8L262.7,1957.8L263.7,1957.8L264.7,1957.8L265.7,1957.8L266.7,1957.7L267.7,1957.7L268.7,1957.7L269.7,1957.7L270.7,1957.7L271.7,1957.7L272.7,1957.6L273.7,1957.6L274.7,1957.6L275.7,1957.6L276.7,1957.6L277.7,1957.5L278.7,1957.5L279.7,1957.5L280.7,1957.5L281.7,1957.4L282.7,1957.4L283.7,1957.4L284.7,1957.4L285.7,1957.3L286.7,1957.3L287.7,1957.3L288.7,1957.3L289.7,1957.2L290.7,1957.2L291.7,1957.2L292.7,1957.1L293.7,1957.1L294.7,1957.1L295.7,1957.0L296.7,1957.0L297.7,1956.9L298.7,1956.9L299.7,1956.8L300.7,1956.8L301.7,1956.8L302.7,1956.7L303.7,1956.7L304.7,1956.6L305.7,1956.5L306.7,1956.5L307.7,1956.4L308.7,1956.4L309.7,1956.3L310.7,1956.2L311.7,1956.2L312.7,1956.1L313.7,1956.0L314.7,1956.0L315.7,1955.9L316.7,1955.8L317.7,1955.7L318.7,1955.6L319.7,1955.6L320.7,1955.5L321.7,1955.4L322.7,1955.3L323.7,1955.2L324.7,1955.1L325.7,1955.0L326.7,1954.9L327.7,1954.8L328.7,1954.7L329.7,1954.6L330.7,1954.5L331.7,1954.4L332.7,1954.2L333.7,1954.1L334.7,1954.0L335.7,1953.9L336.7,1953.8L337.7,1953.6L338.7,1953.5L339.7,1953.4L340.7,1953.3L341.7,1953.1L342.7,1953.0L343.7,1952.8L344.7,1952.7L345.7,1952.6L346.7,1952.4L347.7,1952.3L348.7,1952.1L349.7,1952.0L350.7,1951.8L351.7,1951.7L352.7,1951.5L353.7,1951.3L354.7,1951.2L355.7,1951.0L356.7,1950.9L357.7,1950.7L358.7,1950.5L359.7,1950.3L360.7,1950.2L361.7,1950.0L362.7,1949.8L363.7,1949.6L364.7,1949.4L365.7,1949.3L366.7,1949.1L367.7,1948.9L368.7,1948.7L369.7,1948.5L370.7,1948.3L371.7,1948.1L372.7,1947.9L373.7,1947.7L374.7,1947.5L375.7,1947.3L376.7,1947.1L377.7,1946.8L378.7,1946.6L379.7,1946.4L380.7,1946.2L381.7,1946.0L382.7,1945.7L383.7,1945.5L384.7,1945.3L385.7,1945.0L386.7,1944.8L387.7,1944.6L388.7,1944.3L389.7,1944.1L390.7,1943.8L391.7,1943.6L392.7,1943.3L393.7,1943.0L394.7,1942.8L395.7,1942.5L396.7,1942.2L397.7,1942.0L398.7,1941.7L399.7,1941.4L400.7,1941.1L401.7,1940.8L402.7,1940.6L403.7,1940.3L404.7,1940.0L405.7,1939.7L406.7,1939.4L407.7,1939.1L408.7,1938.7L409.7,1938.4L410.7,1938.1L411.7,1937.8L412.7,1937.5L413.7,1937.1L414.7,1936.8L415.7,1936.5L416.7,1936.1L417.7,1935.8L418.7,1935.4L419.7,1935.1L420.7,1934.7L421.7,1934.3L422.7,1934.0L423.7,1933.6L424.7,1933.2L425.7,1932.8L426.7,1932.5L427.7,1932.1L428.7,1931.7L429.7,1931.3L430.7,1930.9L431.7,1930.5L432.7,1930.0L433.7,1929.6L434.7,1929.2L435.7,1928.8L436.7,1928.4L437.7,1927.9L438.7,1927.5L439.7,1927.0L440.7,1926.6L441.7,1926.2L442.7,1925.7L443.7,1925.2L444.7,1924.8L445.7,1924.3L446.7,1923.8L447.7,1923.4L448.7,1922.9L449.7,1922.4L450.7,1921.9L451.7,1921.4L452.7,1920.9L453.7,1920.4L454.7,1919.9L455.7,1919.4L456.7,1918.9L457.7,1918.4L458.7,1917.9L459.7,1917.3L460.7,1916.8L461.7,1916.3L462.7,1915.7L463.7,1915.2L464.7,1914.6L465.7,1914.1L466.7,1913.5L467.7,1913.0L468.7,1912.4L469.7,1911.9L470.7,1911.3L471.7,1910.7L472.7,1910.1L473.7,1909.6L474.7,1909.0L475.7,1908.4L476.7,1907.8L477.7,1907.2L478.7,1906.6L479.7,1906.0L480.7,1905.4L481.7,1904.8L482.7,1904.1L483.7,1903.5L484.7,1902.9L485.7,1902.3L486.7,1901.6L487.7,1901.0L488.7,1900.4L489.7,1899.7L490.7,1899.1L491.7,1898.4L492.7,1897.8L493.7,1897.1L494.7,1896.5L495.7,1895.8L496.7,1895.1L497.7,1894.5L498.7,1893.8L499.7,1893.1L500.7,1892.4L501.7,1891.7L502.7,1891.0L503.7,1890.4L504.7,1889.7L505.7,1889.0L506.7,1888.3L507.7,1887.6L508.7,1886.9L509.7,1886.2L510.7,1885.4L511.7,1884.7L512.7,1884.0L513.7,1883.3L514.7,1882.6L515.7,1881.8L516.7,1881.1L517.7,1880.4L518.7,1879.7L519.7,1878.9L520.7,1878.2L521.7,1877.4L522.7,1876.7L523.7,1876.0L524.7,1875.2L525.7,1874.5L526.7,1873.7L527.7,1873.0L528.7,1872.2L529.7,1871.4L530.7,1870.7L531.7,1869.9L532.7,1869.2L533.7,1868.4L534.7,1867.6L535.7,1866.8L536.7,1866.1L537.7,1865.3L538.7,1864.5L539.7,1863.7L540.7,1863.0L541.7,1862.2L542.7,1861.4L543.7,1860.6L544.7,1859.8L545.7,1859.1L546.7,1858.3L547.7,1857.5L548.7,1856.7L549.7,1855.9L550.7,1855.1L551.7,1854.4L552.7,1853.6L553.7,1852.8L554.7,1852.0L555.7,1851.3L556.7,1850.5L557.7,1849.7L558.7,1848.9L559.7,1848.2L560.7,1847.4L561.7,1846.6L562.7,1845.9L563.7,1845.1L564.7,1844.4L565.7,1843.6L566.7,1842.9L567.7,1842.1L568.7,1841.4L569.7,1840.6L570.7,1839.9L571.7,1839.2L572.7,1838.5L573.7,1837.7L574.7,1837.0L575.7,1836.3L576.7,1835.6L577.7,1834.9L578.7,1834.2L579.7,1833.6L580.7,1832.9L581.7,1832.2L582.7,1831.5L583.7,1830.9L584.7,1830.2L585.7,1829.6L586.7,1828.9L587.7,1828.3L588.7,1827.7L589.7,1827.1L590.7,1826.5L591.7,1825.9L592.7,1825.3L593.7,1824.7L594.7,1824.1L595.7,1823.5L596.7,1823.0L597.7,1822.4L598.7,1821.9L599.7,1821.4L600.7,1820.8L601.7,1820.3L602.7,1819.8L603.7,1819.3L604.7,1818.8L605.7,1818.3L606.7,1817.9L607.7,1817.4L608.7,1817.0L609.7,1816.5L610.7,1816.1L611.7,1815.7L612.7,1815.3L613.7,1814.9L614.7,1814.5L615.7,1814.1L616.7,1813.7L617.7,1813.4L618.7,1813.0L619.7,1812.7L620.7,1812.4L621.7,1812.0L622.7,1811.7L623.7,1811.4L624.7,1811.2L625.7,1810.9L626.7,1810.6L627.7,1810.4L628.7,1810.1L629.7,1809.9L630.7,1809.7L631.7,1809.5L632.7,1809.3L633.7,1809.1L634.7,1808.9L635.7,1808.7L636.7,1808.5L637.7,1808.4L638.7,1808.2L639.7,1808.1L640.7,1807.9L641.7,1807.8L642.7,1807.7L643.7,1807.6L644.7,1807.5L645.7,1807.4L646.7,1807.3L647.7,1807.2L648.7,1807.2L649.7,1807.1L650.7,1807.1L651.7,1807.1L652.7,1807.1L653.7,1807.0L654.7,1807.0L655.7,1807.0L656.7,1807.0L657.7,1807.0L658.7,1807.1L659.7,1807.1L660.7,1807.1L661.7,1807.1L662.7,1807.1L663.7,1807.2L664.7,1807.2L665.7,1807.2L666.7,1807.2L667.7,1807.2L668.7,1807.3L669.7,1807.4L670.7,1807.5L671.7,1807.7L672.7,1807.9L673.7,1808.0L674.7,1808.2L675.7,1808.4L676.7,1808.6L677.7,1808.8L678.7,1808.9L679.7,1809.0L680.7,1809.1L681.7,1809.2L682.7,1809.2L683.7,1809.3L684.7,1809.3L685.7,1809.4L686.7,1809.4L687.7,1809.5L688.7,1809.5L689.7,1809.6L690.7,1809.7L691.7,1809.7L692.7,1809.8L693.7,1810.0L694.7,1810.1L695.7,1810.3L696.7,1810.5L697.7,1810.7L698.7,1810.9L699.7,1811.2L700.7,1811.4L701.7,1811.6L702.7,1811.9L703.7,1812.1L704.7,1812.4L705.7,1812.6L706.7,1812.9L707.7,1813.1L708.7,1813.4L709.7,1813.7L710.7,1814.0L711.7,1814.3L712.7,1814.6L713.7,1815.0L714.7,1815.3L715.7,1815.7L716.7,1816.1L717.7,1816.5L718.7,1817.0L719.7,1817.4L720.7,1818.0L721.7,1818.5L722.7,1819.2L723.7,1820.0L724.7,1821.0L725.7,1822.1L726.7,1823.2L727.7,1824.1L728.7,1825.0L729.7,1825.9L730.7,1826.8L731.7,1827.5L732.7,1827.9L733.7,1828.1L734.7,1828.1L735.7,1828.0L736.7,1827.8L737.7,1827.7L738.7,1827.6L739.7,1827.6L740.7,1827.7L741.7,1828.0L742.7,1828.3L743.7,1828.7L744.7,1829.1L745.7,1829.6L746.7,1830.0L747.7,1830.4L748.7,1830.9L749.7,1831.3L750.7,1831.8L751.7,1832.3L752.7,1832.8L753.7,1833.3L754.7,1833.9L755.7,1834.5L756.7,1835.1L757.7,1835.8L758.7,1836.5L759.7,1837.3L760.7,1838.1L761.7,1838.9L762.7,1839.7L763.7,1840.5L764.7,1841.2L765.7,1841.9L766.7,1842.5L767.7,1843.2L768.7,1843.8L769.7,1844.4L770.7,1845.0L771.7,1845.5L772.7,1846.1L773.7,1846.6L774.7,1847.2L775.7,1847.8L776.7,1848.3L777.7,1848.9L778.7,1849.5L779.7,1850.1L780.7,1850.7L781.7,1851.3L782.7,1851.9L783.7,1852.5L784.7,1853.1L785.7,1853.8L786.7,1854.4L787.7,1855.0L788.7,1855.6L789.7,1856.3L790.7,1856.9L791.7,1857.5L792.7,1858.2L793.7,1858.8L794.7,1859.4L795.7,1860.1L796.7,1860.7L797.7,1861.3L798.7,1861.9L799.7,1862.5L800.7,1863.1L801.7,1863.7L802.7,1864.4L803.7,1865.0L804.7,1865.6L805.7,1866.2L806.7,1866.8L807.7,1867.4L808.7,1868.0L809.7,1868.6L810.7,1869.2L811.7,1869.8L812.7,1870.4L813.7,1871.0L814.7,1871.6L815.7,1872.2L816.7,1872.8L817.7,1873.4L818.7,1873.9L819.7,1874.5L820.7,1875.1L821.7,1875.7L822.7,1876.2L823.7,1876.8L824.7,1877.4L825.7,1878.0L826.7,1878.5L827.7,1879.1L828.7,1879.7L829.7,1880.2L830.7,1880.8L831.7,1881.4L832.7,1881.9L833.7,1882.5L834.7,1883.0L835.7,1883.6L836.7,1884.2L837.7,1884.7L838.7,1885.3L839.7,1885.9L840.7,1886.4L841.7,1887.0L842.7,1887.5L843.7,1888.1L844.7,1888.6L845.7,1889.2L846.7,1889.8L847.7,1890.3L848.7,1890.9L849.7,1891.4L850.7,1892.0L851.7,1892.5L852.7,1893.1L853.7,1893.6L854.7,1894.1L855.7,1894.7L856.7,1895.2L857.7,1895.8L858.7,1896.3L859.7,1896.8L860.7,1897.4L861.7,1897.9L862.7,1898.4L863.7,1898.9L864.7,1899.5L865.7,1900.0L866.7,1900.5L867.7,1901.0L868.7,1901.5L869.7,1902.0L870.7,1902.5L871.7,1903.1L872.7,1903.6L873.7,1904.1L874.7,1904.5L875.7,1905.0L876.7,1905.5L877.7,1906.0L878.7,1906.5L879.7,1907.0L880.7,1907.5L881.7,1907.9L882.7,1908.4L883.7,1908.9L884.7,1909.3L885.7,1909.8L886.7,1910.2L887.7,1910.7L888.7,1911.1L889.7,1911.6L890.7,1912.0L891.7,1912.4L892.7,1912.9L893.7,1913.3L894.7,1913.7L895.7,1914.1L896.7,1914.6L897.7,1915.0L898.7,1915.4L899.7,1915.8L900.7,1916.2L901.7,1916.6L902.7,1917.0L903.7,1917.4L904.7,1917.7L905.7,1918.1L906.7,1918.5L907.7,1918.9L908.7,1919.3L909.7,1919.6L910.7,1920.0L911.7,1920.4L912.7,1920.7L913.7,1921.1L914.7,1921.4L915.7,1921.8L916.7,1922.1L917.7,1922.5L918.7,1922.8L919.7,1923.2L920.7,1923.5L921.7,1923.8L922.7,1924.2L923.7,1924.5L924.7,1924.8L925.7,1925.1L926.7,1925.5L927.7,1925.8L928.7,1926.1L929.7,1926.4L930.7,1926.7L931.7,1927.0L932.7,1927.4L933.7,1927.7L934.7,1928.0L935.7,1928.3L936.7,1928.6L937.7,1928.9L938.7,1929.2L939.7,1929.5L940.7,1929.8L941.7,1930.0L942.7,1930.3L943.7,1930.6L944.7,1930.9L945.7,1931.2L946.7,1931.5L947.7,1931.8L948.7,1932.0L949.7,1932.3L950.7,1932.6L951.7,1932.9L952.7,1933.2L953.7,1933.4L954.7,1933.7L955.7,1934.0L956.7,1934.2L957.7,1934.5L958.7,1934.8L959.7,1935.0L960.7,1935.3L961.7,1935.6L962.7,1935.8L963.7,1936.1L964.7,1936.3L965.7,1936.6L966.7,1936.8L967.7,1937.1L968.7,1937.3L969.7,1937.6L970.7,1937.8L971.7,1938.1L972.7,1938.3L973.7,1938.5L974.7,1938.8L975.7,1939.0L976.7,1939.2L977.7,1939.5L978.7,1939.7L979.7,1939.9L980.7,1940.2L981.7,1940.4L982.7,1940.6L983.7,1940.8L984.7,1941.0L985.7,1941.2L986.7,1941.5L987.7,1941.7L988.7,1941.9L989.7,1942.1L990.7,1942.3L991.7,1942.5L992.7,1942.7L993.7,1942.9L994.7,1943.1L995.7,1943.3L996.7,1943.5L997.7,1943.6L998.7,1943.8L999.7,1944.0L1000.7,1944.2L1001.7,1944.4L1002.7,1944.5L1003.7,1944.7L1004.7,1944.9L1005.7,1945.1L1006.7,1945.2L1007.7,1945.4L1008.7,1945.5L1009.7,1945.7L1010.7,1945.9L1011.7,1946.0L1012.7,1946.2L1013.7,1946.3L1014.7,1946.5L1015.7,1946.6L1016.7,1946.8L1017.7,1946.9L1018.7,1947.0L1019.7,1947.2L1020.7,1947.3L1021.7,1947.5L1022.7,1947.6L1023.7,1947.7L1024.7,1947.9L1025.7,1948.0L1026.7,1948.1L1027.7,1948.2L1028.7,1948.4L1029.7,1948.5L1030.7,1948.6L1031.7,1948.7L1032.7,1948.9L1033.7,1949.0L1034.7,1949.1L1035.7,1949.2L1036.7,1949.3L1037.7,1949.4L1038.7,1949.5L1039.7,1949.7L1040.7,1949.8L1041.7,1949.9L1042.7,1950.0L1043.7,1950.1L1044.7,1950.2L1045.7,1950.3L1046.7,1950.4L1047.7,1950.5L1048.7,1950.6L1049.7,1950.7L1050.7,1950.8L1051.7,1950.9L1052.7,1951.0L1053.7,1951.1L1054.7,1951.2L1055.7,1951.3L1056.7,1951.4L1057.7,1951.5L1058.7,1951.6L1059.7,1951.7L1060.7,1951.8L1061.7,1951.9L1062.7,1952.0L1063.7,1952.1L1064.7,1952.2L1065.7,1952.3L1066.7,1952.4L1067.7,1952.5L1068.7,1952.6L1069.7,1952.7L1070.7,1952.8L1071.7,1952.9L1072.7,1953.0L1073.7,1953.1L1074.7,1953.2L1075.7,1953.3L1076.7,1953.3L1077.7,1953.4L1078.7,1953.5L1079.7,1953.6L1080.7,1953.7L1081.7,1953.8L1082.7,1953.9L1083.7,1954.0L1084.7,1954.0L1085.7,1954.1L1086.7,1954.2L1087.7,1954.3L1088.7,1954.4L1089.7,1954.5L1090.7,1954.5L1091.7,1954.6L1092.7,1954.7L1093.7,1954.8L1094.7,1954.9L1095.7,1954.9L1096.7,1955.0L1097.7,1955.1L1098.7,1955.2L1099.7,1955.2L1100.7,1955.3L1101.7,1955.4L1102.7,1955.5L1103.7,1955.5L1104.7,1955.6L1105.7,1955.7L1106.7,1955.7L1107.7,1955.8L1108.7,1955.9L1109.7,1955.9L1110.7,1956.0L1111.7,1956.1L1112.7,1956.1L1113.7,1956.2L1114.7,1956.3L1115.7,1956.3L1116.7,1956.4L1117.7,1956.4L1118.7,1956.5L1119.7,1956.5L1120.7,1956.6L1121.7,1956.6L1122.7,1956.7L1123.7,1956.8L1124.7,1956.8L1125.7,1956.9L1126.7,1956.9L1127.7,1957.0L1128.7,1957.0L1129.7,1957.1L1130.7,1957.1L1131.7,1957.2L1132.7,1957.2L1133.7,1957.3L1134.7,1957.3L1135.7,1957.4L1136.7,1957.4L1137.7,1957.5L1138.7,1957.5L1139.7,1957.6L1140.7,1957.6L1141.7,1957.7L1142.7,1957.7L1143.7,1957.8L1144.7,1957.8L1146.6,1957.9" stroke="#f00" stroke-width="5.4" fill="none" stroke-linejoin="round"/>
<path d="M216.7,1960.0L217.7,1960.0L218.7,1960.0L219.7,1960.0L220.7,1960.0L221.7,1960.0L222.7,1960.0L223.7,1960.0L224.7,1960.0L225.7,1960.0L226.7,1960.0L227.7,1960.0L228.7,1960.0L229.7,1960.0L230.7,1960.0L231.7,1960.0L232.7,1960.0L233.7,1960.0L234.7,1960.0L235.7,1960.0L236.7,1960.0L237.7,1960.0L238.7,1960.0L239.7,1960.0L240.7,1960.0L241.7,1960.0L242.7,1960.0L243.7,1960.0L244.7,1960.0L245.7,1960.0L246.7,1960.0L247.7,1960.0L248.7,1960.0L249.7,1960.0L250.7,1960.0L251.7,1960.0L252.7,1960.0L253.7,1960.0L254.7,1960.0L255.7,1960.0L256.7,1960.0L257.7,1959.9L258.7,1959.9L259.7,1959.9L260.7,1959.9L261.7,1959.9L262.7,1959.9L263.7,1959.9L264.7,1959.9L265.7,1959.9L266.7,1959.9L267.7,1959.9L268.7,1959.9L269.7,1959.9L270.7,1959.9L271.7,1959.9L272.7,1959.9L273.7,1959.9L274.7,1959.9L275.7,1959.9L276.7,1959.9L277.7,1959.9L278.7,1959.9L279.7,1959.9L280.7,1959.9L281.7,1959.9L282.7,1959.9L283.7,1959.9L284.7,1959.9L285.7,1959.9L286.7,1959.9L287.7,1959.9L288.7,1959.8L289.7,1959.8L290.7,1959.8L291.7,1959.8L292.7,1959.8L293.7,1959.8L294.7,1959.8L295.7,1959.8L296.7,1959.8L297.7,1959.8L298.7,1959.8L299.7,1959.8L300.7,1959.8L301.7,1959.8L302.7,1959.8L303.7,1959.8L304.7,1959.8L305.7,1959.8L306.7,1959.8L307.7,1959.8L308.7,1959.8L309.7,1959.8L310.7,1959.8L311.7,1959.7L312.7,1959.7L313.7,1959.7L314.7,1959.7L315.7,1959.7L316.7,1959.7L317.7,1959.7L318.7,1959.7L319.7,1959.7L320.7,1959.7L321.7,1959.7L322.7,1959.7L323.7,1959.7L324.7,1959.7L325.7,1959.7L326.7,1959.7L327.7,1959.7L328.7,1959.7L329.7,1959.7L330.7,1959.7L331.7,1959.7L332.7,1959.6L333.7,1959.6L334.7,1959.6L335.7,1959.6L336.7,1959.6L337.7,1959.6L338.7,1959.6L339.7,1959.6L340.7,1959.6L341.7,1959.6L342.7,1959.6L343.7,1959.6L344.7,1959.6L345.7,1959.6L346.7,1959.6L347.7,1959.5L348.7,1959.5L349.7,1959.5L350.7,1959.5L351.7,1959.5L352.7,1959.5L353.7,1959.5L354.7,1959.5L355.7,1959.5L356.7,1959.5L357.7,1959.5L358.7,1959.4L359.7,1959.4L360.7,1959.4L361.7,1959.4L362.7,1959.4L363.7,1959.4L364.7,1959.4L365.7,1959.4L366.7,1959.4L367.7,1959.3L368.7,1959.3L369.7,1959.3L370.7,1959.3L371.7,1959.3L372.7,1959.3L373.7,1959.3L374.7,1959.2L375.7,1959.2L376.7,1959.2L377.7,1959.2L378.7,1959.2L379.7,1959.2L380.7,1959.1L381.7,1959.1L382.7,1959.1L383.7,1959.1L384.7,1959.1L385.7,1959.0L386.7,1959.0L387.7,1959.0L388.7,1959.0L389.7,1959.0L390.7,1958.9L391.7,1958.9L392.7,1958.9L393.7,1958.9L394.7,1958.9L395.7,1958.8L396.7,1958.8L397.7,1958.8L398.7,1958.8L399.7,1958.7L400.7,1958.7L401.7,1958.7L402.7,1958.7L403.7,1958.6L404.7,1958.6L405.7,1958.6L406.7,1958.6L407.7,1958.5L408.7,1958.5L409.7,1958.5L410.7,1958.5L411.7,1958.4L412.7,1958.4L413.7,1958.4L414.7,1958.3L415.7,1958.3L416.7,1958.3L417.7,1958.2L418.7,1958.2L419.7,1958.2L420.7,1958.1L421.7,1958.1L422.7,1958.1L423.7,1958.0L424.7,1958.0L425.7,1958.0L426.7,1957.9L427.7,1957.9L428.7,1957.9L429.7,1957.8L430.7,1957.8L431.7,1957.7L432.7,1957.7L433.7,1957.7L434.7,1957.6L435.7,1957.6L436.7,1957.6L437.7,1957.5L438.7,1957.5L439.7,1957.4L440.7,1957.4L441.7,1957.3L442.7,1957.3L443.7,1957.3L444.7,1957.2L445.7,1957.2L446.7,1957.1L447.7,1957.1L448.7,1957.0L449.7,1957.0L450.7,1957.0L451.7,1956.9L452.7,1956.9L453.7,1956.8L454.7,1956.8L455.7,1956.7L456.7,1956.7L457.7,1956.6L458.7,1956.6L459.7,1956.5L460.7,1956.5L461.7,1956.5L462.7,1956.4L463.7,1956.4L464.7,1956.3L465.7,1956.3L466.7,1956.2L467.7,1956.2L468.7,1956.1L469.7,1956.1L470.7,1956.0L471.7,1956.0L472.7,1955.9L473.7,1955.9L474.7,1955.8L475.7,1955.8L476.7,1955.7L477.7,1955.7L478.7,1955.6L479.7,1955.6L480.7,1955.5L481.7,1955.5L482.7,1955.4L483.7,1955.4L484.7,1955.3L485.7,1955.3L486.7,1955.2L487.7,1955.2L488.7,1955.1L489.7,1955.1L490.7,1955.0L491.7,1955.0L492.7,1954.9L493.7,1954.9L494.7,1954.8L495.7,1954.8L496.7,1954.7L497.7,1954.7L498.7,1954.6L499.7,1954.6L500.7,1954.5L501.7,1954.5L502.7,1954.4L503.7,1954.3L504.7,1954.3L505.7,1954.2L506.7,1954.2L507.7,1954.1L508.7,1954.1L509.7,1954.0L510.7,1954.0L511.7,1953.9L512.7,1953.9L513.7,1953.8L514.7,1953.8L515.7,1953.7L516.7,1953.6L517.7,1953.6L518.7,1953.5L519.7,1953.5L520.7,1953.4L521.7,1953.4L522.7,1953.3L523.7,1953.3L524.7,1953.2L525.7,1953.1L526.7,1953.1L527.7,1953.0L528.7,1953.0L529.7,1952.9L530.7,1952.8L531.7,1952.8L532.7,1952.7L533.7,1952.7L534.7,1952.6L535.7,1952.5L536.7,1952.5L537.7,1952.4L538.7,1952.4L539.7,1952.3L540.7,1952.2L541.7,1952.2L542.7,1952.1L543.7,1952.1L544.7,1952.0L545.7,1951.9L546.7,1951.9L547.7,1951.8L548.7,1951.7L549.7,1951.7L550.7,1951.6L551.7,1951.6L552.7,1951.5L553.7,1951.4L554.7,1951.4L555.7,1951.3L556.7,1951.2L557.7,1951.2L558.7,1951.1L559.7,1951.0L560.7,1951.0L561.7,1950.9L562.7,1950.8L563.7,1950.8L564.7,1950.7L565.7,1950.6L566.7,1950.6L567.7,1950.5L568.7,1950.4L569.7,1950.4L570.7,1950.3L571.7,1950.2L572.7,1950.2L573.7,1950.1L574.7,1950.0L575.7,1950.0L576.7,1949.9L577.7,1949.8L578.7,1949.8L579.7,1949.7L580.7,1949.6L581.7,1949.6L582.7,1949.5L583.7,1949.5L584.7,1949.4L585.7,1949.3L586.7,1949.3L587.7,1949.2L588.7,1949.1L589.7,1949.1L590.7,1949.0L591.7,1948.9L592.7,1948.9L593.7,1948.8L594.7,1948.7L595.7,1948.7L596.7,1948.6L597.7,1948.5L598.7,1948.5L599.7,1948.4L600.7,1948.3L601.7,1948.3L602.7,1948.2L603.7,1948.2L604.7,1948.1L605.7,1948.0L606.7,1948.0L607.7,1947.9L608.7,1947.9L609.7,1947.8L610.7,1947.7L611.7,1947.7L612.7,1947.6L613.7,1947.6L614.7,1947.5L615.7,1947.5L616.7,1947.4L617.7,1947.4L618.7,1947.4L619.7,1947.3L620.7,1947.3L621.7,1947.2L622.7,1947.2L623.7,1947.2L624.7,1947.2L625.7,1947.1L626.7,1947.1L627.7,1947.1L628.7,1947.0L629.7,1947.0L630.7,1947.0L631.7,1947.0L632.7,1946.9L633.7,1946.9L634.7,1946.9L635.7,1946.9L636.7,1946.8L637.7,1946.8L638.7,1946.8L639.7,1946.8L640.7,1946.8L641.7,1946.7L642.7,1946.7L643.7,1946.7L644.7,1946.7L645.7,1946.7L646.7,1946.7L647.7,1946.7L648.7,1946.7L649.7,1946.7L650.7,1946.7L651.7,1946.7L652.7,1946.7L653.7,1946.7L654.7,1946.7L655.7,1946.8L656.7,1946.8L657.7,1946.8L658.7,1946.8L659.7,1946.8L660.7,1946.9L661.7,1946.9L662.7,1946.9L663.7,1946.9L664.7,1947.0L665.7,1947.0L666.7,1947.0L667.7,1947.1L668.7,1947.1L669.7,1947.2L670.7,1947.2L671.7,1947.3L672.7,1947.4L673.7,1947.4L674.7,1947.5L675.7,1947.6L676.7,1947.7L677.7,1947.7L678.7,1947.8L679.7,1947.8L680.7,1947.9L681.7,1947.9L682.7,1948.0L683.7,1948.1L684.7,1948.1L685.7,1948.2L686.7,1948.2L687.7,1948.3L688.7,1948.3L689.7,1948.4L690.7,1948.4L691.7,1948.5L692.7,1948.5L693.7,1948.6L694.7,1948.6L695.7,1948.7L696.7,1948.7L697.7,1948.8L698.7,1948.8L699.7,1948.9L700.7,1948.9L701.7,1949.0L702.7,1949.0L703.7,1949.1L704.7,1949.1L705.7,1949.2L706.7,1949.2L707.7,1949.3L708.7,1949.3L709.7,1949.4L710.7,1949.4L711.7,1949.5L712.7,1949.5L713.7,1949.6L714.7,1949.6L715.7,1949.7L716.7,1949.7L717.7,1949.8L718.7,1949.8L719.7,1949.9L720.7,1949.9L721.7,1950.0L722.7,1950.0L723.7,1950.1L724.7,1950.1L725.7,1950.2L726.7,1950.2L727.7,1950.3L728.7,1950.3L729.7,1950.4L730.7,1950.4L731.7,1950.5L732.7,1950.5L733.7,1950.6L734.7,1950.6L735.7,1950.6L736.7,1950.7L737.7,1950.7L738.7,1950.8L739.7,1950.8L740.7,1950.9L741.7,1950.9L742.7,1951.0L743.7,1951.0L744.7,1951.1L745.7,1951.1L746.7,1951.2L747.7,1951.2L748.7,1951.3L749.7,1951.3L750.7,1951.4L751.7,1951.4L752.7,1951.5L753.7,1951.5L754.7,1951.6L755.7,1951.6L756.7,1951.7L757.7,1951.7L758.7,1951.8L759.7,1951.8L760.7,1951.9L761.7,1951.9L762.7,1952.0L763.7,1952.1L764.7,1952.1L765.7,1952.2L766.7,1952.2L767.7,1952.3L768.7,1952.3L769.7,1952.4L770.7,1952.4L771.7,1952.5L772.7,1952.5L773.7,1952.6L774.7,1952.6L775.7,1952.7L776.7,1952.7L777.7,1952.8L778.7,1952.8L779.7,1952.9L780.7,1952.9L781.7,1953.0L782.7,1953.0L783.7,1953.1L784.7,1953.1L785.7,1953.2L786.7,1953.2L787.7,1953.3L788.7,1953.3L789.7,1953.4L790.7,1953.4L791.7,1953.5L792.7,1953.5L793.7,1953.6L794.7,1953.6L795.7,1953.7L796.7,1953.8L797.7,1953.8L798.7,1953.9L799.7,1953.9L800.7,1954.0L801.7,1954.0L802.7,1954.0L803.7,1954.1L804.7,1954.1L805.7,1954.2L806.7,1954.2L807.7,1954.3L808.7,1954.3L809.7,1954.4L810.7,1954.4L811.7,1954.5L812.7,1954.5L813.7,1954.6L814.7,1954.6L815.7,1954.7L816.7,1954.7L817.7,1954.8L818.7,1954.8L819.7,1954.9L820.7,1954.9L821.7,1954.9L822.7,1955.0L823.7,1955.0L824.7,1955.1L825.7,1955.1L826.7,1955.2L827.7,1955.2L828.7,1955.3L829.7,1955.3L830.7,1955.4L831.7,1955.4L832.7,1955.5L833.7,1955.5L834.7,1955.6L835.7,1955.6L836.7,1955.6L837.7,1955.7L838.7,1955.7L839.7,1955.8L840.7,1955.8L841.7,1955.9L842.7,1955.9L843.7,1956.0L844.7,1956.0L845.7,1956.0L846.7,1956.1L847.7,1956.1L848.7,1956.2L849.7,1956.2L850.7,1956.3L851.7,1956.3L852.7,1956.3L853.7,1956.4L854.7,1956.4L855.7,1956.5L856.7,1956.5L857.7,1956.5L858.7,1956.6L859.7,1956.6L860.7,1956.7L861.7,1956.7L862.7,1956.7L863.7,1956.8L864.7,1956.8L865.7,1956.9L866.7,1956.9L867.7,1956.9L868.7,1957.0L869.7,1957.0L870.7,1957.1L871.7,1957.1L872.7,1957.1L873.7,1957.2L874.7,1957.2L875.7,1957.2L876.7,1957.3L877.7,1957.3L878.7,1957.3L879.7,1957.4L880.7,1957.4L881.7,1957.5L882.7,1957.5L883.7,1957.5L884.7,1957.6L885.7,1957.6L886.7,1957.6L887.7,1957.7L888.7,1957.7L889.7,1957.7L890.7,1957.7L891.7,1957.8L892.7,1957.8L893.7,1957.8L894.7,1957.9L895.7,1957.9L896.7,1957.9L897.7,1958.0L898.7,1958.0L899.7,1958.0L900.7,1958.0L901.7,1958.1L902.7,1958.1L903.7,1958.1L904.7,1958.2L905.7,1958.2L906.7,1958.2L907.7,1958.2L908.7,1958.3L909.7,1958.3L910.7,1958.3L911.7,1958.3L912.7,1958.4L913.7,1958.4L914.7,1958.4L915.7,1958.4L916.7,1958.5L917.7,1958.5L918.7,1958.5L919.7,1958.5L920.7,1958.5L921.7,1958.6L922.7,1958.6L923.7,1958.6L924.7,1958.6L925.7,1958.7L926.7,1958.7L927.7,1958.7L928.7,1958.7L929.7,1958.7L930.7,1958.8L931.7,1958.8L932.7,1958.8L933.7,1958.8L934.7,1958.8L935.7,1958.8L936.7,1958.9L937.7,1958.9L938.7,1958.9L939.7,1958.9L940.7,1958.9L941.7,1958.9L942.7,1959.0L943.7,1959.0L944.7,1959.0L945.7,1959.0L946.7,1959.0L947.7,1959.0L948.7,1959.1L949.7,1959.1L950.7,1959.1L951.7,1959.1L952.7,1959.1L953.7,1959.1L954.7,1959.1L955.7,1959.2L956.7,1959.2L957.7,1959.2L958.7,1959.2L959.7,1959.2L960.7,1959.2L961.7,1959.2L962.7,1959.2L963.7,1959.3L964.7,1959.3L965.7,1959.3L966.7,1959.3L967.7,1959.3L968.7,1959.3L969.7,1959.3L970.7,1959.3L971.7,1959.3L972.7,1959.3L973.7,1959.4L974.7,1959.4L975.7,1959.4L976.7,1959.4L977.7,1959.4L978.7,1959.4L979.7,1959.4L980.7,1959.4L981.7,1959.4L982.7,1959.4L983.7,1959.5L984.7,1959.5L985.7,1959.5L986.7,1959.5L987.7,1959.5L988.7,1959.5L989.7,1959.5L990.7,1959.5L991.7,1959.5L992.7,1959.5L993.7,1959.5L994.7,1959.5L995.7,1959.6L996.7,1959.6L997.7,1959.6L998.7,1959.6L999.7,1959.6L1000.7,1959.6L1001.7,1959.6L1002.7,1959.6L1003.7,1959.6L1004.7,1959.6L1005.7,1959.6L1006.7,1959.6L1007.7,1959.6L1008.7,1959.7L1009.7,1959.7L1010.7,1959.7L1011.7,1959.7L1012.7,1959.7L1013.7,1959.7L1014.7,1959.7L1015.7,1959.7L1016.7,1959.7L1017.7,1959.7L1018.7,1959.7L1019.7,1959.7L1020.7,1959.7L1021.7,1959.7L1022.7,1959.8L1023.7,1959.8L1024.7,1959.8L1025.7,1959.8L1026.7,1959.8L1027.7,1959.8L1028.7,1959.8L1029.7,1959.8L1030.7,1959.8L1031.7,1959.8L1032.7,1959.8L1033.7,1959.8L1034.7,1959.8L1035.7,1959.8L1036.7,1959.9L1037.7,1959.9L1038.7,1959.9L1039.7,1959.9L1040.7,1959.9L1041.7,1959.9L1042.7,1959.9L1043.7,1959.9L1044.7,1959.9L1045.7,1959.9L1046.7,1959.9L1047.7,1959.9L1048.7,1959.9L1049.7,1959.9L1050.7,1959.9L1051.7,1959.9L1052.7,1959.9L1053.7,1960.0L1054.7,1960.0L1055.7,1960.0L1056.7,1960.0L1057.7,1960.0L1058.7,1960.0L1059.7,1960.0L1060.7,1960.0L1061.7,1960.0L1062.7,1960.0L1063.7,1960.0L1064.7,1960.0L1065.7,1960.0L1066.7,1960.0L1067.7,1960.0L1068.7,1960.0L1069.7,1960.0L1070.7,1960.0L1071.7,1960.1L1072.7,1960.1L1073.7,1960.1L1074.7,1960.1L1075.7,1960.1L1076.7,1960.1L1077.7,1960.1L1078.7,1960.1L1079.7,1960.1L1080.7,1960.1L1081.7,1960.1L1082.7,1960.1L1083.7,1960.1L1084.7,1960.1L1085.7,1960.1L1086.7,1960.1L1087.7,1960.1L1088.7,1960.1L1089.7,1960.1L1090.7,1960.1L1091.7,1960.1L1092.7,1960.1L1093.7,1960.1L1094.7,1960.1L1095.7,1960.2L1096.7,1960.2L1097.7,1960.2L1098.7,1960.2L1099.7,1960.2L1100.7,1960.2L1101.7,1960.2L1102.7,1960.2L1103.7,1960.2L1104.7,1960.2L1105.7,1960.2L1106.7,1960.2L1107.7,1960.2L1108.7,1960.2L1109.7,1960.2L1110.7,1960.2L1111.7,1960.2L1112.7,1960.2L1113.7,1960.2L1114.7,1960.2L1115.7,1960.2L1116.7,1960.2L1117.7,1960.2L1118.7,1960.2L1119.7,1960.2L1120.7,1960.2L1121.7,1960.2L1122.7,1960.2L1123.7,1960.2L1124.7,1960.2L1125.7,1960.2L1126.7,1960.2L1127.7,1960.2L1128.7,1960.2L1129.7,1960.2L1130.7,1960.2L1131.7,1960.2L1132.7,1960.2L1133.7,1960.2L1134.7,1960.2L1135.7,1960.2L1136.7,1960.2L1137.7,1960.2L1138.7,1960.2L1139.7,1960.2L1140.7,1960.2L1141.7,1960.2L1142.7,1960.2L1143.7,1960.2L1144.7,1960.2L1146.6,1960.2" stroke="#00f" stroke-width="5.4" fill="none" stroke-linejoin="round"/></g>
<rect x="214.70" y="1213.00" width="933.90" height="751.80" fill="none" stroke="#000" stroke-width="5.0"/>
<path d="M214.70,1964.80v14.80M331.44,1964.80v7.30M448.17,1964.80v14.80M564.91,1964.80v7.30M681.65,1964.80v14.80M798.39,1964.80v7.30M915.12,1964.80v14.80M1031.86,1964.80v7.30M1148.60,1964.80v14.80M214.70,1960.20h-14.80M214.70,1835.67h-7.30M214.70,1711.13h-14.80M214.70,1586.60h-7.30M214.70,1462.07h-14.80M214.70,1337.53h-7.30M214.70,1213.00h-14.80" stroke="#000" stroke-width="5.0" fill="none"/>
<g id="curves-d"><path d="M1389.5,1955.4L1390.5,1955.3L1391.5,1954.6L1392.5,1953.7L1393.5,1953.3L1394.5,1953.2L1395.5,1953.7L1396.5,1953.8L1397.5,1953.7L1398.5,1953.2L1399.5,1953.8L1400.5,1954.2L1401.5,1955.0L1402.5,1955.6L1403.5,1955.1L1404.5,1954.5L1405.5,1953.2L1406.5,1953.6L1407.5,1953.3L1408.5,1953.1L1409.5,1953.6L1410.5,1953.8L1411.5,1954.4L1412.5,1954.4L1413.5,1954.3L1414.5,1953.9L1415.5,1953.8L1416.5,1953.9L1417.5,1954.1L1418.5,1954.2L1419.5,1955.0L1420.5,1954.8L1421.5,1954.7L1422.5,1954.1L1423.5,1952.3L1424.5,1952.5L1425.5,1952.3L1426.5,1953.1L1427.5,1954.0L1428.5,1953.7L1429.5,1954.4L1430.5,1953.7L1431.5,1953.1L1432.5,1953.5L1433.5,1953.0L1434.5,1952.7L1435.5,1953.4L1436.5,1952.8L1437.5,1952.9L1438.5,1953.6L1439.5,1953.8L1440.5,1955.0L1441.5,1955.5L1442.5,1955.5L1443.5,1954.8L1444.5,1954.6L1445.5,1953.5L1446.5,1952.8L1447.5,1952.5L1448.5,1952.5L1449.5,1953.5L1450.5,1953.5L1451.5,1954.5L1452.5,1953.9L1453.5,1953.5L1454.5,1953.5L1455.5,1952.6L1456.5,1952.8L1457.5,1953.2L1458.5,1952.8L1459.5,1953.1L1460.5,1952.9L1461.5,1952.7L1462.5,1952.9L1463.5,1952.8L1464.5,1952.8L1465.5,1952.3L1466.5,1951.8L1467.5,1951.8L1468.5,1951.2L1469.5,1951.1L1470.5,1951.3L1471.5,1950.7L1472.5,1950.9L1473.5,1950.9L1474.5,1950.6L1475.5,1950.4L1476.5,1949.8L1477.5,1949.3L1478.5,1949.0L1479.5,1948.9L1480.5,1949.1L1481.5,1949.1L1482.5,1948.9L1483.5,1948.7L1484.5,1948.7L1485.5,1948.4L1486.5,1948.2L1487.5,1948.2L1488.5,1948.0L1489.5,1947.7L1490.5,1947.5L1491.5,1947.2L1492.5,1946.9L1493.5,1946.8L1494.5,1946.5L1495.5,1946.2L1496.5,1945.9L1497.5,1945.6L1498.5,1945.4L1499.5,1945.1L1500.5,1944.8L1501.5,1944.5L1502.5,1944.2L1503.5,1944.0L1504.5,1943.6L1505.5,1943.3L1506.5,1943.0L1507.5,1942.7L1508.5,1942.4L1509.5,1942.0L1510.5,1941.7L1511.5,1941.3L1512.5,1941.0L1513.5,1940.6L1514.5,1940.2L1515.5,1939.8L1516.5,1939.4L1517.5,1939.0L1518.5,1938.6L1519.5,1938.2L1520.5,1937.8L1521.5,1937.3L1522.5,1936.9L1523.5,1936.4L1524.5,1936.0L1525.5,1935.5L1526.5,1935.0L1527.5,1934.5L1528.5,1934.0L1529.5,1933.5L1530.5,1933.0L1531.5,1932.5L1532.5,1931.9L1533.5,1931.4L1534.5,1930.8L1535.5,1930.2L1536.5,1929.7L1537.5,1929.1L1538.5,1928.5L1539.5,1927.8L1540.5,1927.2L1541.5,1926.6L1542.5,1925.9L1543.5,1925.3L1544.5,1924.6L1545.5,1923.9L1546.5,1923.2L1547.5,1922.5L1548.5,1921.8L1549.5,1921.0L1550.5,1920.3L1551.5,1919.5L1552.5,1918.8L1553.5,1918.0L1554.5,1917.2L1555.5,1916.3L1556.5,1915.5L1557.5,1914.6L1558.5,1913.8L1559.5,1912.9L1560.5,1912.0L1561.5,1911.1L1562.5,1910.2L1563.5,1909.2L1564.5,1908.2L1565.5,1907.3L1566.5,1906.3L1567.5,1905.2L1568.5,1904.2L1569.5,1903.2L1570.5,1902.1L1571.5,1901.0L1572.5,1899.9L1573.5,1898.8L1574.5,1897.6L1575.5,1896.5L1576.5,1895.3L1577.5,1894.1L1578.5,1892.8L1579.5,1891.6L1580.5,1890.3L1581.5,1889.1L1582.5,1887.7L1583.5,1886.4L1584.5,1885.1L1585.5,1883.7L1586.5,1882.3L1587.5,1880.9L1588.5,1879.4L1589.5,1878.0L1590.5,1876.5L1591.5,1875.0L1592.5,1873.5L1593.5,1871.9L1594.5,1870.3L1595.5,1868.7L1596.5,1867.1L1597.5,1865.4L1598.5,1863.8L1599.5,1862.1L1600.5,1860.3L1601.5,1858.6L1602.5,1856.8L1603.5,1855.0L1604.5,1853.2L1605.5,1851.3L1606.5,1849.5L1607.5,1847.5L1608.5,1845.6L1609.5,1843.7L1610.5,1841.7L1611.5,1839.7L1612.5,1837.7L1613.5,1835.6L1614.5,1833.5L1615.5,1831.4L1616.5,1829.3L1617.5,1827.2L1618.5,1825.0L1619.5,1822.8L1620.5,1820.6L1621.5,1818.3L1622.5,1816.0L1623.5,1813.7L1624.5,1811.4L1625.5,1809.1L1626.5,1806.7L1627.5,1804.3L1628.5,1801.9L1629.5,1799.4L1630.5,1796.9L1631.5,1794.4L1632.5,1791.9L1633.5,1789.3L1634.5,1786.8L1635.5,1784.2L1636.5,1781.5L1637.5,1778.9L1638.5,1776.2L1639.5,1773.5L1640.5,1770.8L1641.5,1768.0L1642.5,1765.2L1643.5,1762.4L1644.5,1759.6L1645.5,1756.7L1646.5,1753.8L1647.5,1750.9L1648.5,1748.0L1649.5,1745.0L1650.5,1742.0L1651.5,1739.0L1652.5,1736.0L1653.5,1732.9L1654.5,1729.9L1655.5,1726.7L1656.5,1723.6L1657.5,1720.4L1658.5,1717.3L1659.5,1714.1L1660.5,1710.8L1661.5,1707.6L1662.5,1704.3L1663.5,1701.0L1664.5,1697.7L1665.5,1694.4L1666.5,1691.1L1667.5,1687.7L1668.5,1684.4L1669.5,1681.0L1670.5,1677.6L1671.5,1674.2L1672.5,1670.8L1673.5,1667.3L1674.5,1663.9L1675.5,1660.4L1676.5,1657.0L1677.5,1653.5L1678.5,1650.0L1679.5,1646.5L1680.5,1643.0L1681.5,1639.5L1682.5,1636.0L1683.5,1632.5L1684.5,1628.9L1685.5,1625.4L1686.5,1621.9L1687.5,1618.4L1688.5,1614.8L1689.5,1611.3L1690.5,1607.8L1691.5,1604.2L1692.5,1600.7L1693.5,1597.1L1694.5,1593.6L1695.5,1590.1L1696.5,1586.6L1697.5,1583.0L1698.5,1579.5L1699.5,1576.0L1700.5,1572.5L1701.5,1569.0L1702.5,1565.5L1703.5,1562.1L1704.5,1558.6L1705.5,1555.1L1706.5,1551.7L1707.5,1548.2L1708.5,1544.8L1709.5,1541.4L1710.5,1538.0L1711.5,1534.6L1712.5,1531.2L1713.5,1527.9L1714.5,1524.5L1715.5,1521.2L1716.5,1517.9L1717.5,1514.6L1718.5,1511.3L1719.5,1508.0L1720.5,1504.8L1721.5,1501.5L1722.5,1498.3L1723.5,1495.1L1724.5,1492.0L1725.5,1488.8L1726.5,1485.7L1727.5,1482.5L1728.5,1479.4L1729.5,1476.3L1730.5,1473.3L1731.5,1470.3L1732.5,1467.2L1733.5,1464.2L1734.5,1461.3L1735.5,1458.3L1736.5,1455.4L1737.5,1452.5L1738.5,1449.6L1739.5,1446.7L1740.5,1443.9L1741.5,1441.1L1742.5,1438.3L1743.5,1435.6L1744.5,1432.8L1745.5,1430.1L1746.5,1427.5L1747.5,1424.8L1748.5,1422.2L1749.5,1419.6L1750.5,1417.0L1751.5,1414.5L1752.5,1412.0L1753.5,1409.5L1754.5,1407.1L1755.5,1404.7L1756.5,1402.3L1757.5,1399.9L1758.5,1397.6L1759.5,1395.3L1760.5,1393.1L1761.5,1390.8L1762.5,1388.6L1763.5,1386.5L1764.5,1384.4L1765.5,1382.3L1766.5,1380.2L1767.5,1378.2L1768.5,1376.2L1769.5,1374.2L1770.5,1372.3L1771.5,1370.4L1772.5,1368.6L1773.5,1366.8L1774.5,1365.0L1775.5,1363.3L1776.5,1361.6L1777.5,1359.9L1778.5,1358.3L1779.5,1356.7L1780.5,1355.1L1781.5,1353.6L1782.5,1352.1L1783.5,1350.7L1784.5,1349.3L1785.5,1347.9L1786.5,1346.6L1787.5,1345.3L1788.5,1344.0L1789.5,1342.8L1790.5,1341.6L1791.5,1340.5L1792.5,1339.4L1793.5,1338.3L1794.5,1337.3L1795.5,1336.3L1796.5,1335.4L1797.5,1334.5L1798.5,1333.6L1799.5,1332.8L1800.5,1332.0L1801.5,1331.3L1802.5,1330.6L1803.5,1329.9L1804.5,1329.3L1805.5,1328.7L1806.5,1328.1L1807.5,1327.6L1808.5,1327.1L1809.5,1326.7L1810.5,1326.3L1811.5,1325.9L1812.5,1325.6L1813.5,1325.3L1814.5,1325.0L1815.5,1324.8L1816.5,1324.6L1817.5,1324.5L1818.5,1324.4L1819.5,1324.3L1820.5,1324.3L1821.5,1324.3L1822.5,1324.3L1823.5,1324.4L1824.5,1324.5L1825.5,1324.7L1826.5,1324.8L1827.5,1325.1L1828.5,1325.3L1829.5,1325.6L1830.5,1325.9L1831.5,1326.3L1832.5,1326.6L1833.5,1327.0L1834.5,1327.5L1835.5,1327.9L1836.5,1328.4L1837.5,1328.9L1838.5,1329.4L1839.5,1330.0L1840.5,1330.6L1841.5,1331.3L1842.5,1331.9L1843.5,1332.6L1844.5,1333.3L1845.5,1334.0L1846.5,1334.8L1847.5,1335.6L1848.5,1336.4L1849.5,1337.4L1850.5,1338.3L1851.5,1339.3L1852.5,1340.2L1853.5,1341.2L1854.5,1342.2L1855.5,1343.1L1856.5,1344.1L1857.5,1345.1L1858.5,1346.0L1859.5,1347.0L1860.5,1348.1L1861.5,1349.1L1862.5,1350.1L1863.5,1351.1L1864.5,1352.1L1865.5,1353.1L1866.5,1354.1L1867.5,1355.2L1868.5,1356.2L1869.5,1357.2L1870.5,1358.2L1871.5,1359.2L1872.5,1360.1L1873.5,1361.0L1874.5,1361.7L1875.5,1362.4L1876.5,1363.1L1877.5,1363.9L1878.5,1364.7L1879.5,1365.9L1880.5,1367.6L1881.5,1370.0L1882.5,1373.0L1883.5,1375.8L1884.5,1378.0L1885.5,1379.6L1886.5,1381.0L1887.5,1382.2L1888.5,1383.3L1889.5,1384.3L1890.5,1385.1L1891.5,1385.8L1892.5,1386.5L1893.5,1387.2L1894.5,1387.9L1895.5,1388.9L1896.5,1390.1L1897.5,1392.0L1898.5,1394.7L1899.5,1397.9L1900.5,1401.5L1901.5,1405.7L1902.5,1410.7L1903.5,1416.3L1904.5,1421.9L1905.5,1427.0L1906.5,1431.9L1907.5,1436.4L1908.5,1440.7L1909.5,1444.6L1910.5,1448.4L1911.5,1451.9L1912.5,1455.0L1913.5,1457.7L1914.5,1460.1L1915.5,1462.3L1916.5,1464.4L1917.5,1466.3L1918.5,1468.1L1919.5,1469.8L1920.5,1471.3L1921.5,1472.8L1922.5,1474.1L1923.5,1475.3L1924.5,1476.5L1925.5,1477.6L1926.5,1478.7L1927.5,1479.9L1928.5,1481.1L1929.5,1482.5L1930.5,1484.0L1931.5,1485.5L1932.5,1487.1L1933.5,1488.8L1934.5,1490.5L1935.5,1492.3L1936.5,1494.2L1937.5,1496.1L1938.5,1498.0L1939.5,1499.9L1940.5,1501.9L1941.5,1504.0L1942.5,1506.0L1943.5,1508.2L1944.5,1510.4L1945.5,1512.6L1946.5,1515.0L1947.5,1517.5L1948.5,1520.1L1949.5,1522.9L1950.5,1526.0L1951.5,1529.4L1952.5,1532.9L1953.5,1536.4L1954.5,1539.9L1955.5,1543.3L1956.5,1546.5L1957.5,1549.6L1958.5,1552.8L1959.5,1555.8L1960.5,1558.8L1961.5,1561.7L1962.5,1564.6L1963.5,1567.3L1964.5,1569.9L1965.5,1572.4L1966.5,1574.9L1967.5,1577.4L1968.5,1579.7L1969.5,1582.0L1970.5,1584.2L1971.5,1586.5L1972.5,1588.7L1973.5,1591.0L1974.5,1593.4L1975.5,1595.7L1976.5,1598.1L1977.5,1600.5L1978.5,1602.8L1979.5,1605.2L1980.5,1607.7L1981.5,1610.0L1982.5,1612.4L1983.5,1614.8L1984.5,1617.1L1985.5,1619.4L1986.5,1621.6L1987.5,1623.9L1988.5,1626.2L1989.5,1628.5L1990.5,1630.8L1991.5,1633.1L1992.5,1635.4L1993.5,1637.8L1994.5,1640.1L1995.5,1642.5L1996.5,1644.9L1997.5,1647.2L1998.5,1649.6L1999.5,1651.9L2000.5,1654.3L2001.5,1656.6L2002.5,1659.0L2003.5,1661.3L2004.5,1663.6L2005.5,1665.9L2006.5,1668.2L2007.5,1670.4L2008.5,1672.7L2009.5,1674.9L2010.5,1677.1L2011.5,1679.4L2012.5,1681.5L2013.5,1683.7L2014.5,1685.9L2015.5,1688.0L2016.5,1690.2L2017.5,1692.3L2018.5,1694.4L2019.5,1696.5L2020.5,1698.6L2021.5,1700.6L2022.5,1702.7L2023.5,1704.7L2024.5,1706.8L2025.5,1708.8L2026.5,1710.8L2027.5,1712.8L2028.5,1714.8L2029.5,1716.7L2030.5,1718.7L2031.5,1720.6L2032.5,1722.6L2033.5,1724.5L2034.5,1726.4L2035.5,1728.3L2036.5,1730.2L2037.5,1732.1L2038.5,1734.0L2039.5,1735.8L2040.5,1737.7L2041.5,1739.5L2042.5,1741.3L2043.5,1743.1L2044.5,1745.0L2045.5,1746.8L2046.5,1748.5L2047.5,1750.3L2048.5,1752.1L2049.5,1753.9L2050.5,1755.6L2051.5,1757.4L2052.5,1759.1L2053.5,1760.8L2054.5,1762.5L2055.5,1764.2L2056.5,1766.0L2057.5,1767.6L2058.5,1769.3L2059.5,1771.0L2060.5,1772.7L2061.5,1774.4L2062.5,1776.0L2063.5,1777.7L2064.5,1779.3L2065.5,1781.0L2066.5,1782.6L2067.5,1784.2L2068.5,1785.8L2069.5,1787.4L2070.5,1789.0L2071.5,1790.6L2072.5,1792.2L2073.5,1793.8L2074.5,1795.4L2075.5,1796.9L2076.5,1798.5L2077.5,1800.0L2078.5,1801.6L2079.5,1803.1L2080.5,1804.6L2081.5,1806.1L2082.5,1807.6L2083.5,1809.1L2084.5,1810.6L2085.5,1812.1L2086.5,1813.6L2087.5,1815.1L2088.5,1816.5L2089.5,1818.0L2090.5,1819.4L2091.5,1820.8L2092.5,1822.2L2093.5,1823.7L2094.5,1825.1L2095.5,1826.5L2096.5,1827.8L2097.5,1829.2L2098.5,1830.6L2099.5,1832.0L2100.5,1833.3L2101.5,1834.6L2102.5,1836.0L2103.5,1837.3L2104.5,1838.6L2105.5,1839.9L2106.5,1841.2L2107.5,1842.5L2108.5,1843.8L2109.5,1845.0L2110.5,1846.3L2111.5,1847.5L2112.5,1848.8L2113.5,1850.0L2114.5,1851.2L2115.5,1852.4L2116.5,1853.6L2117.5,1854.8L2118.5,1855.9L2119.5,1857.1L2120.5,1858.3L2121.5,1859.4L2122.5,1860.5L2123.5,1861.6L2124.5,1862.8L2125.5,1863.9L2126.5,1865.0L2127.5,1866.0L2128.5,1867.1L2129.5,1868.2L2130.5,1869.2L2131.5,1870.3L2132.5,1871.3L2133.5,1872.3L2134.5,1873.3L2135.5,1874.3L2136.5,1875.3L2137.5,1876.3L2138.5,1877.3L2139.5,1878.2L2140.5,1879.2L2141.5,1880.1L2142.5,1881.0L2143.5,1882.0L2144.5,1882.9L2145.5,1883.8L2146.5,1884.7L2147.5,1885.6L2148.5,1886.4L2149.5,1887.3L2150.5,1888.2L2151.5,1889.0L2152.5,1889.8L2153.5,1890.7L2154.5,1891.5L2155.5,1892.3L2156.5,1893.1L2157.5,1893.9L2158.5,1894.7L2159.5,1895.4L2160.5,1896.2L2161.5,1896.9L2162.5,1897.7L2163.5,1898.4L2164.5,1899.1L2165.5,1899.9L2166.5,1900.6L2167.5,1901.3L2168.5,1902.0L2169.5,1902.6L2170.5,1903.3L2171.5,1904.0L2172.5,1904.6L2173.5,1905.3L2174.5,1905.9L2175.5,1906.5L2176.5,1907.1L2177.5,1907.7L2178.5,1908.3L2179.5,1908.9L2180.5,1909.5L2181.5,1910.1L2182.5,1910.7L2183.5,1911.2L2184.5,1911.8L2185.5,1912.3L2186.5,1912.9L2187.5,1913.4L2188.5,1913.9L2189.5,1914.4L2190.5,1914.9L2191.5,1915.4L2192.5,1915.9L2193.5,1916.4L2194.5,1916.9L2195.5,1917.4L2196.5,1917.8L2197.5,1918.3L2198.5,1918.7L2199.5,1919.2L2200.5,1919.6L2201.5,1920.1L2202.5,1920.5L2203.5,1920.9L2204.5,1921.3L2205.5,1921.8L2206.5,1922.2L2207.5,1922.6L2208.5,1923.0L2209.5,1923.4L2210.5,1923.8L2211.5,1924.1L2212.5,1924.5L2213.5,1924.9L2214.5,1925.3L2215.5,1925.6L2216.5,1926.0L2217.5,1926.4L2218.5,1926.7L2219.5,1927.1L2220.5,1927.4L2221.5,1927.8L2222.5,1928.1L2223.5,1928.4L2224.5,1928.8L2225.5,1929.1L2226.5,1929.4L2227.5,1929.8L2228.5,1930.1L2229.5,1930.4L2230.5,1930.7L2231.5,1931.0L2232.5,1931.3L2233.5,1931.6L2234.5,1932.0L2235.5,1932.3L2236.5,1932.6L2237.5,1932.9L2238.5,1933.2L2239.5,1933.5L2240.5,1933.8L2241.5,1934.0L2242.5,1934.3L2243.5,1934.6L2244.5,1934.9L2245.5,1935.2L2246.5,1935.5L2247.5,1935.7L2248.5,1936.0L2249.5,1936.3L2250.5,1936.5L2251.5,1936.8L2252.5,1937.1L2253.5,1937.3L2254.5,1937.6L2255.5,1937.8L2256.5,1938.1L2257.5,1938.4L2258.5,1938.6L2259.5,1938.8L2260.5,1939.1L2261.5,1939.3L2262.5,1939.6L2263.5,1939.8L2264.5,1940.0L2265.5,1940.3L2266.5,1940.5L2267.5,1940.7L2268.5,1940.9L2269.5,1941.2L2270.5,1941.4L2271.5,1941.6L2272.5,1941.8L2273.5,1942.0L2274.5,1942.2L2275.5,1942.4L2276.5,1942.6L2277.5,1942.8L2278.5,1943.0L2279.5,1943.2L2280.5,1943.4L2281.5,1943.6L2282.5,1943.8L2283.5,1944.0L2284.5,1944.2L2285.5,1944.4L2286.5,1944.5L2287.5,1944.7L2288.5,1944.9L2289.5,1945.1L2290.5,1945.2L2291.5,1945.4L2292.5,1945.6L2293.5,1945.7L2294.5,1945.9L2295.5,1946.1L2296.5,1946.2L2297.5,1946.4L2298.5,1946.5L2299.5,1946.7L2300.5,1946.8L2301.5,1947.0L2302.5,1947.1L2303.5,1947.3L2304.5,1947.4L2305.5,1947.6L2306.5,1947.7L2307.5,1947.9L2308.5,1948.0L2309.5,1948.2L2310.5,1948.3L2311.5,1948.5L2312.5,1948.6L2313.5,1948.7L2314.5,1948.9L2315.5,1949.0L2316.5,1949.2L2317.5,1949.3L2319.3,1949.6" stroke="#000" stroke-width="5.4" fill="none" stroke-linejoin="round"/>
<path d="M1389.5,1960.4L1390.5,1960.4L1391.5,1960.5L1392.5,1960.5L1393.5,1960.5L1394.5,1960.5L1395.5,1960.5L1396.5,1960.5L1397.5,1960.5L1398.5,1960.5L1399.5,1960.5L1400.5,1960.5L1401.5,1960.5L1402.5,1960.5L1403.5,1960.5L1404.5,1960.5L1405.5,1960.5L1406.5,1960.5L1407.5,1960.5L1408.5,1960.5L1409.5,1960.5L1410.5,1960.5L1411.5,1960.5L1412.5,1960.5L1413.5,1960.5L1414.5,1960.5L1415.5,1960.5L1416.5,1960.5L1417.5,1960.5L1418.5,1960.5L1419.5,1960.5L1420.5,1960.5L1421.5,1960.5L1422.5,1960.5L1423.5,1960.5L1424.5,1960.4L1425.5,1960.4L1426.5,1960.4L1427.5,1960.4L1428.5,1960.4L1429.5,1960.4L1430.5,1960.4L1431.5,1960.4L1432.5,1960.4L1433.5,1960.4L1434.5,1960.4L1435.5,1960.4L1436.5,1960.4L1437.5,1960.4L1438.5,1960.4L1439.5,1960.4L1440.5,1960.4L1441.5,1960.4L1442.5,1960.5L1443.5,1960.5L1444.5,1960.5L1445.5,1960.5L1446.5,1960.5L1447.5,1960.5L1448.5,1960.5L1449.5,1960.5L1450.5,1960.5L1451.5,1960.5L1452.5,1960.5L1453.5,1960.5L1454.5,1960.5L1455.5,1960.5L1456.5,1960.5L1457.5,1960.5L1458.5,1960.5L1459.5,1960.5L1460.5,1960.5L1461.5,1960.5L1462.5,1960.5L1463.5,1960.5L1464.5,1960.5L1465.5,1960.5L1466.5,1960.5L1467.5,1960.5L1468.5,1960.5L1469.5,1960.5L1470.5,1960.5L1471.5,1960.5L1472.5,1960.5L1473.5,1960.5L1474.5,1960.5L1475.5,1960.5L1476.5,1960.5L1477.5,1960.5L1478.5,1960.5L1479.5,1960.5L1480.5,1960.4L1481.5,1960.4L1482.5,1960.4L1483.5,1960.4L1484.5,1960.4L1485.5,1960.4L1486.5,1960.4L1487.5,1960.4L1488.5,1960.4L1489.5,1960.4L1490.5,1960.3L1491.5,1960.3L1492.5,1960.3L1493.5,1960.3L1494.5,1960.3L1495.5,1960.3L1496.5,1960.2L1497.5,1960.2L1498.5,1960.2L1499.5,1960.2L1500.5,1960.2L1501.5,1960.1L1502.5,1960.1L1503.5,1960.1L1504.5,1960.1L1505.5,1960.0L1506.5,1960.0L1507.5,1960.0L1508.5,1960.0L1509.5,1959.9L1510.5,1959.9L1511.5,1959.9L1512.5,1959.8L1513.5,1959.8L1514.5,1959.8L1515.5,1959.7L1516.5,1959.7L1517.5,1959.7L1518.5,1959.6L1519.5,1959.6L1520.5,1959.6L1521.5,1959.5L1522.5,1959.5L1523.5,1959.4L1524.5,1959.4L1525.5,1959.4L1526.5,1959.3L1527.5,1959.3L1528.5,1959.2L1529.5,1959.2L1530.5,1959.1L1531.5,1959.1L1532.5,1959.1L1533.5,1959.0L1534.5,1959.0L1535.5,1958.9L1536.5,1958.9L1537.5,1958.8L1538.5,1958.8L1539.5,1958.7L1540.5,1958.6L1541.5,1958.6L1542.5,1958.5L1543.5,1958.5L1544.5,1958.4L1545.5,1958.4L1546.5,1958.3L1547.5,1958.2L1548.5,1958.2L1549.5,1958.1L1550.5,1958.0L1551.5,1958.0L1552.5,1957.9L1553.5,1957.8L1554.5,1957.8L1555.5,1957.7L1556.5,1957.6L1557.5,1957.6L1558.5,1957.5L1559.5,1957.4L1560.5,1957.3L1561.5,1957.3L1562.5,1957.2L1563.5,1957.1L1564.5,1957.0L1565.5,1956.9L1566.5,1956.9L1567.5,1956.8L1568.5,1956.7L1569.5,1956.6L1570.5,1956.5L1571.5,1956.4L1572.5,1956.3L1573.5,1956.2L1574.5,1956.1L1575.5,1956.0L1576.5,1955.9L1577.5,1955.8L1578.5,1955.7L1579.5,1955.6L1580.5,1955.5L1581.5,1955.4L1582.5,1955.3L1583.5,1955.1L1584.5,1955.0L1585.5,1954.9L1586.5,1954.8L1587.5,1954.7L1588.5,1954.5L1589.5,1954.4L1590.5,1954.3L1591.5,1954.1L1592.5,1954.0L1593.5,1953.9L1594.5,1953.7L1595.5,1953.6L1596.5,1953.5L1597.5,1953.3L1598.5,1953.2L1599.5,1953.0L1600.5,1952.9L1601.5,1952.7L1602.5,1952.5L1603.5,1952.4L1604.5,1952.2L1605.5,1952.1L1606.5,1951.9L1607.5,1951.7L1608.5,1951.6L1609.5,1951.4L1610.5,1951.2L1611.5,1951.0L1612.5,1950.9L1613.5,1950.7L1614.5,1950.5L1615.5,1950.3L1616.5,1950.1L1617.5,1949.9L1618.5,1949.7L1619.5,1949.5L1620.5,1949.4L1621.5,1949.2L1622.5,1949.0L1623.5,1948.8L1624.5,1948.6L1625.5,1948.3L1626.5,1948.1L1627.5,1947.9L1628.5,1947.7L1629.5,1947.5L1630.5,1947.3L1631.5,1947.1L1632.5,1946.9L1633.5,1946.6L1634.5,1946.4L1635.5,1946.2L1636.5,1946.0L1637.5,1945.7L1638.5,1945.5L1639.5,1945.3L1640.5,1945.0L1641.5,1944.8L1642.5,1944.6L1643.5,1944.3L1644.5,1944.1L1645.5,1943.8L1646.5,1943.6L1647.5,1943.3L1648.5,1943.1L1649.5,1942.8L1650.5,1942.6L1651.5,1942.3L1652.5,1942.1L1653.5,1941.8L1654.5,1941.6L1655.5,1941.3L1656.5,1941.1L1657.5,1940.8L1658.5,1940.5L1659.5,1940.3L1660.5,1940.0L1661.5,1939.7L1662.5,1939.5L1663.5,1939.2L1664.5,1938.9L1665.5,1938.6L1666.5,1938.4L1667.5,1938.1L1668.5,1937.8L1669.5,1937.5L1670.5,1937.3L1671.5,1937.0L1672.5,1936.7L1673.5,1936.4L1674.5,1936.2L1675.5,1935.9L1676.5,1935.6L1677.5,1935.3L1678.5,1935.0L1679.5,1934.7L1680.5,1934.5L1681.5,1934.2L1682.5,1933.9L1683.5,1933.6L1684.5,1933.3L1685.5,1933.1L1686.5,1932.8L1687.5,1932.5L1688.5,1932.2L1689.5,1931.9L1690.5,1931.6L1691.5,1931.4L1692.5,1931.1L1693.5,1930.8L1694.5,1930.5L1695.5,1930.2L1696.5,1930.0L1697.5,1929.7L1698.5,1929.4L1699.5,1929.1L1700.5,1928.9L1701.5,1928.6L1702.5,1928.3L1703.5,1928.0L1704.5,1927.8L1705.5,1927.5L1706.5,1927.2L1707.5,1926.9L1708.5,1926.7L1709.5,1926.4L1710.5,1926.1L1711.5,1925.9L1712.5,1925.6L1713.5,1925.4L1714.5,1925.1L1715.5,1924.8L1716.5,1924.6L1717.5,1924.3L1718.5,1924.1L1719.5,1923.8L1720.5,1923.6L1721.5,1923.3L1722.5,1923.1L1723.5,1922.8L1724.5,1922.6L1725.5,1922.3L1726.5,1922.1L1727.5,1921.8L1728.5,1921.6L1729.5,1921.4L1730.5,1921.1L1731.5,1920.9L1732.5,1920.6L1733.5,1920.4L1734.5,1920.2L1735.5,1919.9L1736.5,1919.7L1737.5,1919.5L1738.5,1919.3L1739.5,1919.0L1740.5,1918.8L1741.5,1918.6L1742.5,1918.4L1743.5,1918.2L1744.5,1917.9L1745.5,1917.7L1746.5,1917.5L1747.5,1917.3L1748.5,1917.1L1749.5,1916.9L1750.5,1916.7L1751.5,1916.4L1752.5,1916.2L1753.5,1916.0L1754.5,1915.8L1755.5,1915.6L1756.5,1915.4L1757.5,1915.2L1758.5,1915.0L1759.5,1914.8L1760.5,1914.6L1761.5,1914.5L1762.5,1914.3L1763.5,1914.1L1764.5,1913.9L1765.5,1913.7L1766.5,1913.5L1767.5,1913.3L1768.5,1913.2L1769.5,1913.0L1770.5,1912.8L1771.5,1912.6L1772.5,1912.5L1773.5,1912.3L1774.5,1912.1L1775.5,1912.0L1776.5,1911.8L1777.5,1911.6L1778.5,1911.5L1779.5,1911.3L1780.5,1911.2L1781.5,1911.0L1782.5,1910.9L1783.5,1910.7L1784.5,1910.6L1785.5,1910.5L1786.5,1910.3L1787.5,1910.2L1788.5,1910.1L1789.5,1910.0L1790.5,1909.9L1791.5,1909.8L1792.5,1909.7L1793.5,1909.6L1794.5,1909.5L1795.5,1909.5L1796.5,1909.4L1797.5,1909.3L1798.5,1909.3L1799.5,1909.2L1800.5,1909.2L1801.5,1909.1L1802.5,1909.1L1803.5,1909.0L1804.5,1909.0L1805.5,1908.9L1806.5,1908.9L1807.5,1908.9L1808.5,1908.8L1809.5,1908.8L1810.5,1908.8L1811.5,1908.7L1812.5,1908.7L1813.5,1908.7L1814.5,1908.7L1815.5,1908.7L1816.5,1908.6L1817.5,1908.6L1818.5,1908.6L1819.5,1908.6L1820.5,1908.6L1821.5,1908.6L1822.5,1908.5L1823.5,1908.5L1824.5,1908.5L1825.5,1908.5L1826.5,1908.5L1827.5,1908.5L1828.5,1908.5L1829.5,1908.5L1830.5,1908.5L1831.5,1908.5L1832.5,1908.5L1833.5,1908.5L1834.5,1908.5L1835.5,1908.5L1836.5,1908.5L1837.5,1908.5L1838.5,1908.5L1839.5,1908.5L1840.5,1908.5L1841.5,1908.5L1842.5,1908.5L1843.5,1908.5L1844.5,1908.6L1845.5,1908.6L1846.5,1908.6L1847.5,1908.6L1848.5,1908.6L1849.5,1908.6L1850.5,1908.6L1851.5,1908.6L1852.5,1908.6L1853.5,1908.6L1854.5,1908.6L1855.5,1908.6L1856.5,1908.7L1857.5,1908.7L1858.5,1908.8L1859.5,1908.9L1860.5,1909.0L1861.5,1909.0L1862.5,1909.2L1863.5,1909.3L1864.5,1909.4L1865.5,1909.5L1866.5,1909.6L1867.5,1909.8L1868.5,1909.9L1869.5,1910.0L1870.5,1910.2L1871.5,1910.3L1872.5,1910.4L1873.5,1910.6L1874.5,1910.7L1875.5,1910.8L1876.5,1910.9L1877.5,1911.0L1878.5,1911.1L1879.5,1911.2L1880.5,1911.3L1881.5,1911.4L1882.5,1911.5L1883.5,1911.6L1884.5,1911.7L1885.5,1911.8L1886.5,1912.0L1887.5,1912.1L1888.5,1912.2L1889.5,1912.3L1890.5,1912.4L1891.5,1912.6L1892.5,1912.7L1893.5,1912.9L1894.5,1913.1L1895.5,1913.3L1896.5,1913.5L1897.5,1913.8L1898.5,1914.2L1899.5,1914.6L1900.5,1915.0L1901.5,1915.5L1902.5,1915.9L1903.5,1916.3L1904.5,1916.7L1905.5,1916.9L1906.5,1917.2L1907.5,1917.4L1908.5,1917.6L1909.5,1917.7L1910.5,1917.9L1911.5,1918.1L1912.5,1918.2L1913.5,1918.4L1914.5,1918.5L1915.5,1918.7L1916.5,1918.8L1917.5,1918.9L1918.5,1919.1L1919.5,1919.2L1920.5,1919.4L1921.5,1919.5L1922.5,1919.7L1923.5,1919.8L1924.5,1920.0L1925.5,1920.2L1926.5,1920.4L1927.5,1920.6L1928.5,1920.8L1929.5,1921.0L1930.5,1921.2L1931.5,1921.4L1932.5,1921.6L1933.5,1921.8L1934.5,1922.0L1935.5,1922.3L1936.5,1922.5L1937.5,1922.7L1938.5,1922.9L1939.5,1923.2L1940.5,1923.4L1941.5,1923.6L1942.5,1923.9L1943.5,1924.1L1944.5,1924.3L1945.5,1924.6L1946.5,1924.8L1947.5,1925.1L1948.5,1925.3L1949.5,1925.6L1950.5,1925.8L1951.5,1926.1L1952.5,1926.3L1953.5,1926.6L1954.5,1926.9L1955.5,1927.2L1956.5,1927.5L1957.5,1927.8L1958.5,1928.1L1959.5,1928.3L1960.5,1928.6L1961.5,1928.9L1962.5,1929.2L1963.5,1929.5L1964.5,1929.8L1965.5,1930.1L1966.5,1930.4L1967.5,1930.7L1968.5,1930.9L1969.5,1931.2L1970.5,1931.5L1971.5,1931.7L1972.5,1932.0L1973.5,1932.2L1974.5,1932.5L1975.5,1932.7L1976.5,1933.0L1977.5,1933.3L1978.5,1933.5L1979.5,1933.8L1980.5,1934.0L1981.5,1934.3L1982.5,1934.5L1983.5,1934.8L1984.5,1935.0L1985.5,1935.2L1986.5,1935.5L1987.5,1935.7L1988.5,1936.0L1989.5,1936.2L1990.5,1936.4L1991.5,1936.7L1992.5,1936.9L1993.5,1937.1L1994.5,1937.3L1995.5,1937.6L1996.5,1937.8L1997.5,1938.0L1998.5,1938.2L1999.5,1938.5L2000.5,1938.7L2001.5,1938.9L2002.5,1939.1L2003.5,1939.3L2004.5,1939.5L2005.5,1939.7L2006.5,1940.0L2007.5,1940.2L2008.5,1940.4L2009.5,1940.6L2010.5,1940.8L2011.5,1941.0L2012.5,1941.2L2013.5,1941.4L2014.5,1941.6L2015.5,1941.8L2016.5,1942.0L2017.5,1942.2L2018.5,1942.4L2019.5,1942.6L2020.5,1942.7L2021.5,1942.9L2022.5,1943.1L2023.5,1943.3L2024.5,1943.5L2025.5,1943.7L2026.5,1943.9L2027.5,1944.0L2028.5,1944.2L2029.5,1944.4L2030.5,1944.6L2031.5,1944.7L2032.5,1944.9L2033.5,1945.1L2034.5,1945.3L2035.5,1945.4L2036.5,1945.6L2037.5,1945.8L2038.5,1945.9L2039.5,1946.1L2040.5,1946.3L2041.5,1946.4L2042.5,1946.6L2043.5,1946.7L2044.5,1946.9L2045.5,1947.0L2046.5,1947.2L2047.5,1947.4L2048.5,1947.5L2049.5,1947.7L2050.5,1947.8L2051.5,1948.0L2052.5,1948.1L2053.5,1948.3L2054.5,1948.4L2055.5,1948.5L2056.5,1948.7L2057.5,1948.8L2058.5,1949.0L2059.5,1949.1L2060.5,1949.2L2061.5,1949.4L2062.5,1949.5L2063.5,1949.6L2064.5,1949.8L2065.5,1949.9L2066.5,1950.0L2067.5,1950.2L2068.5,1950.3L2069.5,1950.4L2070.5,1950.6L2071.5,1950.7L2072.5,1950.8L2073.5,1950.9L2074.5,1951.0L2075.5,1951.2L2076.5,1951.3L2077.5,1951.4L2078.5,1951.5L2079.5,1951.6L2080.5,1951.8L2081.5,1951.9L2082.5,1952.0L2083.5,1952.1L2084.5,1952.2L2085.5,1952.3L2086.5,1952.4L2087.5,1952.5L2088.5,1952.6L2089.5,1952.7L2090.5,1952.8L2091.5,1952.9L2092.5,1953.0L2093.5,1953.1L2094.5,1953.2L2095.5,1953.3L2096.5,1953.4L2097.5,1953.5L2098.5,1953.6L2099.5,1953.7L2100.5,1953.8L2101.5,1953.9L2102.5,1954.0L2103.5,1954.1L2104.5,1954.2L2105.5,1954.3L2106.5,1954.4L2107.5,1954.5L2108.5,1954.6L2109.5,1954.6L2110.5,1954.7L2111.5,1954.8L2112.5,1954.9L2113.5,1955.0L2114.5,1955.1L2115.5,1955.1L2116.5,1955.2L2117.5,1955.3L2118.5,1955.4L2119.5,1955.5L2120.5,1955.5L2121.5,1955.6L2122.5,1955.7L2123.5,1955.8L2124.5,1955.8L2125.5,1955.9L2126.5,1956.0L2127.5,1956.0L2128.5,1956.1L2129.5,1956.2L2130.5,1956.3L2131.5,1956.3L2132.5,1956.4L2133.5,1956.5L2134.5,1956.5L2135.5,1956.6L2136.5,1956.6L2137.5,1956.7L2138.5,1956.8L2139.5,1956.8L2140.5,1956.9L2141.5,1957.0L2142.5,1957.0L2143.5,1957.1L2144.5,1957.1L2145.5,1957.2L2146.5,1957.2L2147.5,1957.3L2148.5,1957.3L2149.5,1957.4L2150.5,1957.5L2151.5,1957.5L2152.5,1957.6L2153.5,1957.6L2154.5,1957.7L2155.5,1957.7L2156.5,1957.8L2157.5,1957.8L2158.5,1957.9L2159.5,1957.9L2160.5,1957.9L2161.5,1958.0L2162.5,1958.0L2163.5,1958.1L2164.5,1958.1L2165.5,1958.2L2166.5,1958.2L2167.5,1958.2L2168.5,1958.3L2169.5,1958.3L2170.5,1958.4L2171.5,1958.4L2172.5,1958.4L2173.5,1958.5L2174.5,1958.5L2175.5,1958.5L2176.5,1958.6L2177.5,1958.6L2178.5,1958.6L2179.5,1958.7L2180.5,1958.7L2181.5,1958.7L2182.5,1958.8L2183.5,1958.8L2184.5,1958.8L2185.5,1958.8L2186.5,1958.9L2187.5,1958.9L2188.5,1958.9L2189.5,1958.9L2190.5,1959.0L2191.5,1959.0L2192.5,1959.0L2193.5,1959.0L2194.5,1959.1L2195.5,1959.1L2196.5,1959.1L2197.5,1959.1L2198.5,1959.2L2199.5,1959.2L2200.5,1959.2L2201.5,1959.2L2202.5,1959.2L2203.5,1959.3L2204.5,1959.3L2205.5,1959.3L2206.5,1959.3L2207.5,1959.3L2208.5,1959.3L2209.5,1959.4L2210.5,1959.4L2211.5,1959.4L2212.5,1959.4L2213.5,1959.4L2214.5,1959.4L2215.5,1959.5L2216.5,1959.5L2217.5,1959.5L2218.5,1959.5L2219.5,1959.5L2220.5,1959.5L2221.5,1959.6L2222.5,1959.6L2223.5,1959.6L2224.5,1959.6L2225.5,1959.6L2226.5,1959.6L2227.5,1959.6L2228.5,1959.7L2229.5,1959.7L2230.5,1959.7L2231.5,1959.7L2232.5,1959.7L2233.5,1959.7L2234.5,1959.7L2235.5,1959.8L2236.5,1959.8L2237.5,1959.8L2238.5,1959.8L2239.5,1959.8L2240.5,1959.8L2241.5,1959.8L2242.5,1959.9L2243.5,1959.9L2244.5,1959.9L2245.5,1959.9L2246.5,1959.9L2247.5,1959.9L2248.5,1959.9L2249.5,1959.9L2250.5,1960.0L2251.5,1960.0L2252.5,1960.0L2253.5,1960.0L2254.5,1960.0L2255.5,1960.0L2256.5,1960.0L2257.5,1960.0L2258.5,1960.1L2259.5,1960.1L2260.5,1960.1L2261.5,1960.1L2262.5,1960.1L2263.5,1960.1L2264.5,1960.1L2265.5,1960.1L2266.5,1960.2L2267.5,1960.2L2268.5,1960.2L2269.5,1960.2L2270.5,1960.2L2271.5,1960.2L2272.5,1960.2L2273.5,1960.2L2274.5,1960.2L2275.5,1960.2L2276.5,1960.3L2277.5,1960.3L2278.5,1960.3L2279.5,1960.3L2280.5,1960.3L2281.5,1960.3L2282.5,1960.3L2283.5,1960.3L2284.5,1960.3L2285.5,1960.3L2286.5,1960.3L2287.5,1960.3L2288.5,1960.3L2289.5,1960.4L2290.5,1960.4L2291.5,1960.4L2292.5,1960.4L2293.5,1960.4L2294.5,1960.4L2295.5,1960.4L2296.5,1960.4L2297.5,1960.4L2298.5,1960.4L2299.5,1960.4L2300.5,1960.4L2301.5,1960.4L2302.5,1960.4L2303.5,1960.4L2304.5,1960.4L2305.5,1960.4L2306.5,1960.4L2307.5,1960.4L2308.5,1960.4L2309.5,1960.5L2310.5,1960.5L2311.5,1960.5L2312.5,1960.5L2313.5,1960.5L2314.5,1960.5L2315.5,1960.5L2316.5,1960.5L2317.5,1960.5L2319.3,1960.5" stroke="#f00" stroke-width="5.4" fill="none" stroke-linejoin="round"/>
<path d="M1389.5,1961.2L1390.5,1961.2L1391.5,1961.2L1392.5,1961.2L1393.5,1961.2L1394.5,1961.2L1395.5,1961.2L1396.5,1961.2L1397.5,1961.2L1398.5,1961.2L1399.5,1961.2L1400.5,1961.2L1401.5,1961.2L1402.5,1961.2L1403.5,1961.2L1404.5,1961.2L1405.5,1961.2L1406.5,1961.2L1407.5,1961.2L1408.5,1961.2L1409.5,1961.2L1410.5,1961.2L1411.5,1961.2L1412.5,1961.2L1413.5,1961.2L1414.5,1961.2L1415.5,1961.2L1416.5,1961.2L1417.5,1961.2L1418.5,1961.2L1419.5,1961.2L1420.5,1961.2L1421.5,1961.2L1422.5,1961.2L1423.5,1961.2L1424.5,1961.2L1425.5,1961.2L1426.5,1961.2L1427.5,1961.2L1428.5,1961.2L1429.5,1961.2L1430.5,1961.2L1431.5,1961.2L1432.5,1961.2L1433.5,1961.2L1434.5,1961.2L1435.5,1961.2L1436.5,1961.2L1437.5,1961.2L1438.5,1961.2L1439.5,1961.2L1440.5,1961.2L1441.5,1961.1L1442.5,1961.1L1443.5,1961.1L1444.5,1961.1L1445.5,1961.1L1446.5,1961.1L1447.5,1961.1L1448.5,1961.1L1449.5,1961.1L1450.5,1961.1L1451.5,1961.1L1452.5,1961.1L1453.5,1961.1L1454.5,1961.1L1455.5,1961.1L1456.5,1961.1L1457.5,1961.1L1458.5,1961.1L1459.5,1961.1L1460.5,1961.1L1461.5,1961.1L1462.5,1961.1L1463.5,1961.1L1464.5,1961.1L1465.5,1961.1L1466.5,1961.1L1467.5,1961.1L1468.5,1961.1L1469.5,1961.1L1470.5,1961.1L1471.5,1961.1L1472.5,1961.1L1473.5,1961.1L1474.5,1961.1L1475.5,1961.1L1476.5,1961.1L1477.5,1961.1L1478.5,1961.1L1479.5,1961.1L1480.5,1961.1L1481.5,1961.1L1482.5,1961.1L1483.5,1961.1L1484.5,1961.1L1485.5,1961.1L1486.5,1961.1L1487.5,1961.1L1488.5,1961.1L1489.5,1961.1L1490.5,1961.0L1491.5,1961.0L1492.5,1961.0L1493.5,1961.0L1494.5,1961.0L1495.5,1961.0L1496.5,1961.0L1497.5,1961.0L1498.5,1961.0L1499.5,1961.0L1500.5,1961.0L1501.5,1961.0L1502.5,1961.0L1503.5,1961.0L1504.5,1961.0L1505.5,1961.0L1506.5,1961.0L1507.5,1961.0L1508.5,1961.0L1509.5,1961.0L1510.5,1961.0L1511.5,1961.0L1512.5,1961.0L1513.5,1961.0L1514.5,1961.0L1515.5,1961.0L1516.5,1961.0L1517.5,1961.0L1518.5,1961.0L1519.5,1961.0L1520.5,1961.0L1521.5,1961.0L1522.5,1961.0L1523.5,1961.0L1524.5,1961.0L1525.5,1961.0L1526.5,1961.0L1527.5,1961.0L1528.5,1961.0L1529.5,1961.0L1530.5,1961.0L1531.5,1961.0L1532.5,1960.9L1533.5,1960.9L1534.5,1960.9L1535.5,1960.9L1536.5,1960.9L1537.5,1960.9L1538.5,1960.9L1539.5,1960.9L1540.5,1960.9L1541.5,1960.9L1542.5,1960.9L1543.5,1960.9L1544.5,1960.9L1545.5,1960.9L1546.5,1960.9L1547.5,1960.9L1548.5,1960.9L1549.5,1960.9L1550.5,1960.9L1551.5,1960.9L1552.5,1960.9L1553.5,1960.9L1554.5,1960.9L1555.5,1960.9L1556.5,1960.9L1557.5,1960.8L1558.5,1960.8L1559.5,1960.8L1560.5,1960.8L1561.5,1960.8L1562.5,1960.8L1563.5,1960.8L1564.5,1960.8L1565.5,1960.8L1566.5,1960.8L1567.5,1960.8L1568.5,1960.8L1569.5,1960.8L1570.5,1960.8L1571.5,1960.8L1572.5,1960.8L1573.5,1960.8L1574.5,1960.8L1575.5,1960.8L1576.5,1960.7L1577.5,1960.7L1578.5,1960.7L1579.5,1960.7L1580.5,1960.7L1581.5,1960.7L1582.5,1960.7L1583.5,1960.7L1584.5,1960.7L1585.5,1960.7L1586.5,1960.7L1587.5,1960.7L1588.5,1960.7L1589.5,1960.7L1590.5,1960.7L1591.5,1960.7L1592.5,1960.7L1593.5,1960.6L1594.5,1960.6L1595.5,1960.6L1596.5,1960.6L1597.5,1960.6L1598.5,1960.6L1599.5,1960.6L1600.5,1960.6L1601.5,1960.6L1602.5,1960.6L1603.5,1960.6L1604.5,1960.6L1605.5,1960.6L1606.5,1960.6L1607.5,1960.6L1608.5,1960.5L1609.5,1960.5L1610.5,1960.5L1611.5,1960.5L1612.5,1960.5L1613.5,1960.5L1614.5,1960.5L1615.5,1960.5L1616.5,1960.5L1617.5,1960.5L1618.5,1960.5L1619.5,1960.5L1620.5,1960.5L1621.5,1960.5L1622.5,1960.5L1623.5,1960.5L1624.5,1960.4L1625.5,1960.4L1626.5,1960.4L1627.5,1960.4L1628.5,1960.4L1629.5,1960.4L1630.5,1960.4L1631.5,1960.4L1632.5,1960.4L1633.5,1960.4L1634.5,1960.4L1635.5,1960.4L1636.5,1960.4L1637.5,1960.4L1638.5,1960.4L1639.5,1960.4L1640.5,1960.4L1641.5,1960.4L1642.5,1960.4L1643.5,1960.3L1644.5,1960.3L1645.5,1960.3L1646.5,1960.3L1647.5,1960.3L1648.5,1960.3L1649.5,1960.3L1650.5,1960.3L1651.5,1960.3L1652.5,1960.3L1653.5,1960.3L1654.5,1960.3L1655.5,1960.3L1656.5,1960.3L1657.5,1960.3L1658.5,1960.3L1659.5,1960.3L1660.5,1960.3L1661.5,1960.3L1662.5,1960.3L1663.5,1960.3L1664.5,1960.3L1665.5,1960.3L1666.5,1960.3L1667.5,1960.3L1668.5,1960.3L1669.5,1960.2L1670.5,1960.2L1671.5,1960.2L1672.5,1960.2L1673.5,1960.2L1674.5,1960.2L1675.5,1960.2L1676.5,1960.2L1677.5,1960.2L1678.5,1960.2L1679.5,1960.2L1680.5,1960.2L1681.5,1960.2L1682.5,1960.2L1683.5,1960.2L1684.5,1960.2L1685.5,1960.2L1686.5,1960.2L1687.5,1960.2L1688.5,1960.2L1689.5,1960.2L1690.5,1960.2L1691.5,1960.2L1692.5,1960.2L1693.5,1960.2L1694.5,1960.2L1695.5,1960.2L1696.5,1960.2L1697.5,1960.2L1698.5,1960.2L1699.5,1960.2L1700.5,1960.2L1701.5,1960.2L1702.5,1960.2L1703.5,1960.2L1704.5,1960.2L1705.5,1960.2L1706.5,1960.2L1707.5,1960.2L1708.5,1960.2L1709.5,1960.2L1710.5,1960.2L1711.5,1960.2L1712.5,1960.2L1713.5,1960.2L1714.5,1960.2L1715.5,1960.2L1716.5,1960.2L1717.5,1960.2L1718.5,1960.2L1719.5,1960.2L1720.5,1960.2L1721.5,1960.1L1722.5,1960.1L1723.5,1960.1L1724.5,1960.1L1725.5,1960.1L1726.5,1960.1L1727.5,1960.1L1728.5,1960.1L1729.5,1960.1L1730.5,1960.1L1731.5,1960.1L1732.5,1960.1L1733.5,1960.1L1734.5,1960.1L1735.5,1960.1L1736.5,1960.1L1737.5,1960.1L1738.5,1960.1L1739.5,1960.1L1740.5,1960.1L1741.5,1960.1L1742.5,1960.1L1743.5,1960.1L1744.5,1960.1L1745.5,1960.1L1746.5,1960.1L1747.5,1960.1L1748.5,1960.1L1749.5,1960.1L1750.5,1960.1L1751.5,1960.1L1752.5,1960.1L1753.5,1960.1L1754.5,1960.1L1755.5,1960.1L1756.5,1960.1L1757.5,1960.1L1758.5,1960.1L1759.5,1960.1L1760.5,1960.1L1761.5,1960.1L1762.5,1960.1L1763.5,1960.1L1764.5,1960.1L1765.5,1960.1L1766.5,1960.1L1767.5,1960.1L1768.5,1960.1L1769.5,1960.1L1770.5,1960.1L1771.5,1960.1L1772.5,1960.1L1773.5,1960.1L1774.5,1960.1L1775.5,1960.1L1776.5,1960.1L1777.5,1960.1L1778.5,1960.1L1779.5,1960.1L1780.5,1960.1L1781.5,1960.1L1782.5,1960.1L1783.5,1960.1L1784.5,1960.1L1785.5,1960.1L1786.5,1960.1L1787.5,1960.0L1788.5,1960.0L1789.5,1960.0L1790.5,1960.0L1791.5,1960.0L1792.5,1960.0L1793.5,1960.0L1794.5,1960.0L1795.5,1960.0L1796.5,1960.0L1797.5,1960.0L1798.5,1960.0L1799.5,1960.0L1800.5,1960.0L1801.5,1960.0L1802.5,1960.0L1803.5,1960.0L1804.5,1960.0L1805.5,1960.0L1806.5,1960.0L1807.5,1960.0L1808.5,1960.0L1809.5,1960.0L1810.5,1960.0L1811.5,1960.0L1812.5,1960.0L1813.5,1960.0L1814.5,1960.0L1815.5,1960.0L1816.5,1960.0L1817.5,1960.0L1818.5,1960.0L1819.5,1960.0L1820.5,1960.0L1821.5,1960.0L1822.5,1960.0L1823.5,1960.0L1824.5,1960.0L1825.5,1960.0L1826.5,1960.0L1827.5,1960.0L1828.5,1960.0L1829.5,1960.0L1830.5,1960.0L1831.5,1960.0L1832.5,1960.0L1833.5,1960.0L1834.5,1960.0L1835.5,1960.0L1836.5,1960.0L1837.5,1960.0L1838.5,1960.0L1839.5,1960.0L1840.5,1960.0L1841.5,1960.0L1842.5,1960.0L1843.5,1960.0L1844.5,1960.0L1845.5,1960.0L1846.5,1960.0L1847.5,1960.0L1848.5,1960.0L1849.5,1960.0L1850.5,1960.0L1851.5,1960.0L1852.5,1960.0L1853.5,1960.0L1854.5,1960.0L1855.5,1960.0L1856.5,1960.0L1857.5,1960.0L1858.5,1960.0L1859.5,1960.0L1860.5,1960.0L1861.5,1960.0L1862.5,1960.0L1863.5,1960.0L1864.5,1960.0L1865.5,1960.0L1866.5,1960.0L1867.5,1960.0L1868.5,1960.0L1869.5,1960.0L1870.5,1960.0L1871.5,1960.0L1872.5,1960.0L1873.5,1960.0L1874.5,1960.0L1875.5,1960.0L1876.5,1960.0L1877.5,1960.0L1878.5,1960.0L1879.5,1960.0L1880.5,1960.0L1881.5,1960.0L1882.5,1960.0L1883.5,1960.0L1884.5,1960.0L1885.5,1960.0L1886.5,1960.0L1887.5,1960.0L1888.5,1960.0L1889.5,1960.0L1890.5,1960.0L1891.5,1960.0L1892.5,1960.0L1893.5,1960.0L1894.5,1960.0L1895.5,1960.0L1896.5,1960.0L1897.5,1960.0L1898.5,1960.0L1899.5,1960.0L1900.5,1960.0L1901.5,1960.0L1902.5,1960.0L1903.5,1960.0L1904.5,1960.0L1905.5,1960.0L1906.5,1960.0L1907.5,1960.0L1908.5,1960.0L1909.5,1960.0L1910.5,1960.0L1911.5,1960.0L1912.5,1960.0L1913.5,1960.0L1914.5,1960.0L1915.5,1960.0L1916.5,1960.0L1917.5,1960.0L1918.5,1960.0L1919.5,1960.0L1920.5,1960.0L1921.5,1960.0L1922.5,1960.0L1923.5,1960.0L1924.5,1960.0L1925.5,1960.0L1926.5,1960.0L1927.5,1960.0L1928.5,1960.0L1929.5,1960.0L1930.5,1960.0L1931.5,1960.0L1932.5,1960.0L1933.5,1960.0L1934.5,1960.0L1935.5,1960.0L1936.5,1960.0L1937.5,1960.0L1938.5,1960.0L1939.5,1960.0L1940.5,1960.0L1941.5,1960.0L1942.5,1960.0L1943.5,1960.0L1944.5,1960.0L1945.5,1960.0L1946.5,1960.1L1947.5,1960.1L1948.5,1960.1L1949.5,1960.1L1950.5,1960.1L1951.5,1960.1L1952.5,1960.1L1953.5,1960.1L1954.5,1960.1L1955.5,1960.1L1956.5,1960.1L1957.5,1960.1L1958.5,1960.1L1959.5,1960.1L1960.5,1960.1L1961.5,1960.1L1962.5,1960.1L1963.5,1960.1L1964.5,1960.1L1965.5,1960.1L1966.5,1960.1L1967.5,1960.1L1968.5,1960.1L1969.5,1960.1L1970.5,1960.1L1971.5,1960.1L1972.5,1960.1L1973.5,1960.1L1974.5,1960.1L1975.5,1960.1L1976.5,1960.1L1977.5,1960.1L1978.5,1960.1L1979.5,1960.1L1980.5,1960.1L1981.5,1960.1L1982.5,1960.1L1983.5,1960.1L1984.5,1960.1L1985.5,1960.2L1986.5,1960.2L1987.5,1960.2L1988.5,1960.2L1989.5,1960.2L1990.5,1960.2L1991.5,1960.2L1992.5,1960.2L1993.5,1960.2L1994.5,1960.2L1995.5,1960.2L1996.5,1960.2L1997.5,1960.2L1998.5,1960.2L1999.5,1960.2L2000.5,1960.2L2001.5,1960.2L2002.5,1960.2L2003.5,1960.2L2004.5,1960.2L2005.5,1960.2L2006.5,1960.2L2007.5,1960.2L2008.5,1960.2L2009.5,1960.2L2010.5,1960.2L2011.5,1960.2L2012.5,1960.2L2013.5,1960.2L2014.5,1960.2L2015.5,1960.2L2016.5,1960.3L2017.5,1960.3L2018.5,1960.3L2019.5,1960.3L2020.5,1960.3L2021.5,1960.3L2022.5,1960.3L2023.5,1960.3L2024.5,1960.3L2025.5,1960.3L2026.5,1960.3L2027.5,1960.3L2028.5,1960.3L2029.5,1960.3L2030.5,1960.3L2031.5,1960.3L2032.5,1960.3L2033.5,1960.3L2034.5,1960.3L2035.5,1960.3L2036.5,1960.3L2037.5,1960.3L2038.5,1960.3L2039.5,1960.3L2040.5,1960.3L2041.5,1960.3L2042.5,1960.3L2043.5,1960.3L2044.5,1960.3L2045.5,1960.3L2046.5,1960.4L2047.5,1960.4L2048.5,1960.4L2049.5,1960.4L2050.5,1960.4L2051.5,1960.4L2052.5,1960.4L2053.5,1960.4L2054.5,1960.4L2055.5,1960.4L2056.5,1960.4L2057.5,1960.4L2058.5,1960.4L2059.5,1960.4L2060.5,1960.4L2061.5,1960.4L2062.5,1960.4L2063.5,1960.4L2064.5,1960.4L2065.5,1960.4L2066.5,1960.4L2067.5,1960.4L2068.5,1960.4L2069.5,1960.4L2070.5,1960.4L2071.5,1960.4L2072.5,1960.4L2073.5,1960.4L2074.5,1960.4L2075.5,1960.4L2076.5,1960.4L2077.5,1960.4L2078.5,1960.4L2079.5,1960.4L2080.5,1960.4L2081.5,1960.5L2082.5,1960.5L2083.5,1960.5L2084.5,1960.5L2085.5,1960.5L2086.5,1960.5L2087.5,1960.5L2088.5,1960.5L2089.5,1960.5L2090.5,1960.5L2091.5,1960.5L2092.5,1960.5L2093.5,1960.5L2094.5,1960.5L2095.5,1960.5L2096.5,1960.5L2097.5,1960.5L2098.5,1960.5L2099.5,1960.5L2100.5,1960.5L2101.5,1960.5L2102.5,1960.5L2103.5,1960.5L2104.5,1960.5L2105.5,1960.5L2106.5,1960.5L2107.5,1960.5L2108.5,1960.5L2109.5,1960.5L2110.5,1960.5L2111.5,1960.5L2112.5,1960.5L2113.5,1960.5L2114.5,1960.5L2115.5,1960.5L2116.5,1960.5L2117.5,1960.5L2118.5,1960.5L2119.5,1960.5L2120.5,1960.5L2121.5,1960.5L2122.5,1960.5L2123.5,1960.5L2124.5,1960.6L2125.5,1960.6L2126.5,1960.6L2127.5,1960.6L2128.5,1960.6L2129.5,1960.6L2130.5,1960.6L2131.5,1960.6L2132.5,1960.6L2133.5,1960.6L2134.5,1960.6L2135.5,1960.6L2136.5,1960.6L2137.5,1960.6L2138.5,1960.6L2139.5,1960.6L2140.5,1960.6L2141.5,1960.6L2142.5,1960.6L2143.5,1960.6L2144.5,1960.6L2145.5,1960.6L2146.5,1960.6L2147.5,1960.6L2148.5,1960.6L2149.5,1960.6L2150.5,1960.6L2151.5,1960.6L2152.5,1960.6L2153.5,1960.6L2154.5,1960.6L2155.5,1960.6L2156.5,1960.6L2157.5,1960.6L2158.5,1960.6L2159.5,1960.6L2160.5,1960.6L2161.5,1960.6L2162.5,1960.6L2163.5,1960.6L2164.5,1960.6L2165.5,1960.6L2166.5,1960.6L2167.5,1960.6L2168.5,1960.6L2169.5,1960.7L2170.5,1960.7L2171.5,1960.7L2172.5,1960.7L2173.5,1960.7L2174.5,1960.7L2175.5,1960.7L2176.5,1960.7L2177.5,1960.7L2178.5,1960.7L2179.5,1960.7L2180.5,1960.7L2181.5,1960.7L2182.5,1960.7L2183.5,1960.7L2184.5,1960.7L2185.5,1960.7L2186.5,1960.7L2187.5,1960.7L2188.5,1960.7L2189.5,1960.7L2190.5,1960.7L2191.5,1960.7L2192.5,1960.7L2193.5,1960.7L2194.5,1960.7L2195.5,1960.7L2196.5,1960.7L2197.5,1960.7L2198.5,1960.7L2199.5,1960.7L2200.5,1960.7L2201.5,1960.7L2202.5,1960.7L2203.5,1960.7L2204.5,1960.7L2205.5,1960.7L2206.5,1960.7L2207.5,1960.7L2208.5,1960.7L2209.5,1960.7L2210.5,1960.7L2211.5,1960.7L2212.5,1960.7L2213.5,1960.7L2214.5,1960.7L2215.5,1960.7L2216.5,1960.8L2217.5,1960.8L2218.5,1960.8L2219.5,1960.8L2220.5,1960.8L2221.5,1960.8L2222.5,1960.8L2223.5,1960.8L2224.5,1960.8L2225.5,1960.8L2226.5,1960.8L2227.5,1960.8L2228.5,1960.8L2229.5,1960.8L2230.5,1960.8L2231.5,1960.8L2232.5,1960.8L2233.5,1960.8L2234.5,1960.8L2235.5,1960.8L2236.5,1960.8L2237.5,1960.8L2238.5,1960.8L2239.5,1960.8L2240.5,1960.8L2241.5,1960.8L2242.5,1960.8L2243.5,1960.8L2244.5,1960.8L2245.5,1960.8L2246.5,1960.8L2247.5,1960.8L2248.5,1960.8L2249.5,1960.8L2250.5,1960.8L2251.5,1960.8L2252.5,1960.8L2253.5,1960.8L2254.5,1960.8L2255.5,1960.8L2256.5,1960.8L2257.5,1960.8L2258.5,1960.8L2259.5,1960.8L2260.5,1960.8L2261.5,1960.8L2262.5,1960.8L2263.5,1960.8L2264.5,1960.8L2265.5,1960.9L2266.5,1960.9L2267.5,1960.9L2268.5,1960.9L2269.5,1960.9L2270.5,1960.9L2271.5,1960.9L2272.5,1960.9L2273.5,1960.9L2274.5,1960.9L2275.5,1960.9L2276.5,1960.9L2277.5,1960.9L2278.5,1960.9L2279.5,1960.9L2280.5,1960.9L2281.5,1960.9L2282.5,1960.9L2283.5,1960.9L2284.5,1960.9L2285.5,1960.9L2286.5,1960.9L2287.5,1960.9L2288.5,1960.9L2289.5,1960.9L2290.5,1960.9L2291.5,1960.9L2292.5,1960.9L2293.5,1960.9L2294.5,1960.9L2295.5,1960.9L2296.5,1960.9L2297.5,1960.9L2298.5,1960.9L2299.5,1960.9L2300.5,1960.9L2301.5,1960.9L2302.5,1960.9L2303.5,1960.9L2304.5,1960.9L2305.5,1960.9L2306.5,1960.9L2307.5,1960.9L2308.5,1960.9L2309.5,1960.9L2310.5,1960.9L2311.5,1960.9L2312.5,1960.9L2313.5,1960.9L2314.5,1960.9L2315.5,1960.9L2316.5,1960.9L2317.5,1960.9L2319.3,1961.0" stroke="#00f" stroke-width="5.4" fill="none" stroke-linejoin="round"/></g>
<rect x="1387.50" y="1213.30" width="933.80" height="751.80" fill="none" stroke="#000" stroke-width="5.0"/>
<path d="M1387.50,1965.10v14.80M1504.22,1965.10v7.30M1620.95,1965.10v14.80M1737.68,1965.10v7.30M1854.40,1965.10v14.80M1971.12,1965.10v7.30M2087.85,1965.10v14.80M2204.58,1965.10v7.30M2321.30,1965.10v14.80M1387.50,1961.00h-14.80M1387.50,1836.38h-7.30M1387.50,1711.77h-14.80M1387.50,1587.15h-7.30M1387.50,1462.53h-14.80M1387.50,1337.92h-7.30M1387.50,1213.30h-14.80" stroke="#000" stroke-width="5.0" fill="none"/>
<path d="M955.2,158.0H1041.3" stroke="#000" stroke-width="5.8" fill="none"/>
<circle cx="955.2" cy="158.0" r="2.9" fill="#000"/>
<path d="M955.2,209.9H1041.3" stroke="#f00" stroke-width="5.8" fill="none"/>
<circle cx="955.2" cy="209.9" r="2.9" fill="#f00"/>
<path d="M955.2,262.6H1041.3" stroke="#00f" stroke-width="5.8" fill="none"/>
<circle cx="955.2" cy="262.6" r="2.9" fill="#00f"/>
<path d="M1961.2,159.7H2064.0" stroke="#000" stroke-width="5.8" fill="none"/>
<circle cx="1961.2" cy="159.7" r="2.9" fill="#000"/>
<path d="M1961.2,216.6H2064.0" stroke="#f00" stroke-width="5.8" fill="none"/>
<circle cx="1961.2" cy="216.6" r="2.9" fill="#f00"/>
<path d="M1961.2,274.2H2064.0" stroke="#00f" stroke-width="5.8" fill="none"/>
<circle cx="1961.2" cy="274.2" r="2.9" fill="#00f"/>
<path d="M826.1,1251.1H912.1" stroke="#000" stroke-width="5.8" fill="none"/>
<circle cx="826.1" cy="1251.1" r="2.9" fill="#000"/>
<path d="M826.1,1303.9H912.1" stroke="#f00" stroke-width="5.8" fill="none"/>
<circle cx="826.1" cy="1303.9" r="2.9" fill="#f00"/>
<path d="M826.1,1355.1H912.1" stroke="#00f" stroke-width="5.8" fill="none"/>
<circle cx="826.1" cy="1355.1" r="2.9" fill="#00f"/>
<path d="M1998.5,1248.3H2084.4" stroke="#000" stroke-width="5.8" fill="none"/>
<circle cx="1998.5" cy="1248.3" r="2.9" fill="#000"/>
<path d="M1998.5,1306.3H2084.4" stroke="#f00" stroke-width="5.8" fill="none"/>
<circle cx="1998.5" cy="1306.3" r="2.9" fill="#f00"/>
<path d="M1998.5,1363.0H2084.4" stroke="#00f" stroke-width="5.8" fill="none"/>
<circle cx="1998.5" cy="1363.0" r="2.9" fill="#00f"/>
<g font-family='"Liberation Sans", sans-serif' font-weight="bold" fill="#000"><text transform="translate(164.85,886.20) scale(1.0679,1)" font-size="43.5">0</text>
<text transform="translate(114.37,698.28) scale(1.0510,1)" font-size="43.5">200</text>
<text transform="translate(115.80,510.35) scale(1.0309,1)" font-size="43.5">400</text>
<text transform="translate(114.37,322.43) scale(1.0510,1)" font-size="43.5">600</text>
<text transform="translate(114.37,134.50) scale(1.0510,1)" font-size="43.5">800</text>
<text transform="translate(178.30,934.80) scale(1.0365,1)" font-size="43.5">400</text>
<text transform="translate(410.59,934.80) scale(1.0465,1)" font-size="43.5">500</text>
<text transform="translate(642.86,934.80) scale(1.0568,1)" font-size="43.5">600</text>
<text transform="translate(875.86,934.80) scale(1.0568,1)" font-size="43.5">700</text>
<text transform="translate(1108.86,934.80) scale(1.0568,1)" font-size="43.5">800</text>
<text transform="translate(1334.85,884.00) scale(1.0679,1)" font-size="43.5">0</text>
<text transform="translate(1310.60,695.92) scale(1.0339,1)" font-size="43.5">50</text>
<text transform="translate(1282.89,507.85) scale(1.0720,1)" font-size="43.5">100</text>
<text transform="translate(1282.89,319.77) scale(1.0720,1)" font-size="43.5">150</text>
<text transform="translate(1284.37,131.70) scale(1.0510,1)" font-size="43.5">200</text>
<text transform="translate(1348.30,932.60) scale(1.0365,1)" font-size="43.5">400</text>
<text transform="translate(1581.21,932.60) scale(1.0465,1)" font-size="43.5">500</text>
<text transform="translate(1814.11,932.60) scale(1.0568,1)" font-size="43.5">600</text>
<text transform="translate(2047.74,932.60) scale(1.0568,1)" font-size="43.5">700</text>
<text transform="translate(2281.36,932.60) scale(1.0568,1)" font-size="43.5">800</text>
<text transform="translate(164.55,1972.20) scale(1.0679,1)" font-size="43.5">0</text>
<text transform="translate(140.30,1723.13) scale(1.0339,1)" font-size="43.5">50</text>
<text transform="translate(112.59,1474.07) scale(1.0720,1)" font-size="43.5">100</text>
<text transform="translate(112.59,1225.00) scale(1.0720,1)" font-size="43.5">150</text>
<text transform="translate(178.00,2025.40) scale(1.0365,1)" font-size="43.5">400</text>
<text transform="translate(410.76,2025.40) scale(1.0465,1)" font-size="43.5">500</text>
<text transform="translate(643.51,2025.40) scale(1.0568,1)" font-size="43.5">600</text>
<text transform="translate(876.99,2025.40) scale(1.0568,1)" font-size="43.5">700</text>
<text transform="translate(1110.46,2025.40) scale(1.0568,1)" font-size="43.5">800</text>
<text transform="translate(1337.35,1973.00) scale(1.0679,1)" font-size="43.5">0</text>
<text transform="translate(1313.10,1723.77) scale(1.0339,1)" font-size="43.5">50</text>
<text transform="translate(1285.39,1474.53) scale(1.0720,1)" font-size="43.5">100</text>
<text transform="translate(1285.39,1225.30) scale(1.0720,1)" font-size="43.5">150</text>
<text transform="translate(1350.80,2025.70) scale(1.0365,1)" font-size="43.5">400</text>
<text transform="translate(1583.54,2025.70) scale(1.0465,1)" font-size="43.5">500</text>
<text transform="translate(1816.26,2025.70) scale(1.0568,1)" font-size="43.5">600</text>
<text transform="translate(2049.71,2025.70) scale(1.0568,1)" font-size="43.5">700</text>
<text transform="translate(2283.16,2025.70) scale(1.0568,1)" font-size="43.5">800</text>
<text transform="translate(1052.08,170.60) scale(0.9519,1)" font-size="39.0">HDA</text>
<text transform="translate(1052.65,223.00) scale(0.9445,1)" font-size="39.0">ODA</text>
<text transform="translate(1052.49,275.60) scale(0.9470,1)" font-size="39.0">DDA</text>
<text transform="translate(2072.88,173.60) scale(0.9933,1)" font-size="39.0">Fresh</text>
<text transform="translate(2189.84,173.60) scale(0.9548,1)" font-size="39.0">×</text>
<text transform="translate(2222.78,173.60) scale(1.0853,1)" font-size="39.0">0.25</text>
<text transform="translate(2094.50,230.10) scale(1.0667,1)" font-size="39.0">8</text>
<text transform="translate(2128.95,230.10) scale(1.0462,1)" font-size="39.0">h</text>
<text transform="translate(2074.90,287.70) scale(0.9833,1)" font-size="39.0">48</text>
<text transform="translate(2131.46,287.70) scale(1.0410,1)" font-size="39.0">h</text>
<text transform="translate(923.00,1263.60) scale(0.9899,1)" font-size="35.5">Fresh</text>
<text transform="translate(1029.82,1263.60) scale(0.9779,1)" font-size="35.5">×</text>
<text transform="translate(1059.48,1263.60) scale(1.1028,1)" font-size="35.5">0.25</text>
<text transform="translate(924.15,1316.60) scale(1.1629,1)" font-size="35.5">30</text>
<text transform="translate(974.84,1316.60) scale(1.1068,1)" font-size="35.5">min</text>
<text transform="translate(923.49,1367.80) scale(1.1803,1)" font-size="35.5">60</text>
<text transform="translate(974.84,1367.80) scale(1.1068,1)" font-size="35.5">min</text>
<text transform="translate(2095.11,1261.00) scale(0.9888,1)" font-size="35.5">Fresh</text>
<text transform="translate(2202.42,1261.00) scale(0.9724,1)" font-size="35.5">×</text>
<text transform="translate(2232.49,1261.00) scale(1.0939,1)" font-size="35.5">0.25</text>
<text transform="translate(2095.63,1318.60) scale(1.1136,1)" font-size="35.5">10</text>
<text transform="translate(2148.27,1318.60) scale(1.0933,1)" font-size="35.5">min</text>
<text transform="translate(2095.58,1376.10) scale(1.1255,1)" font-size="35.5">30</text>
<text transform="translate(2146.86,1376.10) scale(1.1001,1)" font-size="35.5">min</text>
<text transform="translate(504.67,87.00) scale(0.8947,1)" font-size="52.3">ASnBr</text>
<text transform="translate(652.60,87.40) scale(1.3128,1)" font-size="19.5" stroke="#000" stroke-width="0.7">4</text>
<text transform="translate(674.10,87.00) scale(0.9386,1)" font-size="52.3">(Fresh)</text>
<text transform="translate(1502.56,86.60) scale(0.9298,1)" font-size="52.3">HDASnBr</text>
<text transform="translate(1724.90,87.20) scale(1.2034,1)" font-size="19.5" stroke="#000" stroke-width="0.7">4</text>
<text transform="translate(1752.72,86.60) scale(1.0118,1)" font-size="52.3">(Heated</text>
<text transform="translate(1960.69,86.60) scale(0.9814,1)" font-size="52.3">@100</text>
<text transform="translate(2114.83,86.60) scale(0.8970,1)" font-size="52.3">°C)</text>
<text transform="translate(332.78,1171.50) scale(0.9276,1)" font-size="52.3">ODASnBr</text>
<text transform="translate(557.10,1172.20) scale(1.2672,1)" font-size="19.5" stroke="#000" stroke-width="0.7">4</text>
<text transform="translate(585.12,1171.50) scale(1.0118,1)" font-size="52.3">(Heated</text>
<text transform="translate(793.61,1171.50) scale(0.9762,1)" font-size="52.3">@100</text>
<text transform="translate(947.52,1171.50) scale(0.9025,1)" font-size="52.3">°C)</text>
<text transform="translate(1508.06,1171.50) scale(0.9302,1)" font-size="52.3">DDASnBr</text>
<text transform="translate(1730.30,1172.20) scale(1.2217,1)" font-size="19.5" stroke="#000" stroke-width="0.7">4</text>
<text transform="translate(1758.12,1171.50) scale(1.0118,1)" font-size="52.3">(Heated</text>
<text transform="translate(1966.19,1171.50) scale(0.9844,1)" font-size="52.3">@100</text>
<text transform="translate(2120.33,1171.50) scale(0.8984,1)" font-size="52.3">°C)</text>
<text transform="translate(22.05,75.00) scale(0.9812,1)" font-size="62.0">(a)</text>
<text transform="translate(1187.75,75.00) scale(0.9795,1)" font-size="62.0">(b)</text>
<text transform="translate(27.87,1147.00) scale(0.9062,1)" font-size="62.0">(c)</text>
<text transform="translate(1187.75,1145.00) scale(0.9795,1)" font-size="62.0">(d)</text>
<text transform="translate(452.20,1039.00) scale(1.0024,1)" font-size="57.0">Wavelength (nm)</text>
<text transform="translate(1623.30,1038.00) scale(1.0031,1)" font-size="57.0">Wavelength (nm)</text>
<text transform="translate(453.00,2131.00) scale(1.0022,1)" font-size="57.0">Wavelength (nm)</text>
<text transform="translate(1624.70,2131.00) scale(1.0022,1)" font-size="57.0">Wavelength (nm)</text>
<text transform="translate(88.60,727.96) rotate(-90) scale(0.9721,1)" font-size="57.0">PL Intensity (a.u.)</text>
<text transform="translate(1258.60,726.75) rotate(-90) scale(0.9695,1)" font-size="57.0">PL Intensity (a.u.)</text>
<text transform="translate(88.60,1817.96) rotate(-90) scale(0.9721,1)" font-size="57.0">PL Intensity (a.u.)</text>
<text transform="translate(1261.50,1817.96) rotate(-90) scale(0.9721,1)" font-size="57.0">PL Intensity (a.u.)</text></g>
</svg>
</body></html>
